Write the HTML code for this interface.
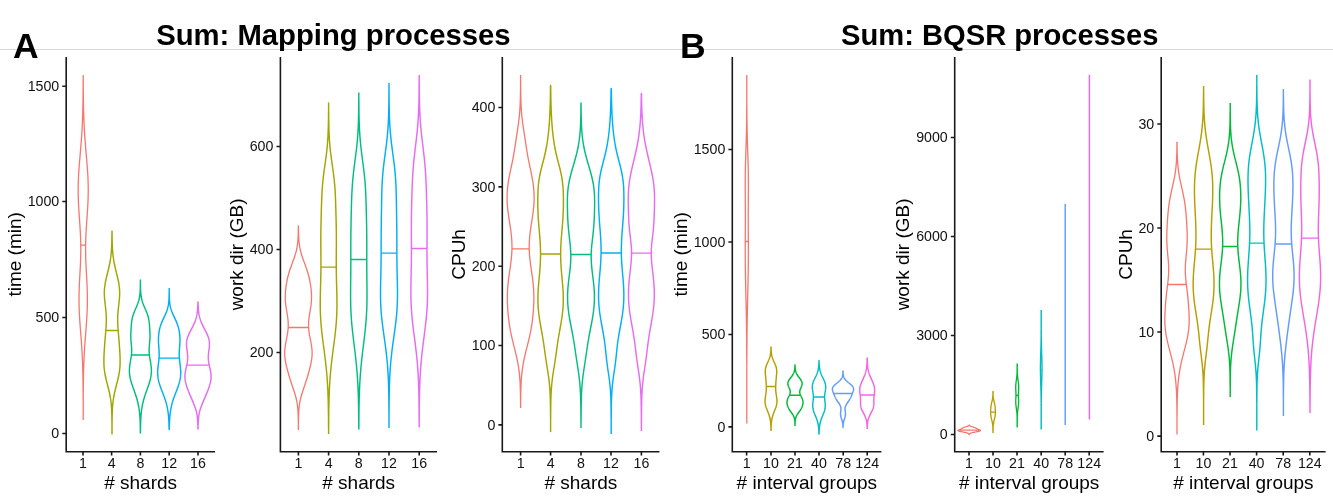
<!DOCTYPE html>
<html><head><meta charset="utf-8"><title>Sum plots</title>
<style>
html,body{margin:0;padding:0;background:#fff;}
body{width:1333px;height:500px;overflow:hidden;font-family:"Liberation Sans",sans-serif;}
svg{display:block}
svg text{font-family:"Liberation Sans",sans-serif;fill:#000}
.tk{font-size:14.2px;fill:#111}
.at{font-size:19px}
.ti{font-size:30.3px;font-weight:bold}
.tag{font-size:35.5px;font-weight:bold}
.v{fill:none;stroke-linejoin:round}
</style></head><body>
<svg width="1333" height="500" viewBox="0 0 1333 500">
<rect width="1333" height="500" fill="#fff"/>
<rect x="0" y="49" width="1333" height="1" fill="#d8d8d8"/>
<text class="tag" x="13" y="58">A</text>
<text class="tag" x="680" y="58">B</text>
<text class="ti" x="156.2" y="45.4" textLength="354.3" lengthAdjust="spacingAndGlyphs">Sum: Mapping processes</text>
<text class="ti" x="841" y="45.4" textLength="317.5" lengthAdjust="spacingAndGlyphs">Sum: BQSR processes</text>

<g stroke="#1a1a1a" stroke-width="1.6" fill="none">
<path stroke-linecap="square" d="M66.2 57.8V451.8H214.2"/>
<path d="M83 451.8v3.7M111.6 451.8v3.7M140.4 451.8v3.7M169.2 451.8v3.7M198 451.8v3.7M66.2 433.5h-3.9M66.2 317.5h-3.9M66.2 201.5h-3.9M66.2 86.25h-3.9"/>
</g>
<text class="tk" x="83" y="468" text-anchor="middle">1</text>
<text class="tk" x="111.6" y="468" text-anchor="middle">4</text>
<text class="tk" x="140.4" y="468" text-anchor="middle">8</text>
<text class="tk" x="169.2" y="468" text-anchor="middle">12</text>
<text class="tk" x="198" y="468" text-anchor="middle">16</text>
<text class="tk" x="59.2" y="438.4" text-anchor="end">0</text>
<text class="tk" x="59.2" y="322.4" text-anchor="end">500</text>
<text class="tk" x="59.2" y="206.4" text-anchor="end">1000</text>
<text class="tk" x="59.2" y="91.15" text-anchor="end">1500</text>
<text class="at" x="140.6" y="488.6" text-anchor="middle"># shards</text>
<text class="at" transform="translate(21 254.4) rotate(-90)" text-anchor="middle">time (min)</text>
<g stroke="#1a1a1a" stroke-width="1.6" fill="none">
<path stroke-linecap="square" d="M280.4 57.8V451.8H436.2"/>
<path d="M298.4 451.8v3.7M328.6 451.8v3.7M358.8 451.8v3.7M389 451.8v3.7M419.2 451.8v3.7M280.4 352.5h-3.9M280.4 249.5h-3.9M280.4 146.5h-3.9"/>
</g>
<text class="tk" x="298.4" y="468" text-anchor="middle">1</text>
<text class="tk" x="328.6" y="468" text-anchor="middle">4</text>
<text class="tk" x="358.8" y="468" text-anchor="middle">8</text>
<text class="tk" x="389" y="468" text-anchor="middle">12</text>
<text class="tk" x="419.2" y="468" text-anchor="middle">16</text>
<text class="tk" x="273.4" y="357.4" text-anchor="end">200</text>
<text class="tk" x="273.4" y="254.4" text-anchor="end">400</text>
<text class="tk" x="273.4" y="151.4" text-anchor="end">600</text>
<text class="at" x="358.7" y="488.6" text-anchor="middle"># shards</text>
<text class="at" transform="translate(243 254.4) rotate(-90)" text-anchor="middle">work dir (GB)</text>
<g stroke="#1a1a1a" stroke-width="1.6" fill="none">
<path stroke-linecap="square" d="M502.3 57.8V451.8H658.6"/>
<path d="M520.6 451.8v3.7M550.6 451.8v3.7M581 451.8v3.7M611 451.8v3.7M641.4 451.8v3.7M502.3 424.9h-3.9M502.3 345.5h-3.9M502.3 266.2h-3.9M502.3 186.9h-3.9M502.3 107.5h-3.9"/>
</g>
<text class="tk" x="520.6" y="468" text-anchor="middle">1</text>
<text class="tk" x="550.6" y="468" text-anchor="middle">4</text>
<text class="tk" x="581" y="468" text-anchor="middle">8</text>
<text class="tk" x="611" y="468" text-anchor="middle">12</text>
<text class="tk" x="641.4" y="468" text-anchor="middle">16</text>
<text class="tk" x="495.3" y="429.79999999999995" text-anchor="end">0</text>
<text class="tk" x="495.3" y="350.4" text-anchor="end">100</text>
<text class="tk" x="495.3" y="271.09999999999997" text-anchor="end">200</text>
<text class="tk" x="495.3" y="191.8" text-anchor="end">300</text>
<text class="tk" x="495.3" y="112.4" text-anchor="end">400</text>
<text class="at" x="580.85" y="488.6" text-anchor="middle"># shards</text>
<text class="at" transform="translate(464.5 254.4) rotate(-90)" text-anchor="middle">CPUh</text>
<g stroke="#1a1a1a" stroke-width="1.6" fill="none">
<path stroke-linecap="square" d="M732.3 57.8V451.8H880.6"/>
<path d="M746.6 451.8v3.7M771 451.8v3.7M795 451.8v3.7M819 451.8v3.7M843.2 451.8v3.7M867.2 451.8v3.7M732.3 426.9h-3.9M732.3 334.5h-3.9M732.3 242.0h-3.9M732.3 149.5h-3.9"/>
</g>
<text class="tk" x="746.6" y="468" text-anchor="middle">1</text>
<text class="tk" x="771" y="468" text-anchor="middle">10</text>
<text class="tk" x="795" y="468" text-anchor="middle">21</text>
<text class="tk" x="819" y="468" text-anchor="middle">40</text>
<text class="tk" x="843.2" y="468" text-anchor="middle">78</text>
<text class="tk" x="867.2" y="468" text-anchor="middle">124</text>
<text class="tk" x="725.3" y="431.79999999999995" text-anchor="end">0</text>
<text class="tk" x="725.3" y="339.4" text-anchor="end">500</text>
<text class="tk" x="725.3" y="246.9" text-anchor="end">1000</text>
<text class="tk" x="725.3" y="154.4" text-anchor="end">1500</text>
<text class="at" x="806.8499999999999" y="488.6" text-anchor="middle"># interval groups</text>
<text class="at" transform="translate(687.3 254.4) rotate(-90)" text-anchor="middle">time (min)</text>
<g stroke="#1a1a1a" stroke-width="1.6" fill="none">
<path stroke-linecap="square" d="M954.7 57.8V451.8H1102.8"/>
<path d="M969 451.8v3.7M993 451.8v3.7M1017 451.8v3.7M1041.2 451.8v3.7M1065.2 451.8v3.7M1089.2 451.8v3.7M954.7 434.5h-3.9M954.7 335.5h-3.9M954.7 236.5h-3.9M954.7 137.5h-3.9"/>
</g>
<text class="tk" x="969" y="468" text-anchor="middle">1</text>
<text class="tk" x="993" y="468" text-anchor="middle">10</text>
<text class="tk" x="1017" y="468" text-anchor="middle">21</text>
<text class="tk" x="1041.2" y="468" text-anchor="middle">40</text>
<text class="tk" x="1065.2" y="468" text-anchor="middle">78</text>
<text class="tk" x="1089.2" y="468" text-anchor="middle">124</text>
<text class="tk" x="947.7" y="439.4" text-anchor="end">0</text>
<text class="tk" x="947.7" y="340.4" text-anchor="end">3000</text>
<text class="tk" x="947.7" y="241.4" text-anchor="end">6000</text>
<text class="tk" x="947.7" y="142.4" text-anchor="end">9000</text>
<text class="at" x="1029.15" y="488.6" text-anchor="middle"># interval groups</text>
<text class="at" transform="translate(909.2 254.4) rotate(-90)" text-anchor="middle">work dir (GB)</text>
<g stroke="#1a1a1a" stroke-width="1.6" fill="none">
<path stroke-linecap="square" d="M1161.2 57.8V451.8H1324.8"/>
<path d="M1177 451.8v3.7M1203.4 451.8v3.7M1230 451.8v3.7M1256.6 451.8v3.7M1283.2 451.8v3.7M1309.8 451.8v3.7M1161.2 436.1h-3.9M1161.2 332.0h-3.9M1161.2 228.0h-3.9M1161.2 124.0h-3.9"/>
</g>
<text class="tk" x="1177" y="468" text-anchor="middle">1</text>
<text class="tk" x="1203.4" y="468" text-anchor="middle">10</text>
<text class="tk" x="1230" y="468" text-anchor="middle">21</text>
<text class="tk" x="1256.6" y="468" text-anchor="middle">40</text>
<text class="tk" x="1283.2" y="468" text-anchor="middle">78</text>
<text class="tk" x="1309.8" y="468" text-anchor="middle">124</text>
<text class="tk" x="1154.2" y="441.0" text-anchor="end">0</text>
<text class="tk" x="1154.2" y="336.9" text-anchor="end">10</text>
<text class="tk" x="1154.2" y="232.9" text-anchor="end">20</text>
<text class="tk" x="1154.2" y="128.9" text-anchor="end">30</text>
<text class="at" x="1243.4" y="488.6" text-anchor="middle"># interval groups</text>
<text class="at" transform="translate(1131.5 254.4) rotate(-90)" text-anchor="middle">CPUh</text>
<g transform="translate(0 0.5)"><path class="v" stroke="#F8766D" stroke-width="1.3" d="M83.2 74.4V82.4M83.2 397.4V419.6"/>
<path class="v" stroke="#F8766D" stroke-width="1.3" d="M83.20,82.4 83.25,83.4 83.26,84.4 83.26,85.4 83.27,86.4 83.27,87.4 83.28,88.4 83.29,89.4 83.30,90.4 83.30,91.4 83.31,92.4 83.32,93.4 83.33,94.4 83.34,95.4 83.35,96.4 83.36,97.4 83.38,98.4 83.39,99.4 83.40,100.4 83.42,101.4 83.44,102.4 83.45,103.4 83.47,104.4 83.49,105.4 83.51,106.4 83.53,107.4 83.55,108.4 83.58,109.4 83.60,110.4 83.63,111.4 83.66,112.4 83.69,113.4 83.72,114.4 83.75,115.4 83.78,116.4 83.82,117.4 83.86,118.4 83.90,119.4 83.94,120.4 83.98,121.4 84.02,122.4 84.07,123.4 84.11,124.4 84.16,125.4 84.21,126.4 84.27,127.4 84.32,128.4 84.38,129.4 84.43,130.4 84.49,131.4 84.56,132.4 84.62,133.4 84.68,134.4 84.75,135.4 84.82,136.4 84.89,137.4 84.96,138.4 85.03,139.4 85.11,140.4 85.19,141.4 85.26,142.4 85.34,143.4 85.42,144.4 85.50,145.4 85.59,146.4 85.67,147.4 85.75,148.4 85.84,149.4 85.93,150.4 86.01,151.4 86.10,152.4 86.18,153.4 86.27,154.4 86.36,155.4 86.44,156.4 86.53,157.4 86.62,158.4 86.70,159.4 86.79,160.4 86.87,161.4 86.95,162.4 87.03,163.4 87.11,164.4 87.19,165.4 87.27,166.4 87.34,167.4 87.41,168.4 87.48,169.4 87.55,170.4 87.62,171.4 87.68,172.4 87.74,173.4 87.80,174.4 87.85,175.4 87.90,176.4 87.95,177.4 87.99,178.4 88.03,179.4 88.07,180.4 88.10,181.4 88.13,182.4 88.16,183.4 88.18,184.4 88.20,185.4 88.21,186.4 88.22,187.4 88.23,188.4 88.23,189.4 88.23,190.4 88.23,191.4 88.22,192.4 88.20,193.4 88.19,194.4 88.17,195.4 88.14,196.4 88.11,197.4 88.08,198.4 88.05,199.4 88.01,200.4 87.97,201.4 87.92,202.4 87.88,203.4 87.83,204.4 87.77,205.4 87.72,206.4 87.66,207.4 87.60,208.4 87.54,209.4 87.48,210.4 87.41,211.4 87.35,212.4 87.28,213.4 87.21,214.4 87.14,215.4 87.07,216.4 87.00,217.4 86.93,218.4 86.86,219.4 86.79,220.4 86.72,221.4 86.65,222.4 86.58,223.4 86.52,224.4 86.45,225.4 86.39,226.4 86.32,227.4 86.26,228.4 86.20,229.4 86.15,230.4 86.09,231.4 86.04,232.4 85.99,233.4 85.94,234.4 85.89,235.4 85.85,236.4 85.81,237.4 85.78,238.4 85.74,239.4 85.71,240.4 85.69,241.4 85.66,242.4 85.64,243.4 85.63,244.4 85.62,245.4 85.61,246.4 85.60,247.4 85.60,248.4 85.60,249.4 85.61,250.4 85.61,251.4 85.63,252.4 85.64,253.4 85.66,254.4 85.68,255.4 85.70,256.4 85.73,257.4 85.76,258.4 85.80,259.4 85.83,260.4 85.87,261.4 85.91,262.4 85.95,263.4 86.00,264.4 86.05,265.4 86.09,266.4 86.14,267.4 86.20,268.4 86.25,269.4 86.30,270.4 86.36,271.4 86.41,272.4 86.47,273.4 86.52,274.4 86.58,275.4 86.63,276.4 86.69,277.4 86.74,278.4 86.79,279.4 86.84,280.4 86.89,281.4 86.94,282.4 86.99,283.4 87.04,284.4 87.08,285.4 87.12,286.4 87.16,287.4 87.19,288.4 87.23,289.4 87.26,290.4 87.29,291.4 87.31,292.4 87.33,293.4 87.35,294.4 87.36,295.4 87.37,296.4 87.38,297.4 87.39,298.4 87.39,299.4 87.38,300.4 87.38,301.4 87.36,302.4 87.35,303.4 87.33,304.4 87.31,305.4 87.28,306.4 87.26,307.4 87.22,308.4 87.19,309.4 87.15,310.4 87.11,311.4 87.06,312.4 87.01,313.4 86.96,314.4 86.91,315.4 86.85,316.4 86.79,317.4 86.73,318.4 86.67,319.4 86.60,320.4 86.53,321.4 86.46,322.4 86.39,323.4 86.32,324.4 86.25,325.4 86.17,326.4 86.10,327.4 86.02,328.4 85.94,329.4 85.87,330.4 85.79,331.4 85.71,332.4 85.63,333.4 85.56,334.4 85.48,335.4 85.40,336.4 85.33,337.4 85.25,338.4 85.18,339.4 85.10,340.4 85.03,341.4 84.96,342.4 84.89,343.4 84.82,344.4 84.75,345.4 84.68,346.4 84.62,347.4 84.56,348.4 84.50,349.4 84.44,350.4 84.38,351.4 84.32,352.4 84.27,353.4 84.21,354.4 84.16,355.4 84.11,356.4 84.06,357.4 84.02,358.4 83.97,359.4 83.93,360.4 83.89,361.4 83.85,362.4 83.81,363.4 83.78,364.4 83.74,365.4 83.71,366.4 83.68,367.4 83.65,368.4 83.62,369.4 83.59,370.4 83.57,371.4 83.54,372.4 83.52,373.4 83.50,374.4 83.48,375.4 83.46,376.4 83.44,377.4 83.42,378.4 83.41,379.4 83.39,380.4 83.38,381.4 83.36,382.4 83.35,383.4 83.34,384.4 83.33,385.4 83.32,386.4 83.31,387.4 83.30,388.4 83.29,389.4 83.29,390.4 83.28,391.4 83.27,392.4 83.27,393.4 83.26,394.4 83.25,395.4 83.25,396.4 83.20,397.4 83.20,397.4 83.15,396.4 83.15,395.4 83.14,394.4 83.13,393.4 83.13,392.4 83.12,391.4 83.11,390.4 83.11,389.4 83.10,388.4 83.09,387.4 83.08,386.4 83.07,385.4 83.06,384.4 83.05,383.4 83.04,382.4 83.02,381.4 83.01,380.4 82.99,379.4 82.98,378.4 82.96,377.4 82.94,376.4 82.92,375.4 82.90,374.4 82.88,373.4 82.86,372.4 82.83,371.4 82.81,370.4 82.78,369.4 82.75,368.4 82.72,367.4 82.69,366.4 82.66,365.4 82.62,364.4 82.59,363.4 82.55,362.4 82.51,361.4 82.47,360.4 82.43,359.4 82.38,358.4 82.34,357.4 82.29,356.4 82.24,355.4 82.19,354.4 82.13,353.4 82.08,352.4 82.02,351.4 81.96,350.4 81.90,349.4 81.84,348.4 81.78,347.4 81.72,346.4 81.65,345.4 81.58,344.4 81.51,343.4 81.44,342.4 81.37,341.4 81.30,340.4 81.22,339.4 81.15,338.4 81.07,337.4 81.00,336.4 80.92,335.4 80.84,334.4 80.77,333.4 80.69,332.4 80.61,331.4 80.53,330.4 80.46,329.4 80.38,328.4 80.30,327.4 80.23,326.4 80.15,325.4 80.08,324.4 80.01,323.4 79.94,322.4 79.87,321.4 79.80,320.4 79.73,319.4 79.67,318.4 79.61,317.4 79.55,316.4 79.49,315.4 79.44,314.4 79.39,313.4 79.34,312.4 79.29,311.4 79.25,310.4 79.21,309.4 79.18,308.4 79.14,307.4 79.12,306.4 79.09,305.4 79.07,304.4 79.05,303.4 79.04,302.4 79.02,301.4 79.02,300.4 79.01,299.4 79.01,298.4 79.02,297.4 79.03,296.4 79.04,295.4 79.05,294.4 79.07,293.4 79.09,292.4 79.11,291.4 79.14,290.4 79.17,289.4 79.21,288.4 79.24,287.4 79.28,286.4 79.32,285.4 79.36,284.4 79.41,283.4 79.46,282.4 79.51,281.4 79.56,280.4 79.61,279.4 79.66,278.4 79.71,277.4 79.77,276.4 79.82,275.4 79.88,274.4 79.93,273.4 79.99,272.4 80.04,271.4 80.10,270.4 80.15,269.4 80.20,268.4 80.26,267.4 80.31,266.4 80.35,265.4 80.40,264.4 80.45,263.4 80.49,262.4 80.53,261.4 80.57,260.4 80.60,259.4 80.64,258.4 80.67,257.4 80.70,256.4 80.72,255.4 80.74,254.4 80.76,253.4 80.77,252.4 80.79,251.4 80.79,250.4 80.80,249.4 80.80,248.4 80.80,247.4 80.79,246.4 80.78,245.4 80.77,244.4 80.76,243.4 80.74,242.4 80.71,241.4 80.69,240.4 80.66,239.4 80.62,238.4 80.59,237.4 80.55,236.4 80.51,235.4 80.46,234.4 80.41,233.4 80.36,232.4 80.31,231.4 80.25,230.4 80.20,229.4 80.14,228.4 80.08,227.4 80.01,226.4 79.95,225.4 79.88,224.4 79.82,223.4 79.75,222.4 79.68,221.4 79.61,220.4 79.54,219.4 79.47,218.4 79.40,217.4 79.33,216.4 79.26,215.4 79.19,214.4 79.12,213.4 79.05,212.4 78.99,211.4 78.92,210.4 78.86,209.4 78.80,208.4 78.74,207.4 78.68,206.4 78.63,205.4 78.57,204.4 78.52,203.4 78.48,202.4 78.43,201.4 78.39,200.4 78.35,199.4 78.32,198.4 78.29,197.4 78.26,196.4 78.23,195.4 78.21,194.4 78.20,193.4 78.18,192.4 78.17,191.4 78.17,190.4 78.17,189.4 78.17,188.4 78.18,187.4 78.19,186.4 78.20,185.4 78.22,184.4 78.24,183.4 78.27,182.4 78.30,181.4 78.33,180.4 78.37,179.4 78.41,178.4 78.45,177.4 78.50,176.4 78.55,175.4 78.60,174.4 78.66,173.4 78.72,172.4 78.78,171.4 78.85,170.4 78.92,169.4 78.99,168.4 79.06,167.4 79.13,166.4 79.21,165.4 79.29,164.4 79.37,163.4 79.45,162.4 79.53,161.4 79.61,160.4 79.70,159.4 79.78,158.4 79.87,157.4 79.96,156.4 80.04,155.4 80.13,154.4 80.22,153.4 80.30,152.4 80.39,151.4 80.47,150.4 80.56,149.4 80.65,148.4 80.73,147.4 80.81,146.4 80.90,145.4 80.98,144.4 81.06,143.4 81.14,142.4 81.21,141.4 81.29,140.4 81.37,139.4 81.44,138.4 81.51,137.4 81.58,136.4 81.65,135.4 81.72,134.4 81.78,133.4 81.84,132.4 81.91,131.4 81.97,130.4 82.02,129.4 82.08,128.4 82.13,127.4 82.19,126.4 82.24,125.4 82.29,124.4 82.33,123.4 82.38,122.4 82.42,121.4 82.46,120.4 82.50,119.4 82.54,118.4 82.58,117.4 82.62,116.4 82.65,115.4 82.68,114.4 82.71,113.4 82.74,112.4 82.77,111.4 82.80,110.4 82.82,109.4 82.85,108.4 82.87,107.4 82.89,106.4 82.91,105.4 82.93,104.4 82.95,103.4 82.96,102.4 82.98,101.4 83.00,100.4 83.01,99.4 83.02,98.4 83.04,97.4 83.05,96.4 83.06,95.4 83.07,94.4 83.08,93.4 83.09,92.4 83.10,91.4 83.10,90.4 83.11,89.4 83.12,88.4 83.13,87.4 83.13,86.4 83.14,85.4 83.14,84.4 83.15,83.4 83.20,82.4ZM80.77 244.6H85.63"/>
<path class="v" stroke="#A3A500" stroke-width="1.45" d="M112 230V233.0M112 422.0V434"/>
<path class="v" stroke="#A3A500" stroke-width="1.45" d="M112.00,233.0 112.05,234.0 112.06,235.0 112.07,236.0 112.09,237.0 112.10,238.0 112.12,239.0 112.14,240.0 112.17,241.0 112.19,242.0 112.23,243.0 112.26,244.0 112.30,245.0 112.35,246.0 112.40,247.0 112.45,248.0 112.51,249.0 112.58,250.0 112.66,251.0 112.75,252.0 112.84,253.0 112.94,254.0 113.05,255.0 113.17,256.0 113.30,257.0 113.44,258.0 113.59,259.0 113.75,260.0 113.92,261.0 114.10,262.0 114.29,263.0 114.49,264.0 114.70,265.0 114.92,266.0 115.14,267.0 115.37,268.0 115.61,269.0 115.85,270.0 116.10,271.0 116.35,272.0 116.60,273.0 116.85,274.0 117.10,275.0 117.34,276.0 117.58,277.0 117.81,278.0 118.04,279.0 118.25,280.0 118.46,281.0 118.65,282.0 118.83,283.0 118.99,284.0 119.13,285.0 119.26,286.0 119.38,287.0 119.47,288.0 119.54,289.0 119.60,290.0 119.64,291.0 119.66,292.0 119.66,293.0 119.64,294.0 119.61,295.0 119.56,296.0 119.50,297.0 119.43,298.0 119.34,299.0 119.25,300.0 119.15,301.0 119.04,302.0 118.93,303.0 118.81,304.0 118.69,305.0 118.58,306.0 118.46,307.0 118.35,308.0 118.25,309.0 118.15,310.0 118.06,311.0 117.98,312.0 117.90,313.0 117.84,314.0 117.79,315.0 117.75,316.0 117.72,317.0 117.70,318.0 117.69,319.0 117.69,320.0 117.71,321.0 117.73,322.0 117.76,323.0 117.80,324.0 117.85,325.0 117.90,326.0 117.97,327.0 118.03,328.0 118.11,329.0 118.18,330.0 118.26,331.0 118.34,332.0 118.43,333.0 118.51,334.0 118.59,335.0 118.68,336.0 118.76,337.0 118.85,338.0 118.93,339.0 119.01,340.0 119.09,341.0 119.17,342.0 119.25,343.0 119.32,344.0 119.39,345.0 119.47,346.0 119.53,347.0 119.60,348.0 119.67,349.0 119.73,350.0 119.79,351.0 119.84,352.0 119.90,353.0 119.95,354.0 119.99,355.0 120.03,356.0 120.06,357.0 120.09,358.0 120.10,359.0 120.11,360.0 120.11,361.0 120.10,362.0 120.08,363.0 120.05,364.0 120.00,365.0 119.94,366.0 119.86,367.0 119.77,368.0 119.67,369.0 119.55,370.0 119.42,371.0 119.27,372.0 119.10,373.0 118.93,374.0 118.73,375.0 118.53,376.0 118.32,377.0 118.09,378.0 117.85,379.0 117.61,380.0 117.36,381.0 117.11,382.0 116.85,383.0 116.59,384.0 116.33,385.0 116.07,386.0 115.82,387.0 115.57,388.0 115.32,389.0 115.08,390.0 114.85,391.0 114.62,392.0 114.41,393.0 114.20,394.0 114.01,395.0 113.83,396.0 113.65,397.0 113.49,398.0 113.34,399.0 113.20,400.0 113.07,401.0 112.95,402.0 112.84,403.0 112.74,404.0 112.66,405.0 112.57,406.0 112.50,407.0 112.44,408.0 112.38,409.0 112.33,410.0 112.28,411.0 112.24,412.0 112.21,413.0 112.18,414.0 112.15,415.0 112.13,416.0 112.11,417.0 112.09,418.0 112.07,419.0 112.06,420.0 112.05,421.0 112.00,422.0 112.00,422.0 111.95,421.0 111.94,420.0 111.93,419.0 111.91,418.0 111.89,417.0 111.87,416.0 111.85,415.0 111.82,414.0 111.79,413.0 111.76,412.0 111.72,411.0 111.67,410.0 111.62,409.0 111.56,408.0 111.50,407.0 111.43,406.0 111.34,405.0 111.26,404.0 111.16,403.0 111.05,402.0 110.93,401.0 110.80,400.0 110.66,399.0 110.51,398.0 110.35,397.0 110.17,396.0 109.99,395.0 109.80,394.0 109.59,393.0 109.38,392.0 109.15,391.0 108.92,390.0 108.68,389.0 108.43,388.0 108.18,387.0 107.93,386.0 107.67,385.0 107.41,384.0 107.15,383.0 106.89,382.0 106.64,381.0 106.39,380.0 106.15,379.0 105.91,378.0 105.68,377.0 105.47,376.0 105.27,375.0 105.07,374.0 104.90,373.0 104.73,372.0 104.58,371.0 104.45,370.0 104.33,369.0 104.23,368.0 104.14,367.0 104.06,366.0 104.00,365.0 103.95,364.0 103.92,363.0 103.90,362.0 103.89,361.0 103.89,360.0 103.90,359.0 103.91,358.0 103.94,357.0 103.97,356.0 104.01,355.0 104.05,354.0 104.10,353.0 104.16,352.0 104.21,351.0 104.27,350.0 104.33,349.0 104.40,348.0 104.47,347.0 104.53,346.0 104.61,345.0 104.68,344.0 104.75,343.0 104.83,342.0 104.91,341.0 104.99,340.0 105.07,339.0 105.15,338.0 105.24,337.0 105.32,336.0 105.41,335.0 105.49,334.0 105.57,333.0 105.66,332.0 105.74,331.0 105.82,330.0 105.89,329.0 105.97,328.0 106.03,327.0 106.10,326.0 106.15,325.0 106.20,324.0 106.24,323.0 106.27,322.0 106.29,321.0 106.31,320.0 106.31,319.0 106.30,318.0 106.28,317.0 106.25,316.0 106.21,315.0 106.16,314.0 106.10,313.0 106.02,312.0 105.94,311.0 105.85,310.0 105.75,309.0 105.65,308.0 105.54,307.0 105.42,306.0 105.31,305.0 105.19,304.0 105.07,303.0 104.96,302.0 104.85,301.0 104.75,300.0 104.66,299.0 104.57,298.0 104.50,297.0 104.44,296.0 104.39,295.0 104.36,294.0 104.34,293.0 104.34,292.0 104.36,291.0 104.40,290.0 104.46,289.0 104.53,288.0 104.62,287.0 104.74,286.0 104.87,285.0 105.01,284.0 105.17,283.0 105.35,282.0 105.54,281.0 105.75,280.0 105.96,279.0 106.19,278.0 106.42,277.0 106.66,276.0 106.90,275.0 107.15,274.0 107.40,273.0 107.65,272.0 107.90,271.0 108.15,270.0 108.39,269.0 108.63,268.0 108.86,267.0 109.08,266.0 109.30,265.0 109.51,264.0 109.71,263.0 109.90,262.0 110.08,261.0 110.25,260.0 110.41,259.0 110.56,258.0 110.70,257.0 110.83,256.0 110.95,255.0 111.06,254.0 111.16,253.0 111.25,252.0 111.34,251.0 111.42,250.0 111.49,249.0 111.55,248.0 111.60,247.0 111.65,246.0 111.70,245.0 111.74,244.0 111.77,243.0 111.81,242.0 111.83,241.0 111.86,240.0 111.88,239.0 111.90,238.0 111.91,237.0 111.93,236.0 111.94,235.0 111.95,234.0 112.00,233.0ZM105.82 330H118.18"/>
<path class="v" stroke="#00BF7D" stroke-width="1.45" d="M140.4 279V284.0M140.4 432.0V433"/>
<path class="v" stroke="#00BF7D" stroke-width="1.45" d="M140.40,284.0 140.45,285.0 140.47,286.0 140.49,287.0 140.52,288.0 140.56,289.0 140.60,290.0 140.66,291.0 140.73,292.0 140.82,293.0 140.93,294.0 141.05,295.0 141.20,296.0 141.38,297.0 141.58,298.0 141.81,299.0 142.06,300.0 142.35,301.0 142.67,302.0 143.01,303.0 143.38,304.0 143.77,305.0 144.18,306.0 144.61,307.0 145.04,308.0 145.48,309.0 145.91,310.0 146.33,311.0 146.73,312.0 147.12,313.0 147.48,314.0 147.80,315.0 148.10,316.0 148.36,317.0 148.59,318.0 148.79,319.0 148.96,320.0 149.11,321.0 149.23,322.0 149.33,323.0 149.42,324.0 149.50,325.0 149.57,326.0 149.64,327.0 149.70,328.0 149.76,329.0 149.82,330.0 149.88,331.0 149.93,332.0 149.96,333.0 149.99,334.0 150.01,335.0 150.00,336.0 149.99,337.0 149.95,338.0 149.90,339.0 149.83,340.0 149.75,341.0 149.66,342.0 149.57,343.0 149.47,344.0 149.38,345.0 149.29,346.0 149.22,347.0 149.17,348.0 149.13,349.0 149.12,350.0 149.14,351.0 149.18,352.0 149.24,353.0 149.33,354.0 149.45,355.0 149.58,356.0 149.73,357.0 149.89,358.0 150.07,359.0 150.24,360.0 150.42,361.0 150.59,362.0 150.76,363.0 150.91,364.0 151.05,365.0 151.17,366.0 151.26,367.0 151.34,368.0 151.38,369.0 151.40,370.0 151.39,371.0 151.35,372.0 151.28,373.0 151.19,374.0 151.06,375.0 150.90,376.0 150.72,377.0 150.51,378.0 150.27,379.0 150.02,380.0 149.74,381.0 149.44,382.0 149.13,383.0 148.81,384.0 148.47,385.0 148.12,386.0 147.77,387.0 147.41,388.0 147.05,389.0 146.69,390.0 146.34,391.0 145.98,392.0 145.64,393.0 145.30,394.0 144.96,395.0 144.64,396.0 144.33,397.0 144.03,398.0 143.75,399.0 143.48,400.0 143.22,401.0 142.97,402.0 142.74,403.0 142.53,404.0 142.33,405.0 142.14,406.0 141.97,407.0 141.81,408.0 141.66,409.0 141.52,410.0 141.40,411.0 141.29,412.0 141.18,413.0 141.09,414.0 141.01,415.0 140.93,416.0 140.87,417.0 140.81,418.0 140.75,419.0 140.71,420.0 140.66,421.0 140.63,422.0 140.60,423.0 140.57,424.0 140.54,425.0 140.52,426.0 140.50,427.0 140.49,428.0 140.47,429.0 140.46,430.0 140.45,431.0 140.40,432.0 140.40,432.0 140.35,431.0 140.34,430.0 140.33,429.0 140.31,428.0 140.30,427.0 140.28,426.0 140.26,425.0 140.23,424.0 140.20,423.0 140.17,422.0 140.14,421.0 140.09,420.0 140.05,419.0 139.99,418.0 139.93,417.0 139.87,416.0 139.79,415.0 139.71,414.0 139.62,413.0 139.51,412.0 139.40,411.0 139.28,410.0 139.14,409.0 138.99,408.0 138.83,407.0 138.66,406.0 138.47,405.0 138.27,404.0 138.06,403.0 137.83,402.0 137.58,401.0 137.32,400.0 137.05,399.0 136.77,398.0 136.47,397.0 136.16,396.0 135.84,395.0 135.50,394.0 135.16,393.0 134.82,392.0 134.46,391.0 134.11,390.0 133.75,389.0 133.39,388.0 133.03,387.0 132.68,386.0 132.33,385.0 131.99,384.0 131.67,383.0 131.36,382.0 131.06,381.0 130.78,380.0 130.53,379.0 130.29,378.0 130.08,377.0 129.90,376.0 129.74,375.0 129.61,374.0 129.52,373.0 129.45,372.0 129.41,371.0 129.40,370.0 129.42,369.0 129.46,368.0 129.54,367.0 129.63,366.0 129.75,365.0 129.89,364.0 130.04,363.0 130.21,362.0 130.38,361.0 130.56,360.0 130.73,359.0 130.91,358.0 131.07,357.0 131.22,356.0 131.35,355.0 131.47,354.0 131.56,353.0 131.62,352.0 131.66,351.0 131.68,350.0 131.67,349.0 131.63,348.0 131.58,347.0 131.51,346.0 131.42,345.0 131.33,344.0 131.23,343.0 131.14,342.0 131.05,341.0 130.97,340.0 130.90,339.0 130.85,338.0 130.81,337.0 130.80,336.0 130.79,335.0 130.81,334.0 130.84,333.0 130.87,332.0 130.92,331.0 130.98,330.0 131.04,329.0 131.10,328.0 131.16,327.0 131.23,326.0 131.30,325.0 131.38,324.0 131.47,323.0 131.57,322.0 131.69,321.0 131.84,320.0 132.01,319.0 132.21,318.0 132.44,317.0 132.70,316.0 133.00,315.0 133.32,314.0 133.68,313.0 134.07,312.0 134.47,311.0 134.89,310.0 135.32,309.0 135.76,308.0 136.19,307.0 136.62,306.0 137.03,305.0 137.42,304.0 137.79,303.0 138.13,302.0 138.45,301.0 138.74,300.0 138.99,299.0 139.22,298.0 139.42,297.0 139.60,296.0 139.75,295.0 139.87,294.0 139.98,293.0 140.07,292.0 140.14,291.0 140.20,290.0 140.24,289.0 140.28,288.0 140.31,287.0 140.33,286.0 140.35,285.0 140.40,284.0ZM131.41 354.5H149.39"/>
<path class="v" stroke="#00B0F6" stroke-width="1.45" d="M169.2 287.4V293.4"/>
<path class="v" stroke="#00B0F6" stroke-width="1.45" d="M169.20,293.4 169.26,294.4 169.28,295.4 169.31,296.4 169.35,297.4 169.39,298.4 169.45,299.4 169.53,300.4 169.62,301.4 169.73,302.4 169.86,303.4 170.01,304.4 170.20,305.4 170.41,306.4 170.66,307.4 170.93,308.4 171.24,309.4 171.58,310.4 171.96,311.4 172.36,312.4 172.78,313.4 173.23,314.4 173.69,315.4 174.15,316.4 174.63,317.4 175.10,318.4 175.56,319.4 176.01,320.4 176.45,321.4 176.86,322.4 177.24,323.4 177.60,324.4 177.93,325.4 178.24,326.4 178.51,327.4 178.76,328.4 178.97,329.4 179.17,330.4 179.34,331.4 179.49,332.4 179.61,333.4 179.72,334.4 179.81,335.4 179.87,336.4 179.92,337.4 179.94,338.4 179.95,339.4 179.94,340.4 179.92,341.4 179.88,342.4 179.82,343.4 179.76,344.4 179.69,345.4 179.61,346.4 179.53,347.4 179.46,348.4 179.39,349.4 179.33,350.4 179.28,351.4 179.25,352.4 179.23,353.4 179.23,354.4 179.26,355.4 179.30,356.4 179.35,357.4 179.43,358.4 179.52,359.4 179.63,360.4 179.75,361.4 179.87,362.4 180.00,363.4 180.13,364.4 180.25,365.4 180.37,366.4 180.48,367.4 180.57,368.4 180.65,369.4 180.70,370.4 180.74,371.4 180.74,372.4 180.72,373.4 180.67,374.4 180.60,375.4 180.49,376.4 180.35,377.4 180.18,378.4 179.98,379.4 179.76,380.4 179.51,381.4 179.23,382.4 178.94,383.4 178.62,384.4 178.28,385.4 177.93,386.4 177.57,387.4 177.20,388.4 176.82,389.4 176.43,390.4 176.05,391.4 175.66,392.4 175.28,393.4 174.90,394.4 174.52,395.4 174.16,396.4 173.81,397.4 173.47,398.4 173.14,399.4 172.82,400.4 172.52,401.4 172.24,402.4 171.97,403.4 171.72,404.4 171.48,405.4 171.26,406.4 171.05,407.4 170.86,408.4 170.68,409.4 170.52,410.4 170.38,411.4 170.24,412.4 170.12,413.4 170.01,414.4 169.91,415.4 169.82,416.4 169.74,417.4 169.67,418.4 169.61,419.4 169.55,420.4 169.50,421.4 169.46,422.4 169.42,423.4 169.39,424.4 169.36,425.4 169.34,426.4 169.32,427.4 169.30,428.4 169.20,429.0 169.20,429.0 169.10,428.4 169.08,427.4 169.06,426.4 169.04,425.4 169.01,424.4 168.98,423.4 168.94,422.4 168.90,421.4 168.85,420.4 168.79,419.4 168.73,418.4 168.66,417.4 168.58,416.4 168.49,415.4 168.39,414.4 168.28,413.4 168.16,412.4 168.02,411.4 167.88,410.4 167.72,409.4 167.54,408.4 167.35,407.4 167.14,406.4 166.92,405.4 166.68,404.4 166.43,403.4 166.16,402.4 165.88,401.4 165.58,400.4 165.26,399.4 164.93,398.4 164.59,397.4 164.24,396.4 163.88,395.4 163.50,394.4 163.12,393.4 162.74,392.4 162.35,391.4 161.97,390.4 161.58,389.4 161.20,388.4 160.83,387.4 160.47,386.4 160.12,385.4 159.78,384.4 159.46,383.4 159.17,382.4 158.89,381.4 158.64,380.4 158.42,379.4 158.22,378.4 158.05,377.4 157.91,376.4 157.80,375.4 157.73,374.4 157.68,373.4 157.66,372.4 157.66,371.4 157.70,370.4 157.75,369.4 157.83,368.4 157.92,367.4 158.03,366.4 158.15,365.4 158.27,364.4 158.40,363.4 158.53,362.4 158.65,361.4 158.77,360.4 158.88,359.4 158.97,358.4 159.05,357.4 159.10,356.4 159.14,355.4 159.17,354.4 159.17,353.4 159.15,352.4 159.12,351.4 159.07,350.4 159.01,349.4 158.94,348.4 158.87,347.4 158.79,346.4 158.71,345.4 158.64,344.4 158.58,343.4 158.52,342.4 158.48,341.4 158.46,340.4 158.45,339.4 158.46,338.4 158.48,337.4 158.53,336.4 158.59,335.4 158.68,334.4 158.79,333.4 158.91,332.4 159.06,331.4 159.23,330.4 159.43,329.4 159.64,328.4 159.89,327.4 160.16,326.4 160.47,325.4 160.80,324.4 161.16,323.4 161.54,322.4 161.95,321.4 162.39,320.4 162.84,319.4 163.30,318.4 163.77,317.4 164.25,316.4 164.71,315.4 165.17,314.4 165.62,313.4 166.04,312.4 166.44,311.4 166.82,310.4 167.16,309.4 167.47,308.4 167.74,307.4 167.99,306.4 168.20,305.4 168.39,304.4 168.54,303.4 168.67,302.4 168.78,301.4 168.87,300.4 168.95,299.4 169.01,298.4 169.05,297.4 169.09,296.4 169.12,295.4 169.14,294.4 169.20,293.4ZM159.03 357.6H179.37"/>
<path class="v" stroke="#E76BF3" stroke-width="1.45" d="M198.00,301.4 198.09,302.4 198.12,303.4 198.15,304.4 198.19,305.4 198.24,306.4 198.29,307.4 198.36,308.4 198.44,309.4 198.54,310.4 198.66,311.4 198.79,312.4 198.94,313.4 199.12,314.4 199.32,315.4 199.55,316.4 199.81,317.4 200.10,318.4 200.41,319.4 200.76,320.4 201.14,321.4 201.54,322.4 201.98,323.4 202.44,324.4 202.92,325.4 203.42,326.4 203.93,327.4 204.45,328.4 204.98,329.4 205.50,330.4 206.02,331.4 206.51,332.4 206.99,333.4 207.44,334.4 207.85,335.4 208.22,336.4 208.55,337.4 208.83,338.4 209.06,339.4 209.24,340.4 209.37,341.4 209.45,342.4 209.49,343.4 209.48,344.4 209.44,345.4 209.36,346.4 209.25,347.4 209.13,348.4 209.00,349.4 208.86,350.4 208.72,351.4 208.60,352.4 208.49,353.4 208.40,354.4 208.34,355.4 208.31,356.4 208.31,357.4 208.34,358.4 208.41,359.4 208.51,360.4 208.64,361.4 208.80,362.4 208.99,363.4 209.19,364.4 209.41,365.4 209.63,366.4 209.85,367.4 210.08,368.4 210.29,369.4 210.48,370.4 210.66,371.4 210.81,372.4 210.92,373.4 211.01,374.4 211.05,375.4 211.06,376.4 211.03,377.4 210.96,378.4 210.84,379.4 210.69,380.4 210.51,381.4 210.28,382.4 210.03,383.4 209.75,384.4 209.45,385.4 209.12,386.4 208.78,387.4 208.42,388.4 208.05,389.4 207.67,390.4 207.28,391.4 206.88,392.4 206.47,393.4 206.05,394.4 205.63,395.4 205.21,396.4 204.78,397.4 204.35,398.4 203.92,399.4 203.48,400.4 203.06,401.4 202.63,402.4 202.22,403.4 201.82,404.4 201.43,405.4 201.06,406.4 200.72,407.4 200.39,408.4 200.09,409.4 199.81,410.4 199.56,411.4 199.34,412.4 199.14,413.4 198.96,414.4 198.81,415.4 198.67,416.4 198.56,417.4 198.46,418.4 198.38,419.4 198.31,420.4 198.25,421.4 198.21,422.4 198.17,423.4 198.13,424.4 198.11,425.4 198.09,426.4 198.07,427.4 198.06,428.4 198.00,428.6 198.00,428.6 197.94,428.4 197.93,427.4 197.91,426.4 197.89,425.4 197.87,424.4 197.83,423.4 197.79,422.4 197.75,421.4 197.69,420.4 197.62,419.4 197.54,418.4 197.44,417.4 197.33,416.4 197.19,415.4 197.04,414.4 196.86,413.4 196.66,412.4 196.44,411.4 196.19,410.4 195.91,409.4 195.61,408.4 195.28,407.4 194.94,406.4 194.57,405.4 194.18,404.4 193.78,403.4 193.37,402.4 192.94,401.4 192.52,400.4 192.08,399.4 191.65,398.4 191.22,397.4 190.79,396.4 190.37,395.4 189.95,394.4 189.53,393.4 189.12,392.4 188.72,391.4 188.33,390.4 187.95,389.4 187.58,388.4 187.22,387.4 186.88,386.4 186.55,385.4 186.25,384.4 185.97,383.4 185.72,382.4 185.49,381.4 185.31,380.4 185.16,379.4 185.04,378.4 184.97,377.4 184.94,376.4 184.95,375.4 184.99,374.4 185.08,373.4 185.19,372.4 185.34,371.4 185.52,370.4 185.71,369.4 185.92,368.4 186.15,367.4 186.37,366.4 186.59,365.4 186.81,364.4 187.01,363.4 187.20,362.4 187.36,361.4 187.49,360.4 187.59,359.4 187.66,358.4 187.69,357.4 187.69,356.4 187.66,355.4 187.60,354.4 187.51,353.4 187.40,352.4 187.28,351.4 187.14,350.4 187.00,349.4 186.87,348.4 186.75,347.4 186.64,346.4 186.56,345.4 186.52,344.4 186.51,343.4 186.55,342.4 186.63,341.4 186.76,340.4 186.94,339.4 187.17,338.4 187.45,337.4 187.78,336.4 188.15,335.4 188.56,334.4 189.01,333.4 189.49,332.4 189.98,331.4 190.50,330.4 191.02,329.4 191.55,328.4 192.07,327.4 192.58,326.4 193.08,325.4 193.56,324.4 194.02,323.4 194.46,322.4 194.86,321.4 195.24,320.4 195.59,319.4 195.90,318.4 196.19,317.4 196.45,316.4 196.68,315.4 196.88,314.4 197.06,313.4 197.21,312.4 197.34,311.4 197.46,310.4 197.56,309.4 197.64,308.4 197.71,307.4 197.76,306.4 197.81,305.4 197.85,304.4 197.88,303.4 197.91,302.4 198.00,301.4ZM186.77 364.6H209.23"/>
<path class="v" stroke="#F8766D" stroke-width="1.3" d="M298.4 225V226.0M298.4 423.0V429.6"/>
<path class="v" stroke="#F8766D" stroke-width="1.3" d="M298.40,226.0 298.45,227.0 298.46,228.0 298.47,229.0 298.49,230.0 298.51,231.0 298.53,232.0 298.56,233.0 298.59,234.0 298.63,235.0 298.67,236.0 298.72,237.0 298.78,238.0 298.85,239.0 298.92,240.0 299.01,241.0 299.11,242.0 299.23,243.0 299.35,244.0 299.49,245.0 299.65,246.0 299.82,247.0 300.01,248.0 300.22,249.0 300.44,250.0 300.69,251.0 300.94,252.0 301.22,253.0 301.51,254.0 301.82,255.0 302.14,256.0 302.48,257.0 302.82,258.0 303.18,259.0 303.54,260.0 303.91,261.0 304.28,262.0 304.66,263.0 305.03,264.0 305.40,265.0 305.76,266.0 306.12,267.0 306.47,268.0 306.81,269.0 307.14,270.0 307.46,271.0 307.77,272.0 308.06,273.0 308.34,274.0 308.60,275.0 308.86,276.0 309.10,277.0 309.32,278.0 309.54,279.0 309.74,280.0 309.94,281.0 310.12,282.0 310.30,283.0 310.46,284.0 310.61,285.0 310.76,286.0 310.89,287.0 311.01,288.0 311.13,289.0 311.23,290.0 311.31,291.0 311.39,292.0 311.45,293.0 311.50,294.0 311.53,295.0 311.55,296.0 311.55,297.0 311.53,298.0 311.50,299.0 311.45,300.0 311.38,301.0 311.30,302.0 311.21,303.0 311.10,304.0 310.97,305.0 310.84,306.0 310.69,307.0 310.53,308.0 310.37,309.0 310.21,310.0 310.04,311.0 309.87,312.0 309.70,313.0 309.54,314.0 309.38,315.0 309.24,316.0 309.10,317.0 308.97,318.0 308.86,319.0 308.76,320.0 308.68,321.0 308.62,322.0 308.58,323.0 308.56,324.0 308.56,325.0 308.58,326.0 308.62,327.0 308.69,328.0 308.77,329.0 308.87,330.0 308.99,331.0 309.12,332.0 309.27,333.0 309.44,334.0 309.61,335.0 309.79,336.0 309.99,337.0 310.18,338.0 310.38,339.0 310.58,340.0 310.77,341.0 310.96,342.0 311.15,343.0 311.32,344.0 311.48,345.0 311.62,346.0 311.75,347.0 311.86,348.0 311.96,349.0 312.03,350.0 312.08,351.0 312.10,352.0 312.11,353.0 312.09,354.0 312.04,355.0 311.98,356.0 311.89,357.0 311.78,358.0 311.64,359.0 311.49,360.0 311.32,361.0 311.14,362.0 310.94,363.0 310.72,364.0 310.50,365.0 310.26,366.0 310.01,367.0 309.76,368.0 309.50,369.0 309.23,370.0 308.96,371.0 308.68,372.0 308.40,373.0 308.11,374.0 307.82,375.0 307.53,376.0 307.23,377.0 306.92,378.0 306.61,379.0 306.29,380.0 305.97,381.0 305.65,382.0 305.32,383.0 304.98,384.0 304.65,385.0 304.31,386.0 303.97,387.0 303.63,388.0 303.29,389.0 302.96,390.0 302.63,391.0 302.31,392.0 302.00,393.0 301.70,394.0 301.41,395.0 301.13,396.0 300.87,397.0 300.62,398.0 300.39,399.0 300.18,400.0 299.98,401.0 299.80,402.0 299.63,403.0 299.48,404.0 299.34,405.0 299.22,406.0 299.11,407.0 299.01,408.0 298.93,409.0 298.85,410.0 298.79,411.0 298.73,412.0 298.68,413.0 298.64,414.0 298.60,415.0 298.57,416.0 298.54,417.0 298.52,418.0 298.50,419.0 298.48,420.0 298.47,421.0 298.46,422.0 298.40,423.0 298.40,423.0 298.34,422.0 298.33,421.0 298.32,420.0 298.30,419.0 298.28,418.0 298.26,417.0 298.23,416.0 298.20,415.0 298.16,414.0 298.12,413.0 298.07,412.0 298.01,411.0 297.95,410.0 297.87,409.0 297.79,408.0 297.69,407.0 297.58,406.0 297.46,405.0 297.32,404.0 297.17,403.0 297.00,402.0 296.82,401.0 296.62,400.0 296.41,399.0 296.18,398.0 295.93,397.0 295.67,396.0 295.39,395.0 295.10,394.0 294.80,393.0 294.49,392.0 294.17,391.0 293.84,390.0 293.51,389.0 293.17,388.0 292.83,387.0 292.49,386.0 292.15,385.0 291.82,384.0 291.48,383.0 291.15,382.0 290.83,381.0 290.51,380.0 290.19,379.0 289.88,378.0 289.57,377.0 289.27,376.0 288.98,375.0 288.69,374.0 288.40,373.0 288.12,372.0 287.84,371.0 287.57,370.0 287.30,369.0 287.04,368.0 286.79,367.0 286.54,366.0 286.30,365.0 286.08,364.0 285.86,363.0 285.66,362.0 285.48,361.0 285.31,360.0 285.16,359.0 285.02,358.0 284.91,357.0 284.82,356.0 284.76,355.0 284.71,354.0 284.69,353.0 284.70,352.0 284.72,351.0 284.77,350.0 284.84,349.0 284.94,348.0 285.05,347.0 285.18,346.0 285.32,345.0 285.48,344.0 285.65,343.0 285.84,342.0 286.03,341.0 286.22,340.0 286.42,339.0 286.62,338.0 286.81,337.0 287.01,336.0 287.19,335.0 287.36,334.0 287.53,333.0 287.68,332.0 287.81,331.0 287.93,330.0 288.03,329.0 288.11,328.0 288.18,327.0 288.22,326.0 288.24,325.0 288.24,324.0 288.22,323.0 288.18,322.0 288.12,321.0 288.04,320.0 287.94,319.0 287.83,318.0 287.70,317.0 287.56,316.0 287.42,315.0 287.26,314.0 287.10,313.0 286.93,312.0 286.76,311.0 286.59,310.0 286.43,309.0 286.27,308.0 286.11,307.0 285.96,306.0 285.83,305.0 285.70,304.0 285.59,303.0 285.50,302.0 285.42,301.0 285.35,300.0 285.30,299.0 285.27,298.0 285.25,297.0 285.25,296.0 285.27,295.0 285.30,294.0 285.35,293.0 285.41,292.0 285.49,291.0 285.57,290.0 285.67,289.0 285.79,288.0 285.91,287.0 286.04,286.0 286.19,285.0 286.34,284.0 286.50,283.0 286.68,282.0 286.86,281.0 287.06,280.0 287.26,279.0 287.48,278.0 287.70,277.0 287.94,276.0 288.20,275.0 288.46,274.0 288.74,273.0 289.03,272.0 289.34,271.0 289.66,270.0 289.99,269.0 290.33,268.0 290.68,267.0 291.04,266.0 291.40,265.0 291.77,264.0 292.14,263.0 292.52,262.0 292.89,261.0 293.26,260.0 293.62,259.0 293.98,258.0 294.32,257.0 294.66,256.0 294.98,255.0 295.29,254.0 295.58,253.0 295.86,252.0 296.11,251.0 296.36,250.0 296.58,249.0 296.79,248.0 296.98,247.0 297.15,246.0 297.31,245.0 297.45,244.0 297.57,243.0 297.69,242.0 297.79,241.0 297.88,240.0 297.95,239.0 298.02,238.0 298.08,237.0 298.13,236.0 298.17,235.0 298.21,234.0 298.24,233.0 298.27,232.0 298.29,231.0 298.31,230.0 298.33,229.0 298.34,228.0 298.35,227.0 298.40,226.0ZM288.18 327H308.62"/>
<path class="v" stroke="#A3A500" stroke-width="1.45" d="M328.6 102V110.0M328.6 427.0V433.6"/>
<path class="v" stroke="#A3A500" stroke-width="1.45" d="M328.60,110.0 328.66,111.0 328.66,112.0 328.67,113.0 328.68,114.0 328.69,115.0 328.70,116.0 328.71,117.0 328.72,118.0 328.73,119.0 328.74,120.0 328.76,121.0 328.78,122.0 328.80,123.0 328.82,124.0 328.84,125.0 328.86,126.0 328.89,127.0 328.92,128.0 328.95,129.0 328.98,130.0 329.02,131.0 329.06,132.0 329.10,133.0 329.15,134.0 329.20,135.0 329.25,136.0 329.30,137.0 329.36,138.0 329.43,139.0 329.49,140.0 329.56,141.0 329.64,142.0 329.72,143.0 329.80,144.0 329.89,145.0 329.98,146.0 330.07,147.0 330.17,148.0 330.28,149.0 330.38,150.0 330.50,151.0 330.61,152.0 330.73,153.0 330.85,154.0 330.98,155.0 331.10,156.0 331.23,157.0 331.37,158.0 331.50,159.0 331.64,160.0 331.78,161.0 331.92,162.0 332.06,163.0 332.20,164.0 332.35,165.0 332.49,166.0 332.63,167.0 332.77,168.0 332.91,169.0 333.04,170.0 333.18,171.0 333.31,172.0 333.44,173.0 333.57,174.0 333.70,175.0 333.82,176.0 333.94,177.0 334.05,178.0 334.16,179.0 334.26,180.0 334.37,181.0 334.46,182.0 334.56,183.0 334.65,184.0 334.73,185.0 334.81,186.0 334.89,187.0 334.96,188.0 335.03,189.0 335.09,190.0 335.15,191.0 335.21,192.0 335.26,193.0 335.31,194.0 335.36,195.0 335.40,196.0 335.44,197.0 335.48,198.0 335.52,199.0 335.56,200.0 335.59,201.0 335.63,202.0 335.66,203.0 335.69,204.0 335.72,205.0 335.75,206.0 335.78,207.0 335.81,208.0 335.83,209.0 335.86,210.0 335.89,211.0 335.91,212.0 335.94,213.0 335.97,214.0 335.99,215.0 336.02,216.0 336.04,217.0 336.07,218.0 336.09,219.0 336.12,220.0 336.14,221.0 336.16,222.0 336.18,223.0 336.21,224.0 336.23,225.0 336.25,226.0 336.26,227.0 336.28,228.0 336.30,229.0 336.31,230.0 336.32,231.0 336.33,232.0 336.35,233.0 336.35,234.0 336.36,235.0 336.37,236.0 336.37,237.0 336.38,238.0 336.38,239.0 336.38,240.0 336.38,241.0 336.38,242.0 336.37,243.0 336.37,244.0 336.36,245.0 336.36,246.0 336.35,247.0 336.34,248.0 336.34,249.0 336.33,250.0 336.32,251.0 336.31,252.0 336.31,253.0 336.30,254.0 336.29,255.0 336.28,256.0 336.28,257.0 336.27,258.0 336.27,259.0 336.26,260.0 336.26,261.0 336.26,262.0 336.26,263.0 336.26,264.0 336.26,265.0 336.27,266.0 336.27,267.0 336.28,268.0 336.29,269.0 336.30,270.0 336.31,271.0 336.33,272.0 336.34,273.0 336.36,274.0 336.38,275.0 336.40,276.0 336.42,277.0 336.44,278.0 336.46,279.0 336.49,280.0 336.51,281.0 336.54,282.0 336.56,283.0 336.59,284.0 336.62,285.0 336.65,286.0 336.68,287.0 336.70,288.0 336.73,289.0 336.76,290.0 336.78,291.0 336.81,292.0 336.83,293.0 336.85,294.0 336.88,295.0 336.89,296.0 336.91,297.0 336.93,298.0 336.94,299.0 336.95,300.0 336.96,301.0 336.96,302.0 336.96,303.0 336.96,304.0 336.96,305.0 336.95,306.0 336.94,307.0 336.92,308.0 336.90,309.0 336.88,310.0 336.85,311.0 336.82,312.0 336.78,313.0 336.74,314.0 336.70,315.0 336.65,316.0 336.60,317.0 336.54,318.0 336.48,319.0 336.41,320.0 336.34,321.0 336.27,322.0 336.19,323.0 336.11,324.0 336.03,325.0 335.94,326.0 335.84,327.0 335.75,328.0 335.65,329.0 335.54,330.0 335.44,331.0 335.33,332.0 335.21,333.0 335.10,334.0 334.98,335.0 334.86,336.0 334.74,337.0 334.62,338.0 334.49,339.0 334.36,340.0 334.24,341.0 334.11,342.0 333.98,343.0 333.84,344.0 333.71,345.0 333.58,346.0 333.45,347.0 333.32,348.0 333.19,349.0 333.05,350.0 332.92,351.0 332.79,352.0 332.66,353.0 332.54,354.0 332.41,355.0 332.28,356.0 332.16,357.0 332.04,358.0 331.92,359.0 331.80,360.0 331.68,361.0 331.56,362.0 331.45,363.0 331.34,364.0 331.23,365.0 331.13,366.0 331.02,367.0 330.92,368.0 330.82,369.0 330.73,370.0 330.63,371.0 330.54,372.0 330.46,373.0 330.37,374.0 330.29,375.0 330.21,376.0 330.13,377.0 330.05,378.0 329.98,379.0 329.91,380.0 329.85,381.0 329.78,382.0 329.72,383.0 329.66,384.0 329.60,385.0 329.55,386.0 329.49,387.0 329.44,388.0 329.40,389.0 329.35,390.0 329.31,391.0 329.27,392.0 329.23,393.0 329.19,394.0 329.15,395.0 329.12,396.0 329.08,397.0 329.05,398.0 329.03,399.0 329.00,400.0 328.97,401.0 328.95,402.0 328.92,403.0 328.90,404.0 328.88,405.0 328.86,406.0 328.84,407.0 328.83,408.0 328.81,409.0 328.79,410.0 328.78,411.0 328.77,412.0 328.76,413.0 328.74,414.0 328.73,415.0 328.72,416.0 328.71,417.0 328.70,418.0 328.70,419.0 328.69,420.0 328.68,421.0 328.67,422.0 328.67,423.0 328.66,424.0 328.66,425.0 328.65,426.0 328.60,427.0 328.60,427.0 328.55,426.0 328.54,425.0 328.54,424.0 328.53,423.0 328.53,422.0 328.52,421.0 328.51,420.0 328.50,419.0 328.50,418.0 328.49,417.0 328.48,416.0 328.47,415.0 328.46,414.0 328.44,413.0 328.43,412.0 328.42,411.0 328.41,410.0 328.39,409.0 328.37,408.0 328.36,407.0 328.34,406.0 328.32,405.0 328.30,404.0 328.28,403.0 328.25,402.0 328.23,401.0 328.20,400.0 328.17,399.0 328.15,398.0 328.12,397.0 328.08,396.0 328.05,395.0 328.01,394.0 327.97,393.0 327.93,392.0 327.89,391.0 327.85,390.0 327.80,389.0 327.76,388.0 327.71,387.0 327.65,386.0 327.60,385.0 327.54,384.0 327.48,383.0 327.42,382.0 327.35,381.0 327.29,380.0 327.22,379.0 327.15,378.0 327.07,377.0 326.99,376.0 326.91,375.0 326.83,374.0 326.74,373.0 326.66,372.0 326.57,371.0 326.47,370.0 326.38,369.0 326.28,368.0 326.18,367.0 326.07,366.0 325.97,365.0 325.86,364.0 325.75,363.0 325.64,362.0 325.52,361.0 325.40,360.0 325.28,359.0 325.16,358.0 325.04,357.0 324.92,356.0 324.79,355.0 324.66,354.0 324.54,353.0 324.41,352.0 324.28,351.0 324.15,350.0 324.01,349.0 323.88,348.0 323.75,347.0 323.62,346.0 323.49,345.0 323.36,344.0 323.22,343.0 323.09,342.0 322.96,341.0 322.84,340.0 322.71,339.0 322.58,338.0 322.46,337.0 322.34,336.0 322.22,335.0 322.10,334.0 321.99,333.0 321.87,332.0 321.76,331.0 321.66,330.0 321.55,329.0 321.45,328.0 321.36,327.0 321.26,326.0 321.17,325.0 321.09,324.0 321.01,323.0 320.93,322.0 320.86,321.0 320.79,320.0 320.72,319.0 320.66,318.0 320.60,317.0 320.55,316.0 320.50,315.0 320.46,314.0 320.42,313.0 320.38,312.0 320.35,311.0 320.32,310.0 320.30,309.0 320.28,308.0 320.26,307.0 320.25,306.0 320.24,305.0 320.24,304.0 320.24,303.0 320.24,302.0 320.24,301.0 320.25,300.0 320.26,299.0 320.27,298.0 320.29,297.0 320.31,296.0 320.32,295.0 320.35,294.0 320.37,293.0 320.39,292.0 320.42,291.0 320.44,290.0 320.47,289.0 320.50,288.0 320.52,287.0 320.55,286.0 320.58,285.0 320.61,284.0 320.64,283.0 320.66,282.0 320.69,281.0 320.71,280.0 320.74,279.0 320.76,278.0 320.78,277.0 320.80,276.0 320.82,275.0 320.84,274.0 320.86,273.0 320.87,272.0 320.89,271.0 320.90,270.0 320.91,269.0 320.92,268.0 320.93,267.0 320.93,266.0 320.94,265.0 320.94,264.0 320.94,263.0 320.94,262.0 320.94,261.0 320.94,260.0 320.93,259.0 320.93,258.0 320.92,257.0 320.92,256.0 320.91,255.0 320.90,254.0 320.89,253.0 320.89,252.0 320.88,251.0 320.87,250.0 320.86,249.0 320.86,248.0 320.85,247.0 320.84,246.0 320.84,245.0 320.83,244.0 320.83,243.0 320.82,242.0 320.82,241.0 320.82,240.0 320.82,239.0 320.82,238.0 320.83,237.0 320.83,236.0 320.84,235.0 320.85,234.0 320.85,233.0 320.87,232.0 320.88,231.0 320.89,230.0 320.90,229.0 320.92,228.0 320.94,227.0 320.95,226.0 320.97,225.0 320.99,224.0 321.02,223.0 321.04,222.0 321.06,221.0 321.08,220.0 321.11,219.0 321.13,218.0 321.16,217.0 321.18,216.0 321.21,215.0 321.23,214.0 321.26,213.0 321.29,212.0 321.31,211.0 321.34,210.0 321.37,209.0 321.39,208.0 321.42,207.0 321.45,206.0 321.48,205.0 321.51,204.0 321.54,203.0 321.57,202.0 321.61,201.0 321.64,200.0 321.68,199.0 321.72,198.0 321.76,197.0 321.80,196.0 321.84,195.0 321.89,194.0 321.94,193.0 321.99,192.0 322.05,191.0 322.11,190.0 322.17,189.0 322.24,188.0 322.31,187.0 322.39,186.0 322.47,185.0 322.55,184.0 322.64,183.0 322.74,182.0 322.83,181.0 322.94,180.0 323.04,179.0 323.15,178.0 323.26,177.0 323.38,176.0 323.50,175.0 323.63,174.0 323.76,173.0 323.89,172.0 324.02,171.0 324.16,170.0 324.29,169.0 324.43,168.0 324.57,167.0 324.71,166.0 324.85,165.0 325.00,164.0 325.14,163.0 325.28,162.0 325.42,161.0 325.56,160.0 325.70,159.0 325.83,158.0 325.97,157.0 326.10,156.0 326.22,155.0 326.35,154.0 326.47,153.0 326.59,152.0 326.70,151.0 326.82,150.0 326.92,149.0 327.03,148.0 327.13,147.0 327.22,146.0 327.31,145.0 327.40,144.0 327.48,143.0 327.56,142.0 327.64,141.0 327.71,140.0 327.77,139.0 327.84,138.0 327.90,137.0 327.95,136.0 328.00,135.0 328.05,134.0 328.10,133.0 328.14,132.0 328.18,131.0 328.22,130.0 328.25,129.0 328.28,128.0 328.31,127.0 328.34,126.0 328.36,125.0 328.38,124.0 328.40,123.0 328.42,122.0 328.44,121.0 328.46,120.0 328.47,119.0 328.48,118.0 328.49,117.0 328.50,116.0 328.51,115.0 328.52,114.0 328.53,113.0 328.54,112.0 328.54,111.0 328.60,110.0ZM320.93 266.6H336.27"/>
<path class="v" stroke="#00BF7D" stroke-width="1.45" d="M358.8 92V100.0M358.8 426.0V429"/>
<path class="v" stroke="#00BF7D" stroke-width="1.45" d="M358.80,100.0 358.85,101.0 358.86,102.0 358.87,103.0 358.87,104.0 358.88,105.0 358.89,106.0 358.90,107.0 358.91,108.0 358.92,109.0 358.93,110.0 358.95,111.0 358.96,112.0 358.98,113.0 359.00,114.0 359.01,115.0 359.04,116.0 359.06,117.0 359.08,118.0 359.11,119.0 359.14,120.0 359.17,121.0 359.20,122.0 359.23,123.0 359.27,124.0 359.31,125.0 359.35,126.0 359.39,127.0 359.44,128.0 359.49,129.0 359.55,130.0 359.60,131.0 359.66,132.0 359.73,133.0 359.79,134.0 359.86,135.0 359.94,136.0 360.01,137.0 360.09,138.0 360.17,139.0 360.26,140.0 360.35,141.0 360.45,142.0 360.54,143.0 360.64,144.0 360.75,145.0 360.85,146.0 360.96,147.0 361.07,148.0 361.19,149.0 361.31,150.0 361.43,151.0 361.55,152.0 361.67,153.0 361.80,154.0 361.93,155.0 362.06,156.0 362.19,157.0 362.32,158.0 362.45,159.0 362.58,160.0 362.71,161.0 362.84,162.0 362.97,163.0 363.10,164.0 363.23,165.0 363.36,166.0 363.48,167.0 363.61,168.0 363.73,169.0 363.85,170.0 363.97,171.0 364.08,172.0 364.19,173.0 364.30,174.0 364.41,175.0 364.51,176.0 364.61,177.0 364.70,178.0 364.80,179.0 364.89,180.0 364.97,181.0 365.05,182.0 365.13,183.0 365.20,184.0 365.28,185.0 365.34,186.0 365.41,187.0 365.47,188.0 365.53,189.0 365.58,190.0 365.63,191.0 365.68,192.0 365.73,193.0 365.78,194.0 365.82,195.0 365.86,196.0 365.90,197.0 365.93,198.0 365.97,199.0 366.00,200.0 366.04,201.0 366.07,202.0 366.10,203.0 366.13,204.0 366.15,205.0 366.18,206.0 366.21,207.0 366.23,208.0 366.26,209.0 366.28,210.0 366.31,211.0 366.33,212.0 366.36,213.0 366.38,214.0 366.40,215.0 366.43,216.0 366.45,217.0 366.47,218.0 366.49,219.0 366.51,220.0 366.53,221.0 366.55,222.0 366.57,223.0 366.59,224.0 366.61,225.0 366.63,226.0 366.64,227.0 366.66,228.0 366.67,229.0 366.69,230.0 366.70,231.0 366.71,232.0 366.72,233.0 366.74,234.0 366.74,235.0 366.75,236.0 366.76,237.0 366.77,238.0 366.77,239.0 366.78,240.0 366.78,241.0 366.79,242.0 366.79,243.0 366.79,244.0 366.79,245.0 366.79,246.0 366.79,247.0 366.79,248.0 366.79,249.0 366.79,250.0 366.79,251.0 366.79,252.0 366.79,253.0 366.78,254.0 366.78,255.0 366.78,256.0 366.78,257.0 366.78,258.0 366.78,259.0 366.78,260.0 366.78,261.0 366.78,262.0 366.78,263.0 366.78,264.0 366.78,265.0 366.79,266.0 366.79,267.0 366.80,268.0 366.80,269.0 366.81,270.0 366.82,271.0 366.82,272.0 366.83,273.0 366.84,274.0 366.85,275.0 366.86,276.0 366.87,277.0 366.88,278.0 366.89,279.0 366.90,280.0 366.91,281.0 366.92,282.0 366.94,283.0 366.95,284.0 366.96,285.0 366.97,286.0 366.98,287.0 366.98,288.0 366.99,289.0 367.00,290.0 367.00,291.0 367.01,292.0 367.01,293.0 367.01,294.0 367.01,295.0 367.01,296.0 367.00,297.0 366.99,298.0 366.98,299.0 366.97,300.0 366.96,301.0 366.94,302.0 366.92,303.0 366.90,304.0 366.87,305.0 366.84,306.0 366.81,307.0 366.78,308.0 366.74,309.0 366.70,310.0 366.65,311.0 366.60,312.0 366.55,313.0 366.49,314.0 366.43,315.0 366.37,316.0 366.30,317.0 366.24,318.0 366.16,319.0 366.09,320.0 366.01,321.0 365.92,322.0 365.84,323.0 365.75,324.0 365.66,325.0 365.56,326.0 365.46,327.0 365.36,328.0 365.26,329.0 365.16,330.0 365.05,331.0 364.94,332.0 364.83,333.0 364.72,334.0 364.60,335.0 364.48,336.0 364.37,337.0 364.25,338.0 364.13,339.0 364.01,340.0 363.88,341.0 363.76,342.0 363.64,343.0 363.52,344.0 363.39,345.0 363.27,346.0 363.15,347.0 363.03,348.0 362.91,349.0 362.79,350.0 362.67,351.0 362.55,352.0 362.43,353.0 362.31,354.0 362.20,355.0 362.08,356.0 361.97,357.0 361.86,358.0 361.75,359.0 361.64,360.0 361.54,361.0 361.44,362.0 361.34,363.0 361.24,364.0 361.14,365.0 361.04,366.0 360.95,367.0 360.86,368.0 360.77,369.0 360.69,370.0 360.61,371.0 360.53,372.0 360.45,373.0 360.37,374.0 360.30,375.0 360.23,376.0 360.16,377.0 360.09,378.0 360.03,379.0 359.97,380.0 359.91,381.0 359.85,382.0 359.80,383.0 359.74,384.0 359.69,385.0 359.64,386.0 359.60,387.0 359.55,388.0 359.51,389.0 359.47,390.0 359.43,391.0 359.39,392.0 359.36,393.0 359.33,394.0 359.29,395.0 359.26,396.0 359.23,397.0 359.21,398.0 359.18,399.0 359.16,400.0 359.13,401.0 359.11,402.0 359.09,403.0 359.07,404.0 359.05,405.0 359.04,406.0 359.02,407.0 359.00,408.0 358.99,409.0 358.98,410.0 358.96,411.0 358.95,412.0 358.94,413.0 358.93,414.0 358.92,415.0 358.91,416.0 358.90,417.0 358.90,418.0 358.89,419.0 358.88,420.0 358.87,421.0 358.87,422.0 358.86,423.0 358.86,424.0 358.85,425.0 358.80,426.0 358.80,426.0 358.75,425.0 358.74,424.0 358.74,423.0 358.73,422.0 358.73,421.0 358.72,420.0 358.71,419.0 358.70,418.0 358.70,417.0 358.69,416.0 358.68,415.0 358.67,414.0 358.66,413.0 358.65,412.0 358.64,411.0 358.62,410.0 358.61,409.0 358.60,408.0 358.58,407.0 358.56,406.0 358.55,405.0 358.53,404.0 358.51,403.0 358.49,402.0 358.47,401.0 358.44,400.0 358.42,399.0 358.39,398.0 358.37,397.0 358.34,396.0 358.31,395.0 358.27,394.0 358.24,393.0 358.21,392.0 358.17,391.0 358.13,390.0 358.09,389.0 358.05,388.0 358.00,387.0 357.96,386.0 357.91,385.0 357.86,384.0 357.80,383.0 357.75,382.0 357.69,381.0 357.63,380.0 357.57,379.0 357.51,378.0 357.44,377.0 357.37,376.0 357.30,375.0 357.23,374.0 357.15,373.0 357.07,372.0 356.99,371.0 356.91,370.0 356.83,369.0 356.74,368.0 356.65,367.0 356.56,366.0 356.46,365.0 356.36,364.0 356.26,363.0 356.16,362.0 356.06,361.0 355.96,360.0 355.85,359.0 355.74,358.0 355.63,357.0 355.52,356.0 355.40,355.0 355.29,354.0 355.17,353.0 355.05,352.0 354.93,351.0 354.81,350.0 354.69,349.0 354.57,348.0 354.45,347.0 354.33,346.0 354.21,345.0 354.08,344.0 353.96,343.0 353.84,342.0 353.72,341.0 353.59,340.0 353.47,339.0 353.35,338.0 353.23,337.0 353.12,336.0 353.00,335.0 352.88,334.0 352.77,333.0 352.66,332.0 352.55,331.0 352.44,330.0 352.34,329.0 352.24,328.0 352.14,327.0 352.04,326.0 351.94,325.0 351.85,324.0 351.76,323.0 351.68,322.0 351.59,321.0 351.51,320.0 351.44,319.0 351.36,318.0 351.30,317.0 351.23,316.0 351.17,315.0 351.11,314.0 351.05,313.0 351.00,312.0 350.95,311.0 350.90,310.0 350.86,309.0 350.82,308.0 350.79,307.0 350.76,306.0 350.73,305.0 350.70,304.0 350.68,303.0 350.66,302.0 350.64,301.0 350.63,300.0 350.62,299.0 350.61,298.0 350.60,297.0 350.59,296.0 350.59,295.0 350.59,294.0 350.59,293.0 350.59,292.0 350.60,291.0 350.60,290.0 350.61,289.0 350.62,288.0 350.62,287.0 350.63,286.0 350.64,285.0 350.65,284.0 350.66,283.0 350.68,282.0 350.69,281.0 350.70,280.0 350.71,279.0 350.72,278.0 350.73,277.0 350.74,276.0 350.75,275.0 350.76,274.0 350.77,273.0 350.78,272.0 350.78,271.0 350.79,270.0 350.80,269.0 350.80,268.0 350.81,267.0 350.81,266.0 350.82,265.0 350.82,264.0 350.82,263.0 350.82,262.0 350.82,261.0 350.82,260.0 350.82,259.0 350.82,258.0 350.82,257.0 350.82,256.0 350.82,255.0 350.82,254.0 350.81,253.0 350.81,252.0 350.81,251.0 350.81,250.0 350.81,249.0 350.81,248.0 350.81,247.0 350.81,246.0 350.81,245.0 350.81,244.0 350.81,243.0 350.81,242.0 350.82,241.0 350.82,240.0 350.83,239.0 350.83,238.0 350.84,237.0 350.85,236.0 350.86,235.0 350.86,234.0 350.88,233.0 350.89,232.0 350.90,231.0 350.91,230.0 350.93,229.0 350.94,228.0 350.96,227.0 350.97,226.0 350.99,225.0 351.01,224.0 351.03,223.0 351.05,222.0 351.07,221.0 351.09,220.0 351.11,219.0 351.13,218.0 351.15,217.0 351.17,216.0 351.20,215.0 351.22,214.0 351.24,213.0 351.27,212.0 351.29,211.0 351.32,210.0 351.34,209.0 351.37,208.0 351.39,207.0 351.42,206.0 351.45,205.0 351.47,204.0 351.50,203.0 351.53,202.0 351.56,201.0 351.60,200.0 351.63,199.0 351.67,198.0 351.70,197.0 351.74,196.0 351.78,195.0 351.82,194.0 351.87,193.0 351.92,192.0 351.97,191.0 352.02,190.0 352.07,189.0 352.13,188.0 352.19,187.0 352.26,186.0 352.32,185.0 352.40,184.0 352.47,183.0 352.55,182.0 352.63,181.0 352.71,180.0 352.80,179.0 352.90,178.0 352.99,177.0 353.09,176.0 353.19,175.0 353.30,174.0 353.41,173.0 353.52,172.0 353.63,171.0 353.75,170.0 353.87,169.0 353.99,168.0 354.12,167.0 354.24,166.0 354.37,165.0 354.50,164.0 354.63,163.0 354.76,162.0 354.89,161.0 355.02,160.0 355.15,159.0 355.28,158.0 355.41,157.0 355.54,156.0 355.67,155.0 355.80,154.0 355.93,153.0 356.05,152.0 356.17,151.0 356.29,150.0 356.41,149.0 356.53,148.0 356.64,147.0 356.75,146.0 356.85,145.0 356.96,144.0 357.06,143.0 357.15,142.0 357.25,141.0 357.34,140.0 357.43,139.0 357.51,138.0 357.59,137.0 357.66,136.0 357.74,135.0 357.81,134.0 357.87,133.0 357.94,132.0 358.00,131.0 358.05,130.0 358.11,129.0 358.16,128.0 358.21,127.0 358.25,126.0 358.29,125.0 358.33,124.0 358.37,123.0 358.40,122.0 358.43,121.0 358.46,120.0 358.49,119.0 358.52,118.0 358.54,117.0 358.56,116.0 358.59,115.0 358.60,114.0 358.62,113.0 358.64,112.0 358.65,111.0 358.67,110.0 358.68,109.0 358.69,108.0 358.70,107.0 358.71,106.0 358.72,105.0 358.73,104.0 358.73,103.0 358.74,102.0 358.75,101.0 358.80,100.0ZM350.82 259H366.78"/>
<path class="v" stroke="#00B0F6" stroke-width="1.45" d="M389 82.6V93.6M389 410.6V427.6"/>
<path class="v" stroke="#00B0F6" stroke-width="1.45" d="M389.00,93.6 389.05,94.6 389.06,95.6 389.07,96.6 389.07,97.6 389.08,98.6 389.09,99.6 389.10,100.6 389.11,101.6 389.12,102.6 389.14,103.6 389.15,104.6 389.17,105.6 389.18,106.6 389.20,107.6 389.22,108.6 389.24,109.6 389.26,110.6 389.29,111.6 389.31,112.6 389.34,113.6 389.37,114.6 389.41,115.6 389.44,116.6 389.48,117.6 389.52,118.6 389.56,119.6 389.61,120.6 389.66,121.6 389.71,122.6 389.77,123.6 389.82,124.6 389.89,125.6 389.95,126.6 390.02,127.6 390.09,128.6 390.17,129.6 390.24,130.6 390.33,131.6 390.41,132.6 390.50,133.6 390.59,134.6 390.69,135.6 390.79,136.6 390.89,137.6 391.00,138.6 391.11,139.6 391.22,140.6 391.33,141.6 391.45,142.6 391.57,143.6 391.69,144.6 391.82,145.6 391.95,146.6 392.07,147.6 392.20,148.6 392.34,149.6 392.47,150.6 392.60,151.6 392.74,152.6 392.87,153.6 393.01,154.6 393.14,155.6 393.27,156.6 393.41,157.6 393.54,158.6 393.67,159.6 393.80,160.6 393.92,161.6 394.05,162.6 394.17,163.6 394.29,164.6 394.40,165.6 394.52,166.6 394.63,167.6 394.73,168.6 394.84,169.6 394.94,170.6 395.03,171.6 395.12,172.6 395.21,173.6 395.30,174.6 395.38,175.6 395.45,176.6 395.52,177.6 395.59,178.6 395.66,179.6 395.72,180.6 395.77,181.6 395.83,182.6 395.88,183.6 395.92,184.6 395.97,185.6 396.01,186.6 396.05,187.6 396.08,188.6 396.12,189.6 396.15,190.6 396.17,191.6 396.20,192.6 396.23,193.6 396.25,194.6 396.27,195.6 396.29,196.6 396.31,197.6 396.33,198.6 396.35,199.6 396.37,200.6 396.38,201.6 396.40,202.6 396.42,203.6 396.43,204.6 396.45,205.6 396.47,206.6 396.48,207.6 396.50,208.6 396.51,209.6 396.53,210.6 396.54,211.6 396.56,212.6 396.58,213.6 396.59,214.6 396.61,215.6 396.62,216.6 396.64,217.6 396.65,218.6 396.67,219.6 396.68,220.6 396.70,221.6 396.71,222.6 396.72,223.6 396.74,224.6 396.75,225.6 396.76,226.6 396.77,227.6 396.78,228.6 396.79,229.6 396.80,230.6 396.81,231.6 396.81,232.6 396.82,233.6 396.83,234.6 396.83,235.6 396.84,236.6 396.84,237.6 396.84,238.6 396.85,239.6 396.85,240.6 396.85,241.6 396.85,242.6 396.86,243.6 396.86,244.6 396.86,245.6 396.86,246.6 396.86,247.6 396.86,248.6 396.87,249.6 396.87,250.6 396.87,251.6 396.87,252.6 396.88,253.6 396.88,254.6 396.89,255.6 396.89,256.6 396.90,257.6 396.91,258.6 396.92,259.6 396.93,260.6 396.94,261.6 396.95,262.6 396.97,263.6 396.98,264.6 397.00,265.6 397.01,266.6 397.03,267.6 397.05,268.6 397.07,269.6 397.09,270.6 397.11,271.6 397.13,272.6 397.16,273.6 397.18,274.6 397.20,275.6 397.23,276.6 397.25,277.6 397.27,278.6 397.30,279.6 397.32,280.6 397.34,281.6 397.36,282.6 397.38,283.6 397.40,284.6 397.42,285.6 397.44,286.6 397.45,287.6 397.46,288.6 397.47,289.6 397.48,290.6 397.49,291.6 397.49,292.6 397.49,293.6 397.48,294.6 397.48,295.6 397.47,296.6 397.45,297.6 397.43,298.6 397.41,299.6 397.39,300.6 397.35,301.6 397.32,302.6 397.28,303.6 397.24,304.6 397.19,305.6 397.14,306.6 397.08,307.6 397.02,308.6 396.95,309.6 396.88,310.6 396.81,311.6 396.73,312.6 396.64,313.6 396.55,314.6 396.46,315.6 396.36,316.6 396.26,317.6 396.16,318.6 396.05,319.6 395.94,320.6 395.82,321.6 395.70,322.6 395.58,323.6 395.46,324.6 395.33,325.6 395.20,326.6 395.07,327.6 394.94,328.6 394.80,329.6 394.66,330.6 394.53,331.6 394.39,332.6 394.25,333.6 394.11,334.6 393.97,335.6 393.82,336.6 393.68,337.6 393.54,338.6 393.40,339.6 393.26,340.6 393.12,341.6 392.99,342.6 392.85,343.6 392.71,344.6 392.58,345.6 392.45,346.6 392.32,347.6 392.19,348.6 392.07,349.6 391.94,350.6 391.82,351.6 391.71,352.6 391.59,353.6 391.48,354.6 391.37,355.6 391.26,356.6 391.16,357.6 391.06,358.6 390.96,359.6 390.86,360.6 390.77,361.6 390.68,362.6 390.60,363.6 390.51,364.6 390.43,365.6 390.36,366.6 390.28,367.6 390.21,368.6 390.14,369.6 390.08,370.6 390.02,371.6 389.96,372.6 389.90,373.6 389.85,374.6 389.79,375.6 389.74,376.6 389.70,377.6 389.65,378.6 389.61,379.6 389.57,380.6 389.53,381.6 389.50,382.6 389.46,383.6 389.43,384.6 389.40,385.6 389.37,386.6 389.35,387.6 389.32,388.6 389.30,389.6 389.28,390.6 389.26,391.6 389.24,392.6 389.22,393.6 389.20,394.6 389.19,395.6 389.17,396.6 389.16,397.6 389.14,398.6 389.13,399.6 389.12,400.6 389.11,401.6 389.10,402.6 389.09,403.6 389.09,404.6 389.08,405.6 389.07,406.6 389.07,407.6 389.06,408.6 389.05,409.6 389.00,410.6 389.00,410.6 388.95,409.6 388.94,408.6 388.93,407.6 388.93,406.6 388.92,405.6 388.91,404.6 388.91,403.6 388.90,402.6 388.89,401.6 388.88,400.6 388.87,399.6 388.86,398.6 388.84,397.6 388.83,396.6 388.81,395.6 388.80,394.6 388.78,393.6 388.76,392.6 388.74,391.6 388.72,390.6 388.70,389.6 388.68,388.6 388.65,387.6 388.63,386.6 388.60,385.6 388.57,384.6 388.54,383.6 388.50,382.6 388.47,381.6 388.43,380.6 388.39,379.6 388.35,378.6 388.30,377.6 388.26,376.6 388.21,375.6 388.15,374.6 388.10,373.6 388.04,372.6 387.98,371.6 387.92,370.6 387.86,369.6 387.79,368.6 387.72,367.6 387.64,366.6 387.57,365.6 387.49,364.6 387.40,363.6 387.32,362.6 387.23,361.6 387.14,360.6 387.04,359.6 386.94,358.6 386.84,357.6 386.74,356.6 386.63,355.6 386.52,354.6 386.41,353.6 386.29,352.6 386.18,351.6 386.06,350.6 385.93,349.6 385.81,348.6 385.68,347.6 385.55,346.6 385.42,345.6 385.29,344.6 385.15,343.6 385.01,342.6 384.88,341.6 384.74,340.6 384.60,339.6 384.46,338.6 384.32,337.6 384.18,336.6 384.03,335.6 383.89,334.6 383.75,333.6 383.61,332.6 383.47,331.6 383.34,330.6 383.20,329.6 383.06,328.6 382.93,327.6 382.80,326.6 382.67,325.6 382.54,324.6 382.42,323.6 382.30,322.6 382.18,321.6 382.06,320.6 381.95,319.6 381.84,318.6 381.74,317.6 381.64,316.6 381.54,315.6 381.45,314.6 381.36,313.6 381.27,312.6 381.19,311.6 381.12,310.6 381.05,309.6 380.98,308.6 380.92,307.6 380.86,306.6 380.81,305.6 380.76,304.6 380.72,303.6 380.68,302.6 380.65,301.6 380.61,300.6 380.59,299.6 380.57,298.6 380.55,297.6 380.53,296.6 380.52,295.6 380.52,294.6 380.51,293.6 380.51,292.6 380.51,291.6 380.52,290.6 380.53,289.6 380.54,288.6 380.55,287.6 380.56,286.6 380.58,285.6 380.60,284.6 380.62,283.6 380.64,282.6 380.66,281.6 380.68,280.6 380.70,279.6 380.73,278.6 380.75,277.6 380.77,276.6 380.80,275.6 380.82,274.6 380.84,273.6 380.87,272.6 380.89,271.6 380.91,270.6 380.93,269.6 380.95,268.6 380.97,267.6 380.99,266.6 381.00,265.6 381.02,264.6 381.03,263.6 381.05,262.6 381.06,261.6 381.07,260.6 381.08,259.6 381.09,258.6 381.10,257.6 381.11,256.6 381.11,255.6 381.12,254.6 381.12,253.6 381.13,252.6 381.13,251.6 381.13,250.6 381.13,249.6 381.14,248.6 381.14,247.6 381.14,246.6 381.14,245.6 381.14,244.6 381.14,243.6 381.15,242.6 381.15,241.6 381.15,240.6 381.15,239.6 381.16,238.6 381.16,237.6 381.16,236.6 381.17,235.6 381.17,234.6 381.18,233.6 381.19,232.6 381.19,231.6 381.20,230.6 381.21,229.6 381.22,228.6 381.23,227.6 381.24,226.6 381.25,225.6 381.26,224.6 381.28,223.6 381.29,222.6 381.30,221.6 381.32,220.6 381.33,219.6 381.35,218.6 381.36,217.6 381.38,216.6 381.39,215.6 381.41,214.6 381.42,213.6 381.44,212.6 381.46,211.6 381.47,210.6 381.49,209.6 381.50,208.6 381.52,207.6 381.53,206.6 381.55,205.6 381.57,204.6 381.58,203.6 381.60,202.6 381.62,201.6 381.63,200.6 381.65,199.6 381.67,198.6 381.69,197.6 381.71,196.6 381.73,195.6 381.75,194.6 381.77,193.6 381.80,192.6 381.83,191.6 381.85,190.6 381.88,189.6 381.92,188.6 381.95,187.6 381.99,186.6 382.03,185.6 382.08,184.6 382.12,183.6 382.17,182.6 382.23,181.6 382.28,180.6 382.34,179.6 382.41,178.6 382.48,177.6 382.55,176.6 382.62,175.6 382.70,174.6 382.79,173.6 382.88,172.6 382.97,171.6 383.06,170.6 383.16,169.6 383.27,168.6 383.37,167.6 383.48,166.6 383.60,165.6 383.71,164.6 383.83,163.6 383.95,162.6 384.08,161.6 384.20,160.6 384.33,159.6 384.46,158.6 384.59,157.6 384.73,156.6 384.86,155.6 384.99,154.6 385.13,153.6 385.26,152.6 385.40,151.6 385.53,150.6 385.66,149.6 385.80,148.6 385.93,147.6 386.05,146.6 386.18,145.6 386.31,144.6 386.43,143.6 386.55,142.6 386.67,141.6 386.78,140.6 386.89,139.6 387.00,138.6 387.11,137.6 387.21,136.6 387.31,135.6 387.41,134.6 387.50,133.6 387.59,132.6 387.67,131.6 387.76,130.6 387.83,129.6 387.91,128.6 387.98,127.6 388.05,126.6 388.11,125.6 388.18,124.6 388.23,123.6 388.29,122.6 388.34,121.6 388.39,120.6 388.44,119.6 388.48,118.6 388.52,117.6 388.56,116.6 388.59,115.6 388.63,114.6 388.66,113.6 388.69,112.6 388.71,111.6 388.74,110.6 388.76,109.6 388.78,108.6 388.80,107.6 388.82,106.6 388.83,105.6 388.85,104.6 388.86,103.6 388.88,102.6 388.89,101.6 388.90,100.6 388.91,99.6 388.92,98.6 388.93,97.6 388.93,96.6 388.94,95.6 388.95,94.6 389.00,93.6ZM381.13 252.6H396.87"/>
<path class="v" stroke="#E76BF3" stroke-width="1.45" d="M419.2 74.4V82.4M419.2 417.4V427"/>
<path class="v" stroke="#E76BF3" stroke-width="1.45" d="M419.20,82.4 419.25,83.4 419.26,84.4 419.26,85.4 419.27,86.4 419.28,87.4 419.29,88.4 419.29,89.4 419.30,90.4 419.31,91.4 419.33,92.4 419.34,93.4 419.35,94.4 419.37,95.4 419.38,96.4 419.40,97.4 419.42,98.4 419.44,99.4 419.46,100.4 419.48,101.4 419.50,102.4 419.53,103.4 419.56,104.4 419.59,105.4 419.62,106.4 419.65,107.4 419.69,108.4 419.73,109.4 419.77,110.4 419.81,111.4 419.86,112.4 419.91,113.4 419.96,114.4 420.01,115.4 420.07,116.4 420.13,117.4 420.19,118.4 420.26,119.4 420.32,120.4 420.40,121.4 420.47,122.4 420.55,123.4 420.63,124.4 420.71,125.4 420.80,126.4 420.89,127.4 420.98,128.4 421.07,129.4 421.17,130.4 421.27,131.4 421.37,132.4 421.48,133.4 421.58,134.4 421.69,135.4 421.80,136.4 421.91,137.4 422.03,138.4 422.14,139.4 422.26,140.4 422.38,141.4 422.50,142.4 422.62,143.4 422.74,144.4 422.86,145.4 422.98,146.4 423.10,147.4 423.22,148.4 423.34,149.4 423.45,150.4 423.57,151.4 423.69,152.4 423.80,153.4 423.91,154.4 424.03,155.4 424.13,156.4 424.24,157.4 424.35,158.4 424.45,159.4 424.55,160.4 424.65,161.4 424.74,162.4 424.83,163.4 424.92,164.4 425.01,165.4 425.09,166.4 425.17,167.4 425.25,168.4 425.32,169.4 425.40,170.4 425.47,171.4 425.53,172.4 425.60,173.4 425.66,174.4 425.72,175.4 425.77,176.4 425.83,177.4 425.88,178.4 425.93,179.4 425.98,180.4 426.02,181.4 426.07,182.4 426.11,183.4 426.15,184.4 426.19,185.4 426.23,186.4 426.26,187.4 426.30,188.4 426.33,189.4 426.36,190.4 426.40,191.4 426.43,192.4 426.46,193.4 426.49,194.4 426.52,195.4 426.55,196.4 426.57,197.4 426.60,198.4 426.63,199.4 426.65,200.4 426.68,201.4 426.70,202.4 426.73,203.4 426.75,204.4 426.78,205.4 426.80,206.4 426.82,207.4 426.84,208.4 426.86,209.4 426.88,210.4 426.90,211.4 426.91,212.4 426.93,213.4 426.95,214.4 426.96,215.4 426.97,216.4 426.99,217.4 427.00,218.4 427.01,219.4 427.02,220.4 427.02,221.4 427.03,222.4 427.04,223.4 427.04,224.4 427.04,225.4 427.05,226.4 427.05,227.4 427.05,228.4 427.05,229.4 427.05,230.4 427.05,231.4 427.04,232.4 427.04,233.4 427.04,234.4 427.03,235.4 427.03,236.4 427.02,237.4 427.02,238.4 427.01,239.4 427.01,240.4 427.00,241.4 427.00,242.4 426.99,243.4 426.99,244.4 426.98,245.4 426.98,246.4 426.98,247.4 426.98,248.4 426.98,249.4 426.98,250.4 426.98,251.4 426.98,252.4 426.98,253.4 426.99,254.4 426.99,255.4 427.00,256.4 427.00,257.4 427.01,258.4 427.02,259.4 427.03,260.4 427.05,261.4 427.06,262.4 427.08,263.4 427.09,264.4 427.11,265.4 427.13,266.4 427.14,267.4 427.16,268.4 427.18,269.4 427.21,270.4 427.23,271.4 427.25,272.4 427.27,273.4 427.29,274.4 427.32,275.4 427.34,276.4 427.36,277.4 427.38,278.4 427.40,279.4 427.42,280.4 427.44,281.4 427.46,282.4 427.47,283.4 427.49,284.4 427.50,285.4 427.51,286.4 427.52,287.4 427.53,288.4 427.53,289.4 427.54,290.4 427.54,291.4 427.53,292.4 427.53,293.4 427.52,294.4 427.51,295.4 427.49,296.4 427.47,297.4 427.45,298.4 427.42,299.4 427.39,300.4 427.36,301.4 427.32,302.4 427.28,303.4 427.23,304.4 427.18,305.4 427.13,306.4 427.07,307.4 427.01,308.4 426.95,309.4 426.88,310.4 426.81,311.4 426.73,312.4 426.65,313.4 426.56,314.4 426.48,315.4 426.38,316.4 426.29,317.4 426.19,318.4 426.09,319.4 425.99,320.4 425.88,321.4 425.77,322.4 425.66,323.4 425.54,324.4 425.43,325.4 425.31,326.4 425.19,327.4 425.07,328.4 424.94,329.4 424.82,330.4 424.69,331.4 424.56,332.4 424.44,333.4 424.31,334.4 424.18,335.4 424.05,336.4 423.92,337.4 423.79,338.4 423.66,339.4 423.53,340.4 423.40,341.4 423.28,342.4 423.15,343.4 423.03,344.4 422.90,345.4 422.78,346.4 422.66,347.4 422.54,348.4 422.42,349.4 422.31,350.4 422.19,351.4 422.08,352.4 421.97,353.4 421.86,354.4 421.76,355.4 421.65,356.4 421.55,357.4 421.45,358.4 421.36,359.4 421.27,360.4 421.17,361.4 421.09,362.4 421.00,363.4 420.92,364.4 420.84,365.4 420.76,366.4 420.68,367.4 420.61,368.4 420.54,369.4 420.47,370.4 420.41,371.4 420.34,372.4 420.28,373.4 420.23,374.4 420.17,375.4 420.12,376.4 420.07,377.4 420.02,378.4 419.97,379.4 419.93,380.4 419.88,381.4 419.84,382.4 419.81,383.4 419.77,384.4 419.73,385.4 419.70,386.4 419.67,387.4 419.64,388.4 419.61,389.4 419.58,390.4 419.56,391.4 419.54,392.4 419.51,393.4 419.49,394.4 419.47,395.4 419.45,396.4 419.43,397.4 419.42,398.4 419.40,399.4 419.39,400.4 419.37,401.4 419.36,402.4 419.35,403.4 419.34,404.4 419.33,405.4 419.32,406.4 419.31,407.4 419.30,408.4 419.29,409.4 419.29,410.4 419.28,411.4 419.27,412.4 419.27,413.4 419.26,414.4 419.26,415.4 419.25,416.4 419.20,417.4 419.20,417.4 419.15,416.4 419.14,415.4 419.14,414.4 419.13,413.4 419.13,412.4 419.12,411.4 419.11,410.4 419.11,409.4 419.10,408.4 419.09,407.4 419.08,406.4 419.07,405.4 419.06,404.4 419.05,403.4 419.04,402.4 419.03,401.4 419.01,400.4 419.00,399.4 418.98,398.4 418.97,397.4 418.95,396.4 418.93,395.4 418.91,394.4 418.89,393.4 418.86,392.4 418.84,391.4 418.82,390.4 418.79,389.4 418.76,388.4 418.73,387.4 418.70,386.4 418.67,385.4 418.63,384.4 418.59,383.4 418.56,382.4 418.52,381.4 418.47,380.4 418.43,379.4 418.38,378.4 418.33,377.4 418.28,376.4 418.23,375.4 418.17,374.4 418.12,373.4 418.06,372.4 417.99,371.4 417.93,370.4 417.86,369.4 417.79,368.4 417.72,367.4 417.64,366.4 417.56,365.4 417.48,364.4 417.40,363.4 417.31,362.4 417.23,361.4 417.13,360.4 417.04,359.4 416.95,358.4 416.85,357.4 416.75,356.4 416.64,355.4 416.54,354.4 416.43,353.4 416.32,352.4 416.21,351.4 416.09,350.4 415.98,349.4 415.86,348.4 415.74,347.4 415.62,346.4 415.50,345.4 415.37,344.4 415.25,343.4 415.12,342.4 415.00,341.4 414.87,340.4 414.74,339.4 414.61,338.4 414.48,337.4 414.35,336.4 414.22,335.4 414.09,334.4 413.96,333.4 413.84,332.4 413.71,331.4 413.58,330.4 413.46,329.4 413.33,328.4 413.21,327.4 413.09,326.4 412.97,325.4 412.86,324.4 412.74,323.4 412.63,322.4 412.52,321.4 412.41,320.4 412.31,319.4 412.21,318.4 412.11,317.4 412.02,316.4 411.92,315.4 411.84,314.4 411.75,313.4 411.67,312.4 411.59,311.4 411.52,310.4 411.45,309.4 411.39,308.4 411.33,307.4 411.27,306.4 411.22,305.4 411.17,304.4 411.12,303.4 411.08,302.4 411.04,301.4 411.01,300.4 410.98,299.4 410.95,298.4 410.93,297.4 410.91,296.4 410.89,295.4 410.88,294.4 410.87,293.4 410.87,292.4 410.86,291.4 410.86,290.4 410.87,289.4 410.87,288.4 410.88,287.4 410.89,286.4 410.90,285.4 410.91,284.4 410.93,283.4 410.94,282.4 410.96,281.4 410.98,280.4 411.00,279.4 411.02,278.4 411.04,277.4 411.06,276.4 411.08,275.4 411.11,274.4 411.13,273.4 411.15,272.4 411.17,271.4 411.19,270.4 411.22,269.4 411.24,268.4 411.26,267.4 411.27,266.4 411.29,265.4 411.31,264.4 411.32,263.4 411.34,262.4 411.35,261.4 411.37,260.4 411.38,259.4 411.39,258.4 411.40,257.4 411.40,256.4 411.41,255.4 411.41,254.4 411.42,253.4 411.42,252.4 411.42,251.4 411.42,250.4 411.42,249.4 411.42,248.4 411.42,247.4 411.42,246.4 411.42,245.4 411.41,244.4 411.41,243.4 411.40,242.4 411.40,241.4 411.39,240.4 411.39,239.4 411.38,238.4 411.38,237.4 411.37,236.4 411.37,235.4 411.36,234.4 411.36,233.4 411.36,232.4 411.35,231.4 411.35,230.4 411.35,229.4 411.35,228.4 411.35,227.4 411.35,226.4 411.36,225.4 411.36,224.4 411.36,223.4 411.37,222.4 411.38,221.4 411.38,220.4 411.39,219.4 411.40,218.4 411.41,217.4 411.43,216.4 411.44,215.4 411.45,214.4 411.47,213.4 411.49,212.4 411.50,211.4 411.52,210.4 411.54,209.4 411.56,208.4 411.58,207.4 411.60,206.4 411.62,205.4 411.65,204.4 411.67,203.4 411.70,202.4 411.72,201.4 411.75,200.4 411.77,199.4 411.80,198.4 411.83,197.4 411.85,196.4 411.88,195.4 411.91,194.4 411.94,193.4 411.97,192.4 412.00,191.4 412.04,190.4 412.07,189.4 412.10,188.4 412.14,187.4 412.17,186.4 412.21,185.4 412.25,184.4 412.29,183.4 412.33,182.4 412.38,181.4 412.42,180.4 412.47,179.4 412.52,178.4 412.57,177.4 412.63,176.4 412.68,175.4 412.74,174.4 412.80,173.4 412.87,172.4 412.93,171.4 413.00,170.4 413.08,169.4 413.15,168.4 413.23,167.4 413.31,166.4 413.39,165.4 413.48,164.4 413.57,163.4 413.66,162.4 413.75,161.4 413.85,160.4 413.95,159.4 414.05,158.4 414.16,157.4 414.27,156.4 414.37,155.4 414.49,154.4 414.60,153.4 414.71,152.4 414.83,151.4 414.95,150.4 415.06,149.4 415.18,148.4 415.30,147.4 415.42,146.4 415.54,145.4 415.66,144.4 415.78,143.4 415.90,142.4 416.02,141.4 416.14,140.4 416.26,139.4 416.37,138.4 416.49,137.4 416.60,136.4 416.71,135.4 416.82,134.4 416.92,133.4 417.03,132.4 417.13,131.4 417.23,130.4 417.33,129.4 417.42,128.4 417.51,127.4 417.60,126.4 417.69,125.4 417.77,124.4 417.85,123.4 417.93,122.4 418.00,121.4 418.08,120.4 418.14,119.4 418.21,118.4 418.27,117.4 418.33,116.4 418.39,115.4 418.44,114.4 418.49,113.4 418.54,112.4 418.59,111.4 418.63,110.4 418.67,109.4 418.71,108.4 418.75,107.4 418.78,106.4 418.81,105.4 418.84,104.4 418.87,103.4 418.90,102.4 418.92,101.4 418.94,100.4 418.96,99.4 418.98,98.4 419.00,97.4 419.02,96.4 419.03,95.4 419.05,94.4 419.06,93.4 419.07,92.4 419.09,91.4 419.10,90.4 419.11,89.4 419.11,88.4 419.12,87.4 419.13,86.4 419.14,85.4 419.14,84.4 419.15,83.4 419.20,82.4ZM411.42 248H426.98"/>
<path class="v" stroke="#F8766D" stroke-width="1.3" d="M520.6 74.4V81.4M520.6 402.4V407.6"/>
<path class="v" stroke="#F8766D" stroke-width="1.3" d="M520.60,81.4 520.65,82.4 520.66,83.4 520.66,84.4 520.67,85.4 520.68,86.4 520.68,87.4 520.69,88.4 520.70,89.4 520.71,90.4 520.73,91.4 520.74,92.4 520.76,93.4 520.77,94.4 520.79,95.4 520.81,96.4 520.83,97.4 520.86,98.4 520.89,99.4 520.92,100.4 520.95,101.4 520.99,102.4 521.03,103.4 521.07,104.4 521.12,105.4 521.17,106.4 521.23,107.4 521.29,108.4 521.35,109.4 521.43,110.4 521.50,111.4 521.58,112.4 521.67,113.4 521.76,114.4 521.86,115.4 521.96,116.4 522.07,117.4 522.18,118.4 522.30,119.4 522.42,120.4 522.55,121.4 522.68,122.4 522.82,123.4 522.96,124.4 523.10,125.4 523.24,126.4 523.39,127.4 523.54,128.4 523.69,129.4 523.84,130.4 523.99,131.4 524.14,132.4 524.29,133.4 524.44,134.4 524.60,135.4 524.75,136.4 524.90,137.4 525.05,138.4 525.19,139.4 525.34,140.4 525.49,141.4 525.64,142.4 525.79,143.4 525.94,144.4 526.09,145.4 526.24,146.4 526.40,147.4 526.55,148.4 526.71,149.4 526.87,150.4 527.04,151.4 527.20,152.4 527.38,153.4 527.55,154.4 527.73,155.4 527.91,156.4 528.10,157.4 528.29,158.4 528.49,159.4 528.69,160.4 528.89,161.4 529.09,162.4 529.30,163.4 529.51,164.4 529.72,165.4 529.93,166.4 530.14,167.4 530.36,168.4 530.57,169.4 530.78,170.4 530.99,171.4 531.20,172.4 531.40,173.4 531.60,174.4 531.80,175.4 531.99,176.4 532.17,177.4 532.35,178.4 532.53,179.4 532.69,180.4 532.85,181.4 533.01,182.4 533.15,183.4 533.28,184.4 533.41,185.4 533.53,186.4 533.63,187.4 533.73,188.4 533.82,189.4 533.89,190.4 533.96,191.4 534.02,192.4 534.06,193.4 534.09,194.4 534.12,195.4 534.13,196.4 534.13,197.4 534.12,198.4 534.10,199.4 534.07,200.4 534.03,201.4 533.99,202.4 533.93,203.4 533.86,204.4 533.78,205.4 533.69,206.4 533.60,207.4 533.50,208.4 533.39,209.4 533.27,210.4 533.15,211.4 533.02,212.4 532.89,213.4 532.75,214.4 532.60,215.4 532.46,216.4 532.31,217.4 532.15,218.4 532.00,219.4 531.85,220.4 531.69,221.4 531.53,222.4 531.38,223.4 531.22,224.4 531.07,225.4 530.92,226.4 530.78,227.4 530.63,228.4 530.50,229.4 530.36,230.4 530.23,231.4 530.11,232.4 530.00,233.4 529.89,234.4 529.78,235.4 529.69,236.4 529.60,237.4 529.53,238.4 529.46,239.4 529.40,240.4 529.34,241.4 529.30,242.4 529.27,243.4 529.25,244.4 529.23,245.4 529.23,246.4 529.24,247.4 529.25,248.4 529.28,249.4 529.31,250.4 529.35,251.4 529.41,252.4 529.47,253.4 529.54,254.4 529.62,255.4 529.71,256.4 529.80,257.4 529.90,258.4 530.01,259.4 530.12,260.4 530.24,261.4 530.37,262.4 530.50,263.4 530.63,264.4 530.77,265.4 530.90,266.4 531.05,267.4 531.19,268.4 531.33,269.4 531.48,270.4 531.62,271.4 531.77,272.4 531.91,273.4 532.05,274.4 532.19,275.4 532.33,276.4 532.46,277.4 532.59,278.4 532.71,279.4 532.83,280.4 532.94,281.4 533.05,282.4 533.15,283.4 533.25,284.4 533.34,285.4 533.42,286.4 533.50,287.4 533.57,288.4 533.63,289.4 533.68,290.4 533.73,291.4 533.77,292.4 533.80,293.4 533.83,294.4 533.84,295.4 533.86,296.4 533.86,297.4 533.86,298.4 533.85,299.4 533.83,300.4 533.81,301.4 533.78,302.4 533.75,303.4 533.71,304.4 533.66,305.4 533.61,306.4 533.55,307.4 533.49,308.4 533.42,309.4 533.35,310.4 533.27,311.4 533.18,312.4 533.10,313.4 533.00,314.4 532.90,315.4 532.80,316.4 532.69,317.4 532.57,318.4 532.45,319.4 532.33,320.4 532.20,321.4 532.06,322.4 531.91,323.4 531.76,324.4 531.61,325.4 531.44,326.4 531.28,327.4 531.10,328.4 530.92,329.4 530.73,330.4 530.54,331.4 530.34,332.4 530.13,333.4 529.92,334.4 529.70,335.4 529.48,336.4 529.25,337.4 529.02,338.4 528.78,339.4 528.54,340.4 528.29,341.4 528.05,342.4 527.80,343.4 527.55,344.4 527.29,345.4 527.04,346.4 526.79,347.4 526.54,348.4 526.29,349.4 526.04,350.4 525.79,351.4 525.55,352.4 525.31,353.4 525.07,354.4 524.84,355.4 524.61,356.4 524.39,357.4 524.18,358.4 523.97,359.4 523.76,360.4 523.57,361.4 523.38,362.4 523.20,363.4 523.03,364.4 522.86,365.4 522.70,366.4 522.55,367.4 522.41,368.4 522.27,369.4 522.14,370.4 522.02,371.4 521.91,372.4 521.80,373.4 521.70,374.4 521.60,375.4 521.52,376.4 521.44,377.4 521.36,378.4 521.29,379.4 521.23,380.4 521.17,381.4 521.11,382.4 521.06,383.4 521.02,384.4 520.97,385.4 520.94,386.4 520.90,387.4 520.87,388.4 520.84,389.4 520.81,390.4 520.79,391.4 520.77,392.4 520.75,393.4 520.73,394.4 520.72,395.4 520.70,396.4 520.69,397.4 520.68,398.4 520.67,399.4 520.66,400.4 520.66,401.4 520.60,402.4 520.60,402.4 520.54,401.4 520.54,400.4 520.53,399.4 520.52,398.4 520.51,397.4 520.50,396.4 520.48,395.4 520.47,394.4 520.45,393.4 520.43,392.4 520.41,391.4 520.39,390.4 520.36,389.4 520.33,388.4 520.30,387.4 520.26,386.4 520.23,385.4 520.18,384.4 520.14,383.4 520.09,382.4 520.03,381.4 519.97,380.4 519.91,379.4 519.84,378.4 519.76,377.4 519.68,376.4 519.60,375.4 519.50,374.4 519.40,373.4 519.29,372.4 519.18,371.4 519.06,370.4 518.93,369.4 518.79,368.4 518.65,367.4 518.50,366.4 518.34,365.4 518.17,364.4 518.00,363.4 517.82,362.4 517.63,361.4 517.44,360.4 517.23,359.4 517.02,358.4 516.81,357.4 516.59,356.4 516.36,355.4 516.13,354.4 515.89,353.4 515.65,352.4 515.41,351.4 515.16,350.4 514.91,349.4 514.66,348.4 514.41,347.4 514.16,346.4 513.91,345.4 513.65,344.4 513.40,343.4 513.15,342.4 512.91,341.4 512.66,340.4 512.42,339.4 512.18,338.4 511.95,337.4 511.72,336.4 511.50,335.4 511.28,334.4 511.07,333.4 510.86,332.4 510.66,331.4 510.47,330.4 510.28,329.4 510.10,328.4 509.92,327.4 509.76,326.4 509.59,325.4 509.44,324.4 509.29,323.4 509.14,322.4 509.00,321.4 508.87,320.4 508.75,319.4 508.63,318.4 508.51,317.4 508.40,316.4 508.30,315.4 508.20,314.4 508.10,313.4 508.02,312.4 507.93,311.4 507.85,310.4 507.78,309.4 507.71,308.4 507.65,307.4 507.59,306.4 507.54,305.4 507.49,304.4 507.45,303.4 507.42,302.4 507.39,301.4 507.37,300.4 507.35,299.4 507.34,298.4 507.34,297.4 507.34,296.4 507.36,295.4 507.37,294.4 507.40,293.4 507.43,292.4 507.47,291.4 507.52,290.4 507.57,289.4 507.63,288.4 507.70,287.4 507.78,286.4 507.86,285.4 507.95,284.4 508.05,283.4 508.15,282.4 508.26,281.4 508.37,280.4 508.49,279.4 508.61,278.4 508.74,277.4 508.87,276.4 509.01,275.4 509.15,274.4 509.29,273.4 509.43,272.4 509.58,271.4 509.72,270.4 509.87,269.4 510.01,268.4 510.15,267.4 510.30,266.4 510.43,265.4 510.57,264.4 510.70,263.4 510.83,262.4 510.96,261.4 511.08,260.4 511.19,259.4 511.30,258.4 511.40,257.4 511.49,256.4 511.58,255.4 511.66,254.4 511.73,253.4 511.79,252.4 511.85,251.4 511.89,250.4 511.92,249.4 511.95,248.4 511.96,247.4 511.97,246.4 511.97,245.4 511.95,244.4 511.93,243.4 511.90,242.4 511.86,241.4 511.80,240.4 511.74,239.4 511.67,238.4 511.60,237.4 511.51,236.4 511.42,235.4 511.31,234.4 511.20,233.4 511.09,232.4 510.97,231.4 510.84,230.4 510.70,229.4 510.57,228.4 510.42,227.4 510.28,226.4 510.13,225.4 509.98,224.4 509.82,223.4 509.67,222.4 509.51,221.4 509.35,220.4 509.20,219.4 509.05,218.4 508.89,217.4 508.74,216.4 508.60,215.4 508.45,214.4 508.31,213.4 508.18,212.4 508.05,211.4 507.93,210.4 507.81,209.4 507.70,208.4 507.60,207.4 507.51,206.4 507.42,205.4 507.34,204.4 507.27,203.4 507.21,202.4 507.17,201.4 507.13,200.4 507.10,199.4 507.08,198.4 507.07,197.4 507.07,196.4 507.08,195.4 507.11,194.4 507.14,193.4 507.18,192.4 507.24,191.4 507.31,190.4 507.38,189.4 507.47,188.4 507.57,187.4 507.67,186.4 507.79,185.4 507.92,184.4 508.05,183.4 508.19,182.4 508.35,181.4 508.51,180.4 508.67,179.4 508.85,178.4 509.03,177.4 509.21,176.4 509.40,175.4 509.60,174.4 509.80,173.4 510.00,172.4 510.21,171.4 510.42,170.4 510.63,169.4 510.84,168.4 511.06,167.4 511.27,166.4 511.48,165.4 511.69,164.4 511.90,163.4 512.11,162.4 512.31,161.4 512.51,160.4 512.71,159.4 512.91,158.4 513.10,157.4 513.29,156.4 513.47,155.4 513.65,154.4 513.82,153.4 514.00,152.4 514.16,151.4 514.33,150.4 514.49,149.4 514.65,148.4 514.80,147.4 514.96,146.4 515.11,145.4 515.26,144.4 515.41,143.4 515.56,142.4 515.71,141.4 515.86,140.4 516.01,139.4 516.15,138.4 516.30,137.4 516.45,136.4 516.60,135.4 516.76,134.4 516.91,133.4 517.06,132.4 517.21,131.4 517.36,130.4 517.51,129.4 517.66,128.4 517.81,127.4 517.96,126.4 518.10,125.4 518.24,124.4 518.38,123.4 518.52,122.4 518.65,121.4 518.78,120.4 518.90,119.4 519.02,118.4 519.13,117.4 519.24,116.4 519.34,115.4 519.44,114.4 519.53,113.4 519.62,112.4 519.70,111.4 519.77,110.4 519.85,109.4 519.91,108.4 519.97,107.4 520.03,106.4 520.08,105.4 520.13,104.4 520.17,103.4 520.21,102.4 520.25,101.4 520.28,100.4 520.31,99.4 520.34,98.4 520.37,97.4 520.39,96.4 520.41,95.4 520.43,94.4 520.44,93.4 520.46,92.4 520.47,91.4 520.49,90.4 520.50,89.4 520.51,88.4 520.52,87.4 520.52,86.4 520.53,85.4 520.54,84.4 520.54,83.4 520.55,82.4 520.60,81.4ZM511.95 248.4H529.25"/>
<path class="v" stroke="#A3A500" stroke-width="1.45" d="M550.6 417.0V431.6"/>
<path class="v" stroke="#A3A500" stroke-width="1.45" d="M550.60,85.0 550.71,86.0 550.72,87.0 550.73,88.0 550.74,89.0 550.75,90.0 550.76,91.0 550.78,92.0 550.79,93.0 550.81,94.0 550.82,95.0 550.84,96.0 550.86,97.0 550.87,98.0 550.89,99.0 550.92,100.0 550.94,101.0 550.96,102.0 550.99,103.0 551.01,104.0 551.04,105.0 551.07,106.0 551.11,107.0 551.14,108.0 551.17,109.0 551.21,110.0 551.25,111.0 551.29,112.0 551.34,113.0 551.38,114.0 551.43,115.0 551.48,116.0 551.54,117.0 551.59,118.0 551.65,119.0 551.71,120.0 551.78,121.0 551.84,122.0 551.92,123.0 551.99,124.0 552.07,125.0 552.15,126.0 552.23,127.0 552.32,128.0 552.41,129.0 552.50,130.0 552.60,131.0 552.71,132.0 552.81,133.0 552.93,134.0 553.04,135.0 553.16,136.0 553.29,137.0 553.42,138.0 553.56,139.0 553.70,140.0 553.85,141.0 554.00,142.0 554.16,143.0 554.32,144.0 554.49,145.0 554.67,146.0 554.86,147.0 555.05,148.0 555.24,149.0 555.45,150.0 555.66,151.0 555.88,152.0 556.10,153.0 556.33,154.0 556.56,155.0 556.80,156.0 557.05,157.0 557.29,158.0 557.55,159.0 557.80,160.0 558.06,161.0 558.32,162.0 558.58,163.0 558.84,164.0 559.10,165.0 559.36,166.0 559.61,167.0 559.86,168.0 560.11,169.0 560.34,170.0 560.58,171.0 560.80,172.0 561.02,173.0 561.23,174.0 561.43,175.0 561.62,176.0 561.79,177.0 561.96,178.0 562.12,179.0 562.27,180.0 562.40,181.0 562.53,182.0 562.64,183.0 562.75,184.0 562.85,185.0 562.93,186.0 563.01,187.0 563.08,188.0 563.14,189.0 563.19,190.0 563.24,191.0 563.28,192.0 563.32,193.0 563.35,194.0 563.37,195.0 563.39,196.0 563.41,197.0 563.42,198.0 563.43,199.0 563.43,200.0 563.43,201.0 563.43,202.0 563.42,203.0 563.41,204.0 563.40,205.0 563.38,206.0 563.36,207.0 563.33,208.0 563.30,209.0 563.27,210.0 563.24,211.0 563.20,212.0 563.15,213.0 563.11,214.0 563.06,215.0 563.00,216.0 562.94,217.0 562.88,218.0 562.82,219.0 562.75,220.0 562.68,221.0 562.61,222.0 562.53,223.0 562.45,224.0 562.37,225.0 562.29,226.0 562.21,227.0 562.12,228.0 562.04,229.0 561.95,230.0 561.87,231.0 561.78,232.0 561.70,233.0 561.61,234.0 561.53,235.0 561.45,236.0 561.38,237.0 561.30,238.0 561.23,239.0 561.16,240.0 561.09,241.0 561.03,242.0 560.97,243.0 560.92,244.0 560.87,245.0 560.82,246.0 560.78,247.0 560.75,248.0 560.72,249.0 560.69,250.0 560.67,251.0 560.66,252.0 560.65,253.0 560.65,254.0 560.66,255.0 560.67,256.0 560.68,257.0 560.71,258.0 560.73,259.0 560.77,260.0 560.81,261.0 560.85,262.0 560.90,263.0 560.96,264.0 561.01,265.0 561.08,266.0 561.15,267.0 561.22,268.0 561.29,269.0 561.37,270.0 561.46,271.0 561.54,272.0 561.63,273.0 561.72,274.0 561.81,275.0 561.90,276.0 561.99,277.0 562.08,278.0 562.17,279.0 562.26,280.0 562.35,281.0 562.44,282.0 562.53,283.0 562.61,284.0 562.69,285.0 562.77,286.0 562.84,287.0 562.91,288.0 562.97,289.0 563.03,290.0 563.09,291.0 563.14,292.0 563.18,293.0 563.21,294.0 563.24,295.0 563.26,296.0 563.28,297.0 563.29,298.0 563.29,299.0 563.28,300.0 563.26,301.0 563.24,302.0 563.21,303.0 563.17,304.0 563.12,305.0 563.06,306.0 562.99,307.0 562.92,308.0 562.84,309.0 562.75,310.0 562.65,311.0 562.54,312.0 562.43,313.0 562.31,314.0 562.18,315.0 562.05,316.0 561.91,317.0 561.76,318.0 561.61,319.0 561.45,320.0 561.29,321.0 561.13,322.0 560.96,323.0 560.79,324.0 560.61,325.0 560.43,326.0 560.25,327.0 560.07,328.0 559.89,329.0 559.71,330.0 559.53,331.0 559.36,332.0 559.18,333.0 559.00,334.0 558.83,335.0 558.66,336.0 558.49,337.0 558.33,338.0 558.16,339.0 558.01,340.0 557.85,341.0 557.70,342.0 557.55,343.0 557.40,344.0 557.26,345.0 557.11,346.0 556.97,347.0 556.84,348.0 556.70,349.0 556.56,350.0 556.42,351.0 556.29,352.0 556.15,353.0 556.01,354.0 555.87,355.0 555.73,356.0 555.58,357.0 555.44,358.0 555.29,359.0 555.14,360.0 554.99,361.0 554.83,362.0 554.68,363.0 554.52,364.0 554.36,365.0 554.20,366.0 554.04,367.0 553.88,368.0 553.72,369.0 553.56,370.0 553.41,371.0 553.25,372.0 553.10,373.0 552.95,374.0 552.81,375.0 552.67,376.0 552.53,377.0 552.40,378.0 552.27,379.0 552.15,380.0 552.04,381.0 551.93,382.0 551.83,383.0 551.73,384.0 551.64,385.0 551.56,386.0 551.48,387.0 551.40,388.0 551.33,389.0 551.27,390.0 551.21,391.0 551.16,392.0 551.11,393.0 551.06,394.0 551.02,395.0 550.98,396.0 550.95,397.0 550.91,398.0 550.89,399.0 550.86,400.0 550.84,401.0 550.81,402.0 550.79,403.0 550.78,404.0 550.76,405.0 550.74,406.0 550.73,407.0 550.72,408.0 550.71,409.0 550.70,410.0 550.69,411.0 550.68,412.0 550.67,413.0 550.67,414.0 550.66,415.0 550.65,416.0 550.60,417.0 550.60,417.0 550.55,416.0 550.54,415.0 550.53,414.0 550.53,413.0 550.52,412.0 550.51,411.0 550.50,410.0 550.49,409.0 550.48,408.0 550.47,407.0 550.46,406.0 550.44,405.0 550.42,404.0 550.41,403.0 550.39,402.0 550.36,401.0 550.34,400.0 550.31,399.0 550.29,398.0 550.25,397.0 550.22,396.0 550.18,395.0 550.14,394.0 550.09,393.0 550.04,392.0 549.99,391.0 549.93,390.0 549.87,389.0 549.80,388.0 549.72,387.0 549.64,386.0 549.56,385.0 549.47,384.0 549.37,383.0 549.27,382.0 549.16,381.0 549.05,380.0 548.93,379.0 548.80,378.0 548.67,377.0 548.53,376.0 548.39,375.0 548.25,374.0 548.10,373.0 547.95,372.0 547.79,371.0 547.64,370.0 547.48,369.0 547.32,368.0 547.16,367.0 547.00,366.0 546.84,365.0 546.68,364.0 546.52,363.0 546.37,362.0 546.21,361.0 546.06,360.0 545.91,359.0 545.76,358.0 545.62,357.0 545.47,356.0 545.33,355.0 545.19,354.0 545.05,353.0 544.91,352.0 544.78,351.0 544.64,350.0 544.50,349.0 544.36,348.0 544.23,347.0 544.09,346.0 543.94,345.0 543.80,344.0 543.65,343.0 543.50,342.0 543.35,341.0 543.19,340.0 543.04,339.0 542.87,338.0 542.71,337.0 542.54,336.0 542.37,335.0 542.20,334.0 542.02,333.0 541.84,332.0 541.67,331.0 541.49,330.0 541.31,329.0 541.13,328.0 540.95,327.0 540.77,326.0 540.59,325.0 540.41,324.0 540.24,323.0 540.07,322.0 539.91,321.0 539.75,320.0 539.59,319.0 539.44,318.0 539.29,317.0 539.15,316.0 539.02,315.0 538.89,314.0 538.77,313.0 538.66,312.0 538.55,311.0 538.45,310.0 538.36,309.0 538.28,308.0 538.21,307.0 538.14,306.0 538.08,305.0 538.03,304.0 537.99,303.0 537.96,302.0 537.94,301.0 537.92,300.0 537.91,299.0 537.91,298.0 537.92,297.0 537.94,296.0 537.96,295.0 537.99,294.0 538.02,293.0 538.06,292.0 538.11,291.0 538.17,290.0 538.23,289.0 538.29,288.0 538.36,287.0 538.43,286.0 538.51,285.0 538.59,284.0 538.67,283.0 538.76,282.0 538.85,281.0 538.94,280.0 539.03,279.0 539.12,278.0 539.21,277.0 539.30,276.0 539.39,275.0 539.48,274.0 539.57,273.0 539.66,272.0 539.74,271.0 539.83,270.0 539.91,269.0 539.98,268.0 540.05,267.0 540.12,266.0 540.19,265.0 540.24,264.0 540.30,263.0 540.35,262.0 540.39,261.0 540.43,260.0 540.47,259.0 540.49,258.0 540.52,257.0 540.53,256.0 540.54,255.0 540.55,254.0 540.55,253.0 540.54,252.0 540.53,251.0 540.51,250.0 540.48,249.0 540.45,248.0 540.42,247.0 540.38,246.0 540.33,245.0 540.28,244.0 540.23,243.0 540.17,242.0 540.11,241.0 540.04,240.0 539.97,239.0 539.90,238.0 539.82,237.0 539.75,236.0 539.67,235.0 539.59,234.0 539.50,233.0 539.42,232.0 539.33,231.0 539.25,230.0 539.16,229.0 539.08,228.0 538.99,227.0 538.91,226.0 538.83,225.0 538.75,224.0 538.67,223.0 538.59,222.0 538.52,221.0 538.45,220.0 538.38,219.0 538.32,218.0 538.26,217.0 538.20,216.0 538.14,215.0 538.09,214.0 538.05,213.0 538.00,212.0 537.96,211.0 537.93,210.0 537.90,209.0 537.87,208.0 537.84,207.0 537.82,206.0 537.80,205.0 537.79,204.0 537.78,203.0 537.77,202.0 537.77,201.0 537.77,200.0 537.77,199.0 537.78,198.0 537.79,197.0 537.81,196.0 537.83,195.0 537.85,194.0 537.88,193.0 537.92,192.0 537.96,191.0 538.01,190.0 538.06,189.0 538.12,188.0 538.19,187.0 538.27,186.0 538.35,185.0 538.45,184.0 538.56,183.0 538.67,182.0 538.80,181.0 538.93,180.0 539.08,179.0 539.24,178.0 539.41,177.0 539.58,176.0 539.77,175.0 539.97,174.0 540.18,173.0 540.40,172.0 540.62,171.0 540.86,170.0 541.09,169.0 541.34,168.0 541.59,167.0 541.84,166.0 542.10,165.0 542.36,164.0 542.62,163.0 542.88,162.0 543.14,161.0 543.40,160.0 543.65,159.0 543.91,158.0 544.15,157.0 544.40,156.0 544.64,155.0 544.87,154.0 545.10,153.0 545.32,152.0 545.54,151.0 545.75,150.0 545.96,149.0 546.15,148.0 546.34,147.0 546.53,146.0 546.71,145.0 546.88,144.0 547.04,143.0 547.20,142.0 547.35,141.0 547.50,140.0 547.64,139.0 547.78,138.0 547.91,137.0 548.04,136.0 548.16,135.0 548.27,134.0 548.39,133.0 548.49,132.0 548.60,131.0 548.70,130.0 548.79,129.0 548.88,128.0 548.97,127.0 549.05,126.0 549.13,125.0 549.21,124.0 549.28,123.0 549.36,122.0 549.42,121.0 549.49,120.0 549.55,119.0 549.61,118.0 549.66,117.0 549.72,116.0 549.77,115.0 549.82,114.0 549.86,113.0 549.91,112.0 549.95,111.0 549.99,110.0 550.03,109.0 550.06,108.0 550.09,107.0 550.13,106.0 550.16,105.0 550.19,104.0 550.21,103.0 550.24,102.0 550.26,101.0 550.28,100.0 550.31,99.0 550.33,98.0 550.34,97.0 550.36,96.0 550.38,95.0 550.39,94.0 550.41,93.0 550.42,92.0 550.44,91.0 550.45,90.0 550.46,89.0 550.47,88.0 550.48,87.0 550.49,86.0 550.60,85.0ZM540.55 253.4H560.65"/>
<path class="v" stroke="#00BF7D" stroke-width="1.45" d="M581 102V105.0M581 420.0V427.6"/>
<path class="v" stroke="#00BF7D" stroke-width="1.45" d="M581.00,105.0 581.05,106.0 581.06,107.0 581.07,108.0 581.08,109.0 581.09,110.0 581.10,111.0 581.12,112.0 581.13,113.0 581.15,114.0 581.17,115.0 581.19,116.0 581.21,117.0 581.23,118.0 581.26,119.0 581.29,120.0 581.32,121.0 581.36,122.0 581.40,123.0 581.44,124.0 581.48,125.0 581.53,126.0 581.59,127.0 581.65,128.0 581.71,129.0 581.78,130.0 581.86,131.0 581.94,132.0 582.02,133.0 582.12,134.0 582.22,135.0 582.32,136.0 582.43,137.0 582.56,138.0 582.68,139.0 582.82,140.0 582.96,141.0 583.11,142.0 583.27,143.0 583.44,144.0 583.62,145.0 583.80,146.0 583.99,147.0 584.19,148.0 584.40,149.0 584.62,150.0 584.85,151.0 585.08,152.0 585.32,153.0 585.57,154.0 585.83,155.0 586.09,156.0 586.35,157.0 586.63,158.0 586.91,159.0 587.19,160.0 587.47,161.0 587.76,162.0 588.06,163.0 588.35,164.0 588.64,165.0 588.94,166.0 589.23,167.0 589.52,168.0 589.81,169.0 590.10,170.0 590.38,171.0 590.66,172.0 590.93,173.0 591.20,174.0 591.46,175.0 591.71,176.0 591.95,177.0 592.18,178.0 592.41,179.0 592.62,180.0 592.82,181.0 593.01,182.0 593.19,183.0 593.36,184.0 593.52,185.0 593.67,186.0 593.80,187.0 593.92,188.0 594.04,189.0 594.14,190.0 594.23,191.0 594.30,192.0 594.37,193.0 594.43,194.0 594.48,195.0 594.53,196.0 594.56,197.0 594.59,198.0 594.61,199.0 594.62,200.0 594.63,201.0 594.63,202.0 594.63,203.0 594.62,204.0 594.61,205.0 594.60,206.0 594.59,207.0 594.57,208.0 594.54,209.0 594.52,210.0 594.49,211.0 594.47,212.0 594.43,213.0 594.40,214.0 594.36,215.0 594.33,216.0 594.28,217.0 594.24,218.0 594.19,219.0 594.14,220.0 594.09,221.0 594.03,222.0 593.96,223.0 593.90,224.0 593.82,225.0 593.75,226.0 593.66,227.0 593.58,228.0 593.49,229.0 593.39,230.0 593.29,231.0 593.19,232.0 593.09,233.0 592.98,234.0 592.87,235.0 592.75,236.0 592.64,237.0 592.52,238.0 592.41,239.0 592.29,240.0 592.18,241.0 592.07,242.0 591.96,243.0 591.86,244.0 591.76,245.0 591.67,246.0 591.58,247.0 591.50,248.0 591.43,249.0 591.37,250.0 591.32,251.0 591.27,252.0 591.24,253.0 591.21,254.0 591.19,255.0 591.19,256.0 591.19,257.0 591.21,258.0 591.24,259.0 591.27,260.0 591.32,261.0 591.37,262.0 591.43,263.0 591.51,264.0 591.59,265.0 591.68,266.0 591.77,267.0 591.87,268.0 591.98,269.0 592.09,270.0 592.20,271.0 592.32,272.0 592.44,273.0 592.57,274.0 592.69,275.0 592.82,276.0 592.94,277.0 593.06,278.0 593.18,279.0 593.30,280.0 593.42,281.0 593.53,282.0 593.64,283.0 593.74,284.0 593.84,285.0 593.93,286.0 594.01,287.0 594.09,288.0 594.16,289.0 594.22,290.0 594.28,291.0 594.32,292.0 594.36,293.0 594.39,294.0 594.41,295.0 594.42,296.0 594.42,297.0 594.41,298.0 594.39,299.0 594.37,300.0 594.33,301.0 594.29,302.0 594.23,303.0 594.17,304.0 594.09,305.0 594.01,306.0 593.92,307.0 593.82,308.0 593.71,309.0 593.59,310.0 593.47,311.0 593.34,312.0 593.20,313.0 593.05,314.0 592.90,315.0 592.74,316.0 592.58,317.0 592.41,318.0 592.23,319.0 592.06,320.0 591.87,321.0 591.69,322.0 591.50,323.0 591.31,324.0 591.12,325.0 590.92,326.0 590.73,327.0 590.53,328.0 590.34,329.0 590.14,330.0 589.95,331.0 589.76,332.0 589.57,333.0 589.38,334.0 589.20,335.0 589.01,336.0 588.83,337.0 588.66,338.0 588.49,339.0 588.32,340.0 588.15,341.0 587.99,342.0 587.83,343.0 587.67,344.0 587.51,345.0 587.36,346.0 587.21,347.0 587.06,348.0 586.91,349.0 586.77,350.0 586.62,351.0 586.48,352.0 586.33,353.0 586.18,354.0 586.04,355.0 585.89,356.0 585.74,357.0 585.60,358.0 585.45,359.0 585.30,360.0 585.14,361.0 584.99,362.0 584.84,363.0 584.68,364.0 584.53,365.0 584.38,366.0 584.22,367.0 584.07,368.0 583.92,369.0 583.77,370.0 583.63,371.0 583.49,372.0 583.35,373.0 583.21,374.0 583.08,375.0 582.95,376.0 582.82,377.0 582.71,378.0 582.59,379.0 582.48,380.0 582.38,381.0 582.28,382.0 582.19,383.0 582.10,384.0 582.02,385.0 581.94,386.0 581.87,387.0 581.80,388.0 581.74,389.0 581.68,390.0 581.62,391.0 581.57,392.0 581.53,393.0 581.48,394.0 581.44,395.0 581.41,396.0 581.37,397.0 581.34,398.0 581.31,399.0 581.29,400.0 581.26,401.0 581.24,402.0 581.22,403.0 581.20,404.0 581.19,405.0 581.17,406.0 581.16,407.0 581.14,408.0 581.13,409.0 581.12,410.0 581.11,411.0 581.10,412.0 581.09,413.0 581.08,414.0 581.08,415.0 581.07,416.0 581.06,417.0 581.06,418.0 581.05,419.0 581.00,420.0 581.00,420.0 580.95,419.0 580.94,418.0 580.94,417.0 580.93,416.0 580.92,415.0 580.92,414.0 580.91,413.0 580.90,412.0 580.89,411.0 580.88,410.0 580.87,409.0 580.86,408.0 580.84,407.0 580.83,406.0 580.81,405.0 580.80,404.0 580.78,403.0 580.76,402.0 580.74,401.0 580.71,400.0 580.69,399.0 580.66,398.0 580.63,397.0 580.59,396.0 580.56,395.0 580.52,394.0 580.47,393.0 580.43,392.0 580.38,391.0 580.32,390.0 580.26,389.0 580.20,388.0 580.13,387.0 580.06,386.0 579.98,385.0 579.90,384.0 579.81,383.0 579.72,382.0 579.62,381.0 579.52,380.0 579.41,379.0 579.29,378.0 579.18,377.0 579.05,376.0 578.92,375.0 578.79,374.0 578.65,373.0 578.51,372.0 578.37,371.0 578.23,370.0 578.08,369.0 577.93,368.0 577.78,367.0 577.62,366.0 577.47,365.0 577.32,364.0 577.16,363.0 577.01,362.0 576.86,361.0 576.70,360.0 576.55,359.0 576.40,358.0 576.26,357.0 576.11,356.0 575.96,355.0 575.82,354.0 575.67,353.0 575.52,352.0 575.38,351.0 575.23,350.0 575.09,349.0 574.94,348.0 574.79,347.0 574.64,346.0 574.49,345.0 574.33,344.0 574.17,343.0 574.01,342.0 573.85,341.0 573.68,340.0 573.51,339.0 573.34,338.0 573.17,337.0 572.99,336.0 572.80,335.0 572.62,334.0 572.43,333.0 572.24,332.0 572.05,331.0 571.86,330.0 571.66,329.0 571.47,328.0 571.27,327.0 571.08,326.0 570.88,325.0 570.69,324.0 570.50,323.0 570.31,322.0 570.13,321.0 569.94,320.0 569.77,319.0 569.59,318.0 569.42,317.0 569.26,316.0 569.10,315.0 568.95,314.0 568.80,313.0 568.66,312.0 568.53,311.0 568.41,310.0 568.29,309.0 568.18,308.0 568.08,307.0 567.99,306.0 567.91,305.0 567.83,304.0 567.77,303.0 567.71,302.0 567.67,301.0 567.63,300.0 567.61,299.0 567.59,298.0 567.58,297.0 567.58,296.0 567.59,295.0 567.61,294.0 567.64,293.0 567.68,292.0 567.72,291.0 567.78,290.0 567.84,289.0 567.91,288.0 567.99,287.0 568.07,286.0 568.16,285.0 568.26,284.0 568.36,283.0 568.47,282.0 568.58,281.0 568.70,280.0 568.82,279.0 568.94,278.0 569.06,277.0 569.18,276.0 569.31,275.0 569.43,274.0 569.56,273.0 569.68,272.0 569.80,271.0 569.91,270.0 570.02,269.0 570.13,268.0 570.23,267.0 570.32,266.0 570.41,265.0 570.49,264.0 570.57,263.0 570.63,262.0 570.68,261.0 570.73,260.0 570.76,259.0 570.79,258.0 570.81,257.0 570.81,256.0 570.81,255.0 570.79,254.0 570.76,253.0 570.73,252.0 570.68,251.0 570.63,250.0 570.57,249.0 570.50,248.0 570.42,247.0 570.33,246.0 570.24,245.0 570.14,244.0 570.04,243.0 569.93,242.0 569.82,241.0 569.71,240.0 569.59,239.0 569.48,238.0 569.36,237.0 569.25,236.0 569.13,235.0 569.02,234.0 568.91,233.0 568.81,232.0 568.71,231.0 568.61,230.0 568.51,229.0 568.42,228.0 568.34,227.0 568.25,226.0 568.18,225.0 568.10,224.0 568.04,223.0 567.97,222.0 567.91,221.0 567.86,220.0 567.81,219.0 567.76,218.0 567.72,217.0 567.67,216.0 567.64,215.0 567.60,214.0 567.57,213.0 567.53,212.0 567.51,211.0 567.48,210.0 567.46,209.0 567.43,208.0 567.41,207.0 567.40,206.0 567.39,205.0 567.38,204.0 567.37,203.0 567.37,202.0 567.37,201.0 567.38,200.0 567.39,199.0 567.41,198.0 567.44,197.0 567.47,196.0 567.52,195.0 567.57,194.0 567.63,193.0 567.70,192.0 567.77,191.0 567.86,190.0 567.96,189.0 568.08,188.0 568.20,187.0 568.33,186.0 568.48,185.0 568.64,184.0 568.81,183.0 568.99,182.0 569.18,181.0 569.38,180.0 569.59,179.0 569.82,178.0 570.05,177.0 570.29,176.0 570.54,175.0 570.80,174.0 571.07,173.0 571.34,172.0 571.62,171.0 571.90,170.0 572.19,169.0 572.48,168.0 572.77,167.0 573.06,166.0 573.36,165.0 573.65,164.0 573.94,163.0 574.24,162.0 574.53,161.0 574.81,160.0 575.09,159.0 575.37,158.0 575.65,157.0 575.91,156.0 576.17,155.0 576.43,154.0 576.68,153.0 576.92,152.0 577.15,151.0 577.38,150.0 577.60,149.0 577.81,148.0 578.01,147.0 578.20,146.0 578.38,145.0 578.56,144.0 578.73,143.0 578.89,142.0 579.04,141.0 579.18,140.0 579.32,139.0 579.44,138.0 579.57,137.0 579.68,136.0 579.78,135.0 579.88,134.0 579.98,133.0 580.06,132.0 580.14,131.0 580.22,130.0 580.29,129.0 580.35,128.0 580.41,127.0 580.47,126.0 580.52,125.0 580.56,124.0 580.60,123.0 580.64,122.0 580.68,121.0 580.71,120.0 580.74,119.0 580.77,118.0 580.79,117.0 580.81,116.0 580.83,115.0 580.85,114.0 580.87,113.0 580.88,112.0 580.90,111.0 580.91,110.0 580.92,109.0 580.93,108.0 580.94,107.0 580.95,106.0 581.00,105.0ZM570.79 254H591.21"/>
<path class="v" stroke="#00B0F6" stroke-width="1.45" d="M611.2 417.0V433.6"/>
<path class="v" stroke="#00B0F6" stroke-width="1.45" d="M611.20,88.0 611.35,89.0 611.36,90.0 611.37,91.0 611.38,92.0 611.40,93.0 611.41,94.0 611.43,95.0 611.45,96.0 611.47,97.0 611.49,98.0 611.51,99.0 611.53,100.0 611.55,101.0 611.58,102.0 611.61,103.0 611.63,104.0 611.66,105.0 611.70,106.0 611.73,107.0 611.77,108.0 611.80,109.0 611.84,110.0 611.88,111.0 611.93,112.0 611.97,113.0 612.02,114.0 612.07,115.0 612.13,116.0 612.19,117.0 612.24,118.0 612.31,119.0 612.37,120.0 612.44,121.0 612.51,122.0 612.59,123.0 612.66,124.0 612.75,125.0 612.83,126.0 612.92,127.0 613.01,128.0 613.11,129.0 613.21,130.0 613.32,131.0 613.42,132.0 613.54,133.0 613.66,134.0 613.78,135.0 613.91,136.0 614.04,137.0 614.18,138.0 614.33,139.0 614.48,140.0 614.64,141.0 614.80,142.0 614.97,143.0 615.14,144.0 615.33,145.0 615.52,146.0 615.71,147.0 615.91,148.0 616.12,149.0 616.34,150.0 616.56,151.0 616.79,152.0 617.02,153.0 617.26,154.0 617.50,155.0 617.75,156.0 618.00,157.0 618.26,158.0 618.52,159.0 618.78,160.0 619.04,161.0 619.30,162.0 619.56,163.0 619.82,164.0 620.07,165.0 620.32,166.0 620.57,167.0 620.81,168.0 621.05,169.0 621.28,170.0 621.50,171.0 621.71,172.0 621.91,173.0 622.10,174.0 622.28,175.0 622.45,176.0 622.61,177.0 622.76,178.0 622.90,179.0 623.03,180.0 623.14,181.0 623.25,182.0 623.35,183.0 623.43,184.0 623.51,185.0 623.58,186.0 623.64,187.0 623.69,188.0 623.74,189.0 623.77,190.0 623.81,191.0 623.83,192.0 623.85,193.0 623.87,194.0 623.88,195.0 623.89,196.0 623.89,197.0 623.89,198.0 623.89,199.0 623.88,200.0 623.87,201.0 623.86,202.0 623.84,203.0 623.82,204.0 623.80,205.0 623.77,206.0 623.74,207.0 623.70,208.0 623.66,209.0 623.62,210.0 623.58,211.0 623.53,212.0 623.48,213.0 623.42,214.0 623.37,215.0 623.31,216.0 623.24,217.0 623.18,218.0 623.11,219.0 623.04,220.0 622.96,221.0 622.89,222.0 622.81,223.0 622.73,224.0 622.66,225.0 622.58,226.0 622.50,227.0 622.42,228.0 622.34,229.0 622.26,230.0 622.18,231.0 622.11,232.0 622.03,233.0 621.96,234.0 621.89,235.0 621.83,236.0 621.76,237.0 621.70,238.0 621.65,239.0 621.59,240.0 621.55,241.0 621.50,242.0 621.46,243.0 621.43,244.0 621.40,245.0 621.37,246.0 621.35,247.0 621.34,248.0 621.33,249.0 621.33,250.0 621.33,251.0 621.34,252.0 621.35,253.0 621.37,254.0 621.40,255.0 621.43,256.0 621.46,257.0 621.50,258.0 621.55,259.0 621.60,260.0 621.65,261.0 621.71,262.0 621.78,263.0 621.84,264.0 621.92,265.0 621.99,266.0 622.07,267.0 622.15,268.0 622.23,269.0 622.31,270.0 622.40,271.0 622.48,272.0 622.57,273.0 622.66,274.0 622.75,275.0 622.83,276.0 622.92,277.0 623.00,278.0 623.08,279.0 623.17,280.0 623.24,281.0 623.32,282.0 623.39,283.0 623.46,284.0 623.52,285.0 623.58,286.0 623.63,287.0 623.68,288.0 623.72,289.0 623.76,290.0 623.79,291.0 623.81,292.0 623.83,293.0 623.84,294.0 623.84,295.0 623.84,296.0 623.82,297.0 623.80,298.0 623.78,299.0 623.74,300.0 623.70,301.0 623.64,302.0 623.59,303.0 623.52,304.0 623.44,305.0 623.36,306.0 623.27,307.0 623.17,308.0 623.06,309.0 622.95,310.0 622.83,311.0 622.70,312.0 622.57,313.0 622.43,314.0 622.28,315.0 622.13,316.0 621.97,317.0 621.81,318.0 621.64,319.0 621.47,320.0 621.30,321.0 621.12,322.0 620.94,323.0 620.76,324.0 620.57,325.0 620.39,326.0 620.20,327.0 620.02,328.0 619.83,329.0 619.65,330.0 619.47,331.0 619.29,332.0 619.11,333.0 618.94,334.0 618.77,335.0 618.61,336.0 618.44,337.0 618.29,338.0 618.14,339.0 617.99,340.0 617.85,341.0 617.71,342.0 617.58,343.0 617.45,344.0 617.33,345.0 617.21,346.0 617.10,347.0 616.99,348.0 616.88,349.0 616.77,350.0 616.67,351.0 616.57,352.0 616.47,353.0 616.36,354.0 616.26,355.0 616.15,356.0 616.05,357.0 615.94,358.0 615.83,359.0 615.71,360.0 615.59,361.0 615.47,362.0 615.34,363.0 615.21,364.0 615.08,365.0 614.94,366.0 614.80,367.0 614.66,368.0 614.51,369.0 614.37,370.0 614.22,371.0 614.07,372.0 613.92,373.0 613.78,374.0 613.63,375.0 613.49,376.0 613.35,377.0 613.21,378.0 613.08,379.0 612.95,380.0 612.82,381.0 612.70,382.0 612.59,383.0 612.48,384.0 612.38,385.0 612.28,386.0 612.19,387.0 612.10,388.0 612.02,389.0 611.95,390.0 611.88,391.0 611.82,392.0 611.76,393.0 611.71,394.0 611.66,395.0 611.61,396.0 611.57,397.0 611.54,398.0 611.50,399.0 611.47,400.0 611.44,401.0 611.42,402.0 611.40,403.0 611.38,404.0 611.36,405.0 611.34,406.0 611.33,407.0 611.32,408.0 611.31,409.0 611.30,410.0 611.29,411.0 611.28,412.0 611.27,413.0 611.26,414.0 611.26,415.0 611.25,416.0 611.20,417.0 611.20,417.0 611.15,416.0 611.14,415.0 611.14,414.0 611.13,413.0 611.12,412.0 611.11,411.0 611.10,410.0 611.09,409.0 611.08,408.0 611.07,407.0 611.06,406.0 611.04,405.0 611.02,404.0 611.00,403.0 610.98,402.0 610.96,401.0 610.93,400.0 610.90,399.0 610.86,398.0 610.83,397.0 610.79,396.0 610.74,395.0 610.69,394.0 610.64,393.0 610.58,392.0 610.52,391.0 610.45,390.0 610.38,389.0 610.30,388.0 610.21,387.0 610.12,386.0 610.02,385.0 609.92,384.0 609.81,383.0 609.70,382.0 609.58,381.0 609.45,380.0 609.32,379.0 609.19,378.0 609.05,377.0 608.91,376.0 608.77,375.0 608.62,374.0 608.48,373.0 608.33,372.0 608.18,371.0 608.03,370.0 607.89,369.0 607.74,368.0 607.60,367.0 607.46,366.0 607.32,365.0 607.19,364.0 607.06,363.0 606.93,362.0 606.81,361.0 606.69,360.0 606.57,359.0 606.46,358.0 606.35,357.0 606.25,356.0 606.14,355.0 606.04,354.0 605.93,353.0 605.83,352.0 605.73,351.0 605.63,350.0 605.52,349.0 605.41,348.0 605.30,347.0 605.19,346.0 605.07,345.0 604.95,344.0 604.82,343.0 604.69,342.0 604.55,341.0 604.41,340.0 604.26,339.0 604.11,338.0 603.96,337.0 603.79,336.0 603.63,335.0 603.46,334.0 603.29,333.0 603.11,332.0 602.93,331.0 602.75,330.0 602.57,329.0 602.38,328.0 602.20,327.0 602.01,326.0 601.83,325.0 601.64,324.0 601.46,323.0 601.28,322.0 601.10,321.0 600.93,320.0 600.76,319.0 600.59,318.0 600.43,317.0 600.27,316.0 600.12,315.0 599.97,314.0 599.83,313.0 599.70,312.0 599.57,311.0 599.45,310.0 599.34,309.0 599.23,308.0 599.13,307.0 599.04,306.0 598.96,305.0 598.88,304.0 598.81,303.0 598.76,302.0 598.70,301.0 598.66,300.0 598.62,299.0 598.60,298.0 598.58,297.0 598.56,296.0 598.56,295.0 598.56,294.0 598.57,293.0 598.59,292.0 598.61,291.0 598.64,290.0 598.68,289.0 598.72,288.0 598.77,287.0 598.82,286.0 598.88,285.0 598.94,284.0 599.01,283.0 599.08,282.0 599.16,281.0 599.23,280.0 599.32,279.0 599.40,278.0 599.48,277.0 599.57,276.0 599.65,275.0 599.74,274.0 599.83,273.0 599.92,272.0 600.00,271.0 600.09,270.0 600.17,269.0 600.25,268.0 600.33,267.0 600.41,266.0 600.48,265.0 600.56,264.0 600.62,263.0 600.69,262.0 600.75,261.0 600.80,260.0 600.85,259.0 600.90,258.0 600.94,257.0 600.97,256.0 601.00,255.0 601.03,254.0 601.05,253.0 601.06,252.0 601.07,251.0 601.07,250.0 601.07,249.0 601.06,248.0 601.05,247.0 601.03,246.0 601.00,245.0 600.97,244.0 600.94,243.0 600.90,242.0 600.85,241.0 600.81,240.0 600.75,239.0 600.70,238.0 600.64,237.0 600.57,236.0 600.51,235.0 600.44,234.0 600.37,233.0 600.29,232.0 600.22,231.0 600.14,230.0 600.06,229.0 599.98,228.0 599.90,227.0 599.82,226.0 599.74,225.0 599.67,224.0 599.59,223.0 599.51,222.0 599.44,221.0 599.36,220.0 599.29,219.0 599.22,218.0 599.16,217.0 599.09,216.0 599.03,215.0 598.98,214.0 598.92,213.0 598.87,212.0 598.82,211.0 598.78,210.0 598.74,209.0 598.70,208.0 598.66,207.0 598.63,206.0 598.60,205.0 598.58,204.0 598.56,203.0 598.54,202.0 598.53,201.0 598.52,200.0 598.51,199.0 598.51,198.0 598.51,197.0 598.51,196.0 598.52,195.0 598.53,194.0 598.55,193.0 598.57,192.0 598.59,191.0 598.63,190.0 598.66,189.0 598.71,188.0 598.76,187.0 598.82,186.0 598.89,185.0 598.97,184.0 599.05,183.0 599.15,182.0 599.26,181.0 599.37,180.0 599.50,179.0 599.64,178.0 599.79,177.0 599.95,176.0 600.12,175.0 600.30,174.0 600.49,173.0 600.69,172.0 600.90,171.0 601.12,170.0 601.35,169.0 601.59,168.0 601.83,167.0 602.08,166.0 602.33,165.0 602.58,164.0 602.84,163.0 603.10,162.0 603.36,161.0 603.62,160.0 603.88,159.0 604.14,158.0 604.40,157.0 604.65,156.0 604.90,155.0 605.14,154.0 605.38,153.0 605.61,152.0 605.84,151.0 606.06,150.0 606.28,149.0 606.49,148.0 606.69,147.0 606.88,146.0 607.07,145.0 607.26,144.0 607.43,143.0 607.60,142.0 607.76,141.0 607.92,140.0 608.07,139.0 608.22,138.0 608.36,137.0 608.49,136.0 608.62,135.0 608.74,134.0 608.86,133.0 608.98,132.0 609.08,131.0 609.19,130.0 609.29,129.0 609.39,128.0 609.48,127.0 609.57,126.0 609.65,125.0 609.74,124.0 609.81,123.0 609.89,122.0 609.96,121.0 610.03,120.0 610.09,119.0 610.16,118.0 610.21,117.0 610.27,116.0 610.33,115.0 610.38,114.0 610.43,113.0 610.47,112.0 610.52,111.0 610.56,110.0 610.60,109.0 610.63,108.0 610.67,107.0 610.70,106.0 610.74,105.0 610.77,104.0 610.79,103.0 610.82,102.0 610.85,101.0 610.87,100.0 610.89,99.0 610.91,98.0 610.93,97.0 610.95,96.0 610.97,95.0 610.99,94.0 611.00,93.0 611.02,92.0 611.03,91.0 611.04,90.0 611.05,89.0 611.20,88.0ZM601.06 252.4H621.34"/>
<path class="v" stroke="#E76BF3" stroke-width="1.45" d="M641.4 422.0V430.6"/>
<path class="v" stroke="#E76BF3" stroke-width="1.45" d="M641.40,93.0 641.52,94.0 641.53,95.0 641.54,96.0 641.55,97.0 641.57,98.0 641.58,99.0 641.60,100.0 641.62,101.0 641.64,102.0 641.66,103.0 641.69,104.0 641.71,105.0 641.74,106.0 641.77,107.0 641.80,108.0 641.83,109.0 641.87,110.0 641.91,111.0 641.95,112.0 641.99,113.0 642.04,114.0 642.09,115.0 642.14,116.0 642.20,117.0 642.26,118.0 642.33,119.0 642.39,120.0 642.46,121.0 642.54,122.0 642.62,123.0 642.70,124.0 642.79,125.0 642.89,126.0 642.98,127.0 643.09,128.0 643.20,129.0 643.31,130.0 643.43,131.0 643.55,132.0 643.68,133.0 643.81,134.0 643.95,135.0 644.10,136.0 644.25,137.0 644.40,138.0 644.56,139.0 644.73,140.0 644.90,141.0 645.08,142.0 645.26,143.0 645.45,144.0 645.64,145.0 645.84,146.0 646.04,147.0 646.25,148.0 646.46,149.0 646.67,150.0 646.89,151.0 647.11,152.0 647.34,153.0 647.57,154.0 647.80,155.0 648.03,156.0 648.27,157.0 648.51,158.0 648.74,159.0 648.98,160.0 649.22,161.0 649.46,162.0 649.70,163.0 649.94,164.0 650.17,165.0 650.41,166.0 650.64,167.0 650.87,168.0 651.09,169.0 651.31,170.0 651.53,171.0 651.74,172.0 651.94,173.0 652.14,174.0 652.34,175.0 652.53,176.0 652.71,177.0 652.88,178.0 653.04,179.0 653.20,180.0 653.35,181.0 653.49,182.0 653.62,183.0 653.74,184.0 653.85,185.0 653.95,186.0 654.05,187.0 654.13,188.0 654.21,189.0 654.28,190.0 654.34,191.0 654.39,192.0 654.43,193.0 654.47,194.0 654.49,195.0 654.51,196.0 654.53,197.0 654.54,198.0 654.54,199.0 654.54,200.0 654.53,201.0 654.52,202.0 654.51,203.0 654.49,204.0 654.47,205.0 654.45,206.0 654.43,207.0 654.41,208.0 654.38,209.0 654.36,210.0 654.33,211.0 654.30,212.0 654.27,213.0 654.24,214.0 654.21,215.0 654.17,216.0 654.14,217.0 654.10,218.0 654.05,219.0 654.01,220.0 653.95,221.0 653.90,222.0 653.84,223.0 653.77,224.0 653.70,225.0 653.62,226.0 653.54,227.0 653.45,228.0 653.35,229.0 653.25,230.0 653.15,231.0 653.04,232.0 652.92,233.0 652.81,234.0 652.69,235.0 652.57,236.0 652.45,237.0 652.32,238.0 652.21,239.0 652.09,240.0 651.98,241.0 651.87,242.0 651.77,243.0 651.68,244.0 651.59,245.0 651.51,246.0 651.45,247.0 651.39,248.0 651.34,249.0 651.31,250.0 651.28,251.0 651.27,252.0 651.26,253.0 651.27,254.0 651.29,255.0 651.32,256.0 651.36,257.0 651.41,258.0 651.47,259.0 651.53,260.0 651.61,261.0 651.69,262.0 651.78,263.0 651.88,264.0 651.98,265.0 652.08,266.0 652.19,267.0 652.30,268.0 652.41,269.0 652.53,270.0 652.65,271.0 652.76,272.0 652.88,273.0 652.99,274.0 653.10,275.0 653.21,276.0 653.32,277.0 653.43,278.0 653.53,279.0 653.62,280.0 653.71,281.0 653.80,282.0 653.88,283.0 653.96,284.0 654.02,285.0 654.09,286.0 654.14,287.0 654.19,288.0 654.23,289.0 654.27,290.0 654.29,291.0 654.31,292.0 654.32,293.0 654.32,294.0 654.32,295.0 654.30,296.0 654.28,297.0 654.25,298.0 654.21,299.0 654.16,300.0 654.11,301.0 654.04,302.0 653.97,303.0 653.89,304.0 653.81,305.0 653.71,306.0 653.61,307.0 653.50,308.0 653.39,309.0 653.26,310.0 653.13,311.0 653.00,312.0 652.86,313.0 652.71,314.0 652.56,315.0 652.41,316.0 652.25,317.0 652.08,318.0 651.91,319.0 651.74,320.0 651.57,321.0 651.40,322.0 651.22,323.0 651.04,324.0 650.86,325.0 650.68,326.0 650.50,327.0 650.33,328.0 650.15,329.0 649.97,330.0 649.80,331.0 649.63,332.0 649.46,333.0 649.30,334.0 649.14,335.0 648.98,336.0 648.83,337.0 648.68,338.0 648.53,339.0 648.39,340.0 648.25,341.0 648.11,342.0 647.98,343.0 647.85,344.0 647.72,345.0 647.60,346.0 647.48,347.0 647.36,348.0 647.23,349.0 647.11,350.0 646.99,351.0 646.87,352.0 646.75,353.0 646.63,354.0 646.50,355.0 646.38,356.0 646.25,357.0 646.11,358.0 645.98,359.0 645.84,360.0 645.70,361.0 645.56,362.0 645.41,363.0 645.26,364.0 645.11,365.0 644.96,366.0 644.81,367.0 644.66,368.0 644.51,369.0 644.36,370.0 644.21,371.0 644.06,372.0 643.91,373.0 643.77,374.0 643.63,375.0 643.50,376.0 643.37,377.0 643.24,378.0 643.12,379.0 643.00,380.0 642.89,381.0 642.78,382.0 642.68,383.0 642.59,384.0 642.50,385.0 642.42,386.0 642.34,387.0 642.26,388.0 642.19,389.0 642.13,390.0 642.07,391.0 642.02,392.0 641.97,393.0 641.92,394.0 641.88,395.0 641.84,396.0 641.80,397.0 641.77,398.0 641.74,399.0 641.71,400.0 641.69,401.0 641.66,402.0 641.64,403.0 641.62,404.0 641.60,405.0 641.59,406.0 641.57,407.0 641.56,408.0 641.55,409.0 641.53,410.0 641.52,411.0 641.51,412.0 641.50,413.0 641.49,414.0 641.49,415.0 641.48,416.0 641.47,417.0 641.47,418.0 641.46,419.0 641.46,420.0 641.45,421.0 641.40,422.0 641.40,422.0 641.35,421.0 641.34,420.0 641.34,419.0 641.33,418.0 641.33,417.0 641.32,416.0 641.31,415.0 641.31,414.0 641.30,413.0 641.29,412.0 641.28,411.0 641.27,410.0 641.25,409.0 641.24,408.0 641.23,407.0 641.21,406.0 641.20,405.0 641.18,404.0 641.16,403.0 641.14,402.0 641.11,401.0 641.09,400.0 641.06,399.0 641.03,398.0 641.00,397.0 640.96,396.0 640.92,395.0 640.88,394.0 640.83,393.0 640.78,392.0 640.73,391.0 640.67,390.0 640.61,389.0 640.54,388.0 640.46,387.0 640.38,386.0 640.30,385.0 640.21,384.0 640.12,383.0 640.02,382.0 639.91,381.0 639.80,380.0 639.68,379.0 639.56,378.0 639.43,377.0 639.30,376.0 639.17,375.0 639.03,374.0 638.89,373.0 638.74,372.0 638.59,371.0 638.44,370.0 638.29,369.0 638.14,368.0 637.99,367.0 637.84,366.0 637.69,365.0 637.54,364.0 637.39,363.0 637.24,362.0 637.10,361.0 636.96,360.0 636.82,359.0 636.69,358.0 636.55,357.0 636.42,356.0 636.30,355.0 636.17,354.0 636.05,353.0 635.93,352.0 635.81,351.0 635.69,350.0 635.57,349.0 635.44,348.0 635.32,347.0 635.20,346.0 635.08,345.0 634.95,344.0 634.82,343.0 634.69,342.0 634.55,341.0 634.41,340.0 634.27,339.0 634.12,338.0 633.97,337.0 633.82,336.0 633.66,335.0 633.50,334.0 633.34,333.0 633.17,332.0 633.00,331.0 632.83,330.0 632.65,329.0 632.47,328.0 632.30,327.0 632.12,326.0 631.94,325.0 631.76,324.0 631.58,323.0 631.40,322.0 631.23,321.0 631.06,320.0 630.89,319.0 630.72,318.0 630.55,317.0 630.39,316.0 630.24,315.0 630.09,314.0 629.94,313.0 629.80,312.0 629.67,311.0 629.54,310.0 629.41,309.0 629.30,308.0 629.19,307.0 629.09,306.0 628.99,305.0 628.91,304.0 628.83,303.0 628.76,302.0 628.69,301.0 628.64,300.0 628.59,299.0 628.55,298.0 628.52,297.0 628.50,296.0 628.48,295.0 628.48,294.0 628.48,293.0 628.49,292.0 628.51,291.0 628.53,290.0 628.57,289.0 628.61,288.0 628.66,287.0 628.71,286.0 628.78,285.0 628.84,284.0 628.92,283.0 629.00,282.0 629.09,281.0 629.18,280.0 629.27,279.0 629.37,278.0 629.48,277.0 629.59,276.0 629.70,275.0 629.81,274.0 629.92,273.0 630.04,272.0 630.15,271.0 630.27,270.0 630.39,269.0 630.50,268.0 630.61,267.0 630.72,266.0 630.82,265.0 630.92,264.0 631.02,263.0 631.11,262.0 631.19,261.0 631.27,260.0 631.33,259.0 631.39,258.0 631.44,257.0 631.48,256.0 631.51,255.0 631.53,254.0 631.54,253.0 631.53,252.0 631.52,251.0 631.49,250.0 631.46,249.0 631.41,248.0 631.35,247.0 631.29,246.0 631.21,245.0 631.12,244.0 631.03,243.0 630.93,242.0 630.82,241.0 630.71,240.0 630.59,239.0 630.48,238.0 630.35,237.0 630.23,236.0 630.11,235.0 629.99,234.0 629.88,233.0 629.76,232.0 629.65,231.0 629.55,230.0 629.45,229.0 629.35,228.0 629.26,227.0 629.18,226.0 629.10,225.0 629.03,224.0 628.96,223.0 628.90,222.0 628.85,221.0 628.79,220.0 628.75,219.0 628.70,218.0 628.66,217.0 628.63,216.0 628.59,215.0 628.56,214.0 628.53,213.0 628.50,212.0 628.47,211.0 628.44,210.0 628.42,209.0 628.39,208.0 628.37,207.0 628.35,206.0 628.33,205.0 628.31,204.0 628.29,203.0 628.28,202.0 628.27,201.0 628.26,200.0 628.26,199.0 628.26,198.0 628.27,197.0 628.29,196.0 628.31,195.0 628.33,194.0 628.37,193.0 628.41,192.0 628.46,191.0 628.52,190.0 628.59,189.0 628.67,188.0 628.75,187.0 628.85,186.0 628.95,185.0 629.06,184.0 629.18,183.0 629.31,182.0 629.45,181.0 629.60,180.0 629.76,179.0 629.92,178.0 630.09,177.0 630.27,176.0 630.46,175.0 630.66,174.0 630.86,173.0 631.06,172.0 631.27,171.0 631.49,170.0 631.71,169.0 631.93,168.0 632.16,167.0 632.39,166.0 632.63,165.0 632.86,164.0 633.10,163.0 633.34,162.0 633.58,161.0 633.82,160.0 634.06,159.0 634.29,158.0 634.53,157.0 634.77,156.0 635.00,155.0 635.23,154.0 635.46,153.0 635.69,152.0 635.91,151.0 636.13,150.0 636.34,149.0 636.55,148.0 636.76,147.0 636.96,146.0 637.16,145.0 637.35,144.0 637.54,143.0 637.72,142.0 637.90,141.0 638.07,140.0 638.24,139.0 638.40,138.0 638.55,137.0 638.70,136.0 638.85,135.0 638.99,134.0 639.12,133.0 639.25,132.0 639.37,131.0 639.49,130.0 639.60,129.0 639.71,128.0 639.82,127.0 639.91,126.0 640.01,125.0 640.10,124.0 640.18,123.0 640.26,122.0 640.34,121.0 640.41,120.0 640.47,119.0 640.54,118.0 640.60,117.0 640.66,116.0 640.71,115.0 640.76,114.0 640.81,113.0 640.85,112.0 640.89,111.0 640.93,110.0 640.97,109.0 641.00,108.0 641.03,107.0 641.06,106.0 641.09,105.0 641.11,104.0 641.14,103.0 641.16,102.0 641.18,101.0 641.20,100.0 641.22,99.0 641.23,98.0 641.25,97.0 641.26,96.0 641.27,95.0 641.28,94.0 641.40,93.0ZM631.54 252.6H651.26"/>
<path class="v" stroke="#F8766D" stroke-width="1.3" d="M746.8 74.4V105.4M746.8 359.4V423"/>
<path class="v" stroke="#F8766D" stroke-width="1.3" d="M746.80,105.4 746.85,106.4 746.86,107.4 746.86,108.4 746.87,109.4 746.88,110.4 746.88,111.4 746.89,112.4 746.90,113.4 746.91,114.4 746.92,115.4 746.93,116.4 746.94,117.4 746.95,118.4 746.96,119.4 746.97,120.4 746.99,121.4 747.00,122.4 747.02,123.4 747.03,124.4 747.05,125.4 747.07,126.4 747.08,127.4 747.10,128.4 747.12,129.4 747.14,130.4 747.16,131.4 747.19,132.4 747.21,133.4 747.23,134.4 747.26,135.4 747.28,136.4 747.31,137.4 747.34,138.4 747.37,139.4 747.39,140.4 747.42,141.4 747.45,142.4 747.48,143.4 747.51,144.4 747.55,145.4 747.58,146.4 747.61,147.4 747.64,148.4 747.67,149.4 747.71,150.4 747.74,151.4 747.77,152.4 747.80,153.4 747.84,154.4 747.87,155.4 747.90,156.4 747.93,157.4 747.96,158.4 747.99,159.4 748.02,160.4 748.05,161.4 748.08,162.4 748.10,163.4 748.13,164.4 748.15,165.4 748.18,166.4 748.20,167.4 748.22,168.4 748.24,169.4 748.26,170.4 748.28,171.4 748.29,172.4 748.31,173.4 748.32,174.4 748.33,175.4 748.34,176.4 748.35,177.4 748.36,178.4 748.37,179.4 748.37,180.4 748.38,181.4 748.38,182.4 748.38,183.4 748.38,184.4 748.38,185.4 748.38,186.4 748.38,187.4 748.37,188.4 748.37,189.4 748.37,190.4 748.36,191.4 748.35,192.4 748.35,193.4 748.34,194.4 748.33,195.4 748.33,196.4 748.32,197.4 748.31,198.4 748.30,199.4 748.30,200.4 748.29,201.4 748.28,202.4 748.27,203.4 748.27,204.4 748.26,205.4 748.25,206.4 748.25,207.4 748.24,208.4 748.24,209.4 748.23,210.4 748.23,211.4 748.23,212.4 748.22,213.4 748.22,214.4 748.22,215.4 748.22,216.4 748.22,217.4 748.22,218.4 748.22,219.4 748.23,220.4 748.23,221.4 748.23,222.4 748.23,223.4 748.24,224.4 748.24,225.4 748.25,226.4 748.25,227.4 748.26,228.4 748.26,229.4 748.27,230.4 748.28,231.4 748.28,232.4 748.29,233.4 748.30,234.4 748.30,235.4 748.31,236.4 748.32,237.4 748.32,238.4 748.33,239.4 748.33,240.4 748.34,241.4 748.34,242.4 748.35,243.4 748.35,244.4 748.35,245.4 748.36,246.4 748.36,247.4 748.36,248.4 748.36,249.4 748.36,250.4 748.36,251.4 748.36,252.4 748.36,253.4 748.36,254.4 748.36,255.4 748.35,256.4 748.35,257.4 748.34,258.4 748.34,259.4 748.33,260.4 748.32,261.4 748.31,262.4 748.30,263.4 748.29,264.4 748.28,265.4 748.27,266.4 748.26,267.4 748.25,268.4 748.23,269.4 748.22,270.4 748.20,271.4 748.19,272.4 748.17,273.4 748.15,274.4 748.14,275.4 748.12,276.4 748.10,277.4 748.08,278.4 748.06,279.4 748.04,280.4 748.02,281.4 748.00,282.4 747.98,283.4 747.95,284.4 747.93,285.4 747.91,286.4 747.89,287.4 747.87,288.4 747.84,289.4 747.82,290.4 747.80,291.4 747.77,292.4 747.75,293.4 747.73,294.4 747.70,295.4 747.68,296.4 747.66,297.4 747.63,298.4 747.61,299.4 747.59,300.4 747.57,301.4 747.54,302.4 747.52,303.4 747.50,304.4 747.48,305.4 747.46,306.4 747.44,307.4 747.42,308.4 747.39,309.4 747.37,310.4 747.35,311.4 747.34,312.4 747.32,313.4 747.30,314.4 747.28,315.4 747.26,316.4 747.24,317.4 747.23,318.4 747.21,319.4 747.19,320.4 747.18,321.4 747.16,322.4 747.15,323.4 747.13,324.4 747.12,325.4 747.10,326.4 747.09,327.4 747.08,328.4 747.07,329.4 747.05,330.4 747.04,331.4 747.03,332.4 747.02,333.4 747.01,334.4 747.00,335.4 746.99,336.4 746.98,337.4 746.97,338.4 746.96,339.4 746.95,340.4 746.95,341.4 746.94,342.4 746.93,343.4 746.92,344.4 746.92,345.4 746.91,346.4 746.90,347.4 746.90,348.4 746.89,349.4 746.89,350.4 746.88,351.4 746.88,352.4 746.87,353.4 746.87,354.4 746.86,355.4 746.86,356.4 746.86,357.4 746.85,358.4 746.80,359.4 746.80,359.4 746.75,358.4 746.74,357.4 746.74,356.4 746.74,355.4 746.73,354.4 746.73,353.4 746.72,352.4 746.72,351.4 746.71,350.4 746.71,349.4 746.70,348.4 746.70,347.4 746.69,346.4 746.68,345.4 746.68,344.4 746.67,343.4 746.66,342.4 746.65,341.4 746.65,340.4 746.64,339.4 746.63,338.4 746.62,337.4 746.61,336.4 746.60,335.4 746.59,334.4 746.58,333.4 746.57,332.4 746.56,331.4 746.55,330.4 746.53,329.4 746.52,328.4 746.51,327.4 746.50,326.4 746.48,325.4 746.47,324.4 746.45,323.4 746.44,322.4 746.42,321.4 746.41,320.4 746.39,319.4 746.37,318.4 746.36,317.4 746.34,316.4 746.32,315.4 746.30,314.4 746.28,313.4 746.26,312.4 746.25,311.4 746.23,310.4 746.21,309.4 746.18,308.4 746.16,307.4 746.14,306.4 746.12,305.4 746.10,304.4 746.08,303.4 746.06,302.4 746.03,301.4 746.01,300.4 745.99,299.4 745.97,298.4 745.94,297.4 745.92,296.4 745.90,295.4 745.87,294.4 745.85,293.4 745.83,292.4 745.80,291.4 745.78,290.4 745.76,289.4 745.73,288.4 745.71,287.4 745.69,286.4 745.67,285.4 745.65,284.4 745.62,283.4 745.60,282.4 745.58,281.4 745.56,280.4 745.54,279.4 745.52,278.4 745.50,277.4 745.48,276.4 745.46,275.4 745.45,274.4 745.43,273.4 745.41,272.4 745.40,271.4 745.38,270.4 745.37,269.4 745.35,268.4 745.34,267.4 745.33,266.4 745.32,265.4 745.31,264.4 745.30,263.4 745.29,262.4 745.28,261.4 745.27,260.4 745.26,259.4 745.26,258.4 745.25,257.4 745.25,256.4 745.24,255.4 745.24,254.4 745.24,253.4 745.24,252.4 745.24,251.4 745.24,250.4 745.24,249.4 745.24,248.4 745.24,247.4 745.24,246.4 745.25,245.4 745.25,244.4 745.25,243.4 745.26,242.4 745.26,241.4 745.27,240.4 745.27,239.4 745.28,238.4 745.28,237.4 745.29,236.4 745.30,235.4 745.30,234.4 745.31,233.4 745.32,232.4 745.32,231.4 745.33,230.4 745.34,229.4 745.34,228.4 745.35,227.4 745.35,226.4 745.36,225.4 745.36,224.4 745.37,223.4 745.37,222.4 745.37,221.4 745.37,220.4 745.38,219.4 745.38,218.4 745.38,217.4 745.38,216.4 745.38,215.4 745.38,214.4 745.38,213.4 745.37,212.4 745.37,211.4 745.37,210.4 745.36,209.4 745.36,208.4 745.35,207.4 745.35,206.4 745.34,205.4 745.33,204.4 745.33,203.4 745.32,202.4 745.31,201.4 745.30,200.4 745.30,199.4 745.29,198.4 745.28,197.4 745.27,196.4 745.27,195.4 745.26,194.4 745.25,193.4 745.25,192.4 745.24,191.4 745.23,190.4 745.23,189.4 745.23,188.4 745.22,187.4 745.22,186.4 745.22,185.4 745.22,184.4 745.22,183.4 745.22,182.4 745.22,181.4 745.23,180.4 745.23,179.4 745.24,178.4 745.25,177.4 745.26,176.4 745.27,175.4 745.28,174.4 745.29,173.4 745.31,172.4 745.32,171.4 745.34,170.4 745.36,169.4 745.38,168.4 745.40,167.4 745.42,166.4 745.45,165.4 745.47,164.4 745.50,163.4 745.52,162.4 745.55,161.4 745.58,160.4 745.61,159.4 745.64,158.4 745.67,157.4 745.70,156.4 745.73,155.4 745.76,154.4 745.80,153.4 745.83,152.4 745.86,151.4 745.89,150.4 745.93,149.4 745.96,148.4 745.99,147.4 746.02,146.4 746.05,145.4 746.09,144.4 746.12,143.4 746.15,142.4 746.18,141.4 746.21,140.4 746.23,139.4 746.26,138.4 746.29,137.4 746.32,136.4 746.34,135.4 746.37,134.4 746.39,133.4 746.41,132.4 746.44,131.4 746.46,130.4 746.48,129.4 746.50,128.4 746.52,127.4 746.53,126.4 746.55,125.4 746.57,124.4 746.58,123.4 746.60,122.4 746.61,121.4 746.63,120.4 746.64,119.4 746.65,118.4 746.66,117.4 746.67,116.4 746.68,115.4 746.69,114.4 746.70,113.4 746.71,112.4 746.72,111.4 746.72,110.4 746.73,109.4 746.74,108.4 746.74,107.4 746.75,106.4 746.80,105.4ZM745.26 241H748.34"/>
<path class="v" stroke="#B79F00" stroke-width="1.45" d="M771 346V347.0M771 429.0V430.4"/>
<path class="v" stroke="#B79F00" stroke-width="1.45" d="M771.00,347.0 771.07,348.0 771.10,349.0 771.14,350.0 771.21,351.0 771.30,352.0 771.42,353.0 771.57,354.0 771.77,355.0 772.00,356.0 772.29,357.0 772.63,358.0 773.01,359.0 773.42,360.0 773.87,361.0 774.32,362.0 774.78,363.0 775.21,364.0 775.61,365.0 775.96,366.0 776.25,367.0 776.47,368.0 776.62,369.0 776.70,370.0 776.73,371.0 776.71,372.0 776.65,373.0 776.57,374.0 776.47,375.0 776.38,376.0 776.28,377.0 776.19,378.0 776.10,379.0 776.03,380.0 775.95,381.0 775.89,382.0 775.82,383.0 775.77,384.0 775.72,385.0 775.69,386.0 775.67,387.0 775.68,388.0 775.70,389.0 775.75,390.0 775.84,391.0 775.94,392.0 776.07,393.0 776.22,394.0 776.38,395.0 776.53,396.0 776.68,397.0 776.81,398.0 776.90,399.0 776.96,400.0 776.96,401.0 776.91,402.0 776.80,403.0 776.63,404.0 776.40,405.0 776.12,406.0 775.80,407.0 775.44,408.0 775.06,409.0 774.66,410.0 774.26,411.0 773.87,412.0 773.49,413.0 773.13,414.0 772.80,415.0 772.50,416.0 772.23,417.0 772.00,418.0 771.80,419.0 771.63,420.0 771.49,421.0 771.38,422.0 771.29,423.0 771.22,424.0 771.16,425.0 771.12,426.0 771.08,427.0 771.06,428.0 771.00,429.0 771.00,429.0 770.94,428.0 770.92,427.0 770.88,426.0 770.84,425.0 770.78,424.0 770.71,423.0 770.62,422.0 770.51,421.0 770.37,420.0 770.20,419.0 770.00,418.0 769.77,417.0 769.50,416.0 769.20,415.0 768.87,414.0 768.51,413.0 768.13,412.0 767.74,411.0 767.34,410.0 766.94,409.0 766.56,408.0 766.20,407.0 765.88,406.0 765.60,405.0 765.37,404.0 765.20,403.0 765.09,402.0 765.04,401.0 765.04,400.0 765.10,399.0 765.19,398.0 765.32,397.0 765.47,396.0 765.62,395.0 765.78,394.0 765.93,393.0 766.06,392.0 766.16,391.0 766.25,390.0 766.30,389.0 766.32,388.0 766.33,387.0 766.31,386.0 766.28,385.0 766.23,384.0 766.18,383.0 766.11,382.0 766.05,381.0 765.97,380.0 765.90,379.0 765.81,378.0 765.72,377.0 765.62,376.0 765.53,375.0 765.43,374.0 765.35,373.0 765.29,372.0 765.27,371.0 765.30,370.0 765.38,369.0 765.53,368.0 765.75,367.0 766.04,366.0 766.39,365.0 766.79,364.0 767.22,363.0 767.68,362.0 768.13,361.0 768.58,360.0 768.99,359.0 769.37,358.0 769.71,357.0 770.00,356.0 770.23,355.0 770.43,354.0 770.58,353.0 770.70,352.0 770.79,351.0 770.86,350.0 770.90,349.0 770.93,348.0 771.00,347.0ZM766.31 386H775.69"/>
<path class="v" stroke="#00BA38" stroke-width="1.45" d="M795 364V365.0M795 423.0V425.6"/>
<path class="v" stroke="#00BA38" stroke-width="1.45" d="M795.00,365.0 795.08,366.0 795.13,367.0 795.21,368.0 795.34,369.0 795.51,370.0 795.76,371.0 796.09,372.0 796.51,373.0 797.04,374.0 797.66,375.0 798.35,376.0 799.10,377.0 799.86,378.0 800.58,379.0 801.22,380.0 801.71,381.0 802.03,382.0 802.15,383.0 802.08,384.0 801.84,385.0 801.47,386.0 801.03,387.0 800.58,388.0 800.18,389.0 799.89,390.0 799.75,391.0 799.77,392.0 799.95,393.0 800.27,394.0 800.70,395.0 801.19,396.0 801.69,397.0 802.15,398.0 802.53,399.0 802.81,400.0 802.97,401.0 803.01,402.0 802.94,403.0 802.77,404.0 802.52,405.0 802.19,406.0 801.78,407.0 801.29,408.0 800.73,409.0 800.09,410.0 799.39,411.0 798.67,412.0 797.96,413.0 797.29,414.0 796.71,415.0 796.22,416.0 795.83,417.0 795.55,418.0 795.34,419.0 795.21,420.0 795.12,421.0 795.07,422.0 795.00,423.0 795.00,423.0 794.93,422.0 794.88,421.0 794.79,420.0 794.66,419.0 794.45,418.0 794.17,417.0 793.78,416.0 793.29,415.0 792.71,414.0 792.04,413.0 791.33,412.0 790.61,411.0 789.91,410.0 789.27,409.0 788.71,408.0 788.22,407.0 787.81,406.0 787.48,405.0 787.23,404.0 787.06,403.0 786.99,402.0 787.03,401.0 787.19,400.0 787.47,399.0 787.85,398.0 788.31,397.0 788.81,396.0 789.30,395.0 789.73,394.0 790.05,393.0 790.23,392.0 790.25,391.0 790.11,390.0 789.82,389.0 789.42,388.0 788.97,387.0 788.53,386.0 788.16,385.0 787.92,384.0 787.85,383.0 787.97,382.0 788.29,381.0 788.78,380.0 789.42,379.0 790.14,378.0 790.90,377.0 791.65,376.0 792.34,375.0 792.96,374.0 793.49,373.0 793.91,372.0 794.24,371.0 794.49,370.0 794.66,369.0 794.79,368.0 794.87,367.0 794.92,366.0 795.00,365.0ZM789.44 394.7H800.56"/>
<path class="v" stroke="#00BFC4" stroke-width="1.45" d="M819.00,360.0 819.06,361.0 819.08,362.0 819.12,363.0 819.17,364.0 819.24,365.0 819.33,366.0 819.44,367.0 819.59,368.0 819.77,369.0 819.98,370.0 820.25,371.0 820.55,372.0 820.91,373.0 821.30,374.0 821.73,375.0 822.20,376.0 822.68,377.0 823.17,378.0 823.66,379.0 824.12,380.0 824.54,381.0 824.92,382.0 825.22,383.0 825.46,384.0 825.61,385.0 825.69,386.0 825.69,387.0 825.63,388.0 825.51,389.0 825.36,390.0 825.19,391.0 825.02,392.0 824.86,393.0 824.73,394.0 824.64,395.0 824.60,396.0 824.60,397.0 824.64,398.0 824.72,399.0 824.83,400.0 824.95,401.0 825.06,402.0 825.17,403.0 825.24,404.0 825.27,405.0 825.24,406.0 825.16,407.0 825.02,408.0 824.82,409.0 824.57,410.0 824.26,411.0 823.91,412.0 823.53,413.0 823.13,414.0 822.72,415.0 822.30,416.0 821.90,417.0 821.51,418.0 821.15,419.0 820.82,420.0 820.52,421.0 820.25,422.0 820.02,423.0 819.82,424.0 819.65,425.0 819.51,426.0 819.39,427.0 819.30,428.0 819.23,429.0 819.17,430.0 819.12,431.0 819.09,432.0 819.06,433.0 819.00,433.6 819.00,433.6 818.94,433.0 818.91,432.0 818.88,431.0 818.83,430.0 818.77,429.0 818.70,428.0 818.61,427.0 818.49,426.0 818.35,425.0 818.18,424.0 817.98,423.0 817.75,422.0 817.48,421.0 817.18,420.0 816.85,419.0 816.49,418.0 816.10,417.0 815.70,416.0 815.28,415.0 814.87,414.0 814.47,413.0 814.09,412.0 813.74,411.0 813.43,410.0 813.18,409.0 812.98,408.0 812.84,407.0 812.76,406.0 812.73,405.0 812.76,404.0 812.83,403.0 812.94,402.0 813.05,401.0 813.17,400.0 813.28,399.0 813.36,398.0 813.40,397.0 813.40,396.0 813.36,395.0 813.27,394.0 813.14,393.0 812.98,392.0 812.81,391.0 812.64,390.0 812.49,389.0 812.37,388.0 812.31,387.0 812.31,386.0 812.39,385.0 812.54,384.0 812.78,383.0 813.08,382.0 813.46,381.0 813.88,380.0 814.34,379.0 814.83,378.0 815.32,377.0 815.80,376.0 816.27,375.0 816.70,374.0 817.09,373.0 817.45,372.0 817.75,371.0 818.02,370.0 818.23,369.0 818.41,368.0 818.56,367.0 818.67,366.0 818.76,365.0 818.83,364.0 818.88,363.0 818.92,362.0 818.94,361.0 819.00,360.0ZM813.41 396.4H824.59"/>
<path class="v" stroke="#619CFF" stroke-width="1.45" d="M843 370V371.0"/>
<path class="v" stroke="#619CFF" stroke-width="1.45" d="M843.00,371.0 843.05,372.0 843.11,373.0 843.20,374.0 843.35,375.0 843.59,376.0 843.95,377.0 844.46,378.0 845.16,379.0 846.04,380.0 847.10,381.0 848.29,382.0 849.54,383.0 850.75,384.0 851.83,385.0 852.69,386.0 853.28,387.0 853.58,388.0 853.62,389.0 853.45,390.0 853.15,391.0 852.77,392.0 852.38,393.0 851.99,394.0 851.60,395.0 851.19,396.0 850.73,397.0 850.22,398.0 849.64,399.0 848.99,400.0 848.30,401.0 847.61,402.0 846.94,403.0 846.33,404.0 845.82,405.0 845.42,406.0 845.17,407.0 845.05,408.0 845.05,409.0 845.15,410.0 845.28,411.0 845.41,412.0 845.50,413.0 845.50,414.0 845.40,415.0 845.20,416.0 844.92,417.0 844.59,418.0 844.26,419.0 843.95,420.0 843.68,421.0 843.46,422.0 843.30,423.0 843.18,424.0 843.11,425.0 843.06,426.0 843.00,427.0 843.00,427.0 842.94,426.0 842.89,425.0 842.82,424.0 842.70,423.0 842.54,422.0 842.32,421.0 842.05,420.0 841.74,419.0 841.41,418.0 841.08,417.0 840.80,416.0 840.60,415.0 840.50,414.0 840.50,413.0 840.59,412.0 840.72,411.0 840.85,410.0 840.95,409.0 840.95,408.0 840.83,407.0 840.58,406.0 840.18,405.0 839.67,404.0 839.06,403.0 838.39,402.0 837.70,401.0 837.01,400.0 836.36,399.0 835.78,398.0 835.27,397.0 834.81,396.0 834.40,395.0 834.01,394.0 833.62,393.0 833.23,392.0 832.85,391.0 832.55,390.0 832.38,389.0 832.42,388.0 832.72,387.0 833.31,386.0 834.17,385.0 835.25,384.0 836.46,383.0 837.71,382.0 838.90,381.0 839.96,380.0 840.84,379.0 841.54,378.0 842.05,377.0 842.41,376.0 842.65,375.0 842.80,374.0 842.89,373.0 842.95,372.0 843.00,371.0ZM833.62 393H852.38"/>
<path class="v" stroke="#F564E3" stroke-width="1.45" d="M867.2 427.4V428.6"/>
<path class="v" stroke="#F564E3" stroke-width="1.45" d="M867.20,357.4 867.25,358.4 867.27,359.4 867.30,360.4 867.33,361.4 867.38,362.4 867.44,363.4 867.51,364.4 867.60,365.4 867.71,366.4 867.84,367.4 868.00,368.4 868.19,369.4 868.41,370.4 868.66,371.4 868.95,372.4 869.27,373.4 869.62,374.4 870.01,375.4 870.42,376.4 870.85,377.4 871.30,378.4 871.76,379.4 872.21,380.4 872.65,381.4 873.07,382.4 873.45,383.4 873.80,384.4 874.09,385.4 874.32,386.4 874.49,387.4 874.60,388.4 874.64,389.4 874.64,390.4 874.58,391.4 874.49,392.4 874.38,393.4 874.25,394.4 874.14,395.4 874.03,396.4 873.95,397.4 873.90,398.4 873.88,399.4 873.87,400.4 873.88,401.4 873.88,402.4 873.86,403.4 873.80,404.4 873.68,405.4 873.50,406.4 873.24,407.4 872.91,408.4 872.51,409.4 872.05,410.4 871.55,411.4 871.03,412.4 870.51,413.4 870.00,414.4 869.52,415.4 869.08,416.4 868.70,417.4 868.36,418.4 868.09,419.4 867.86,420.4 867.68,421.4 867.54,422.4 867.44,423.4 867.36,424.4 867.31,425.4 867.27,426.4 867.20,427.4 867.20,427.4 867.13,426.4 867.09,425.4 867.04,424.4 866.96,423.4 866.86,422.4 866.72,421.4 866.54,420.4 866.31,419.4 866.04,418.4 865.70,417.4 865.32,416.4 864.88,415.4 864.40,414.4 863.89,413.4 863.37,412.4 862.85,411.4 862.35,410.4 861.89,409.4 861.49,408.4 861.16,407.4 860.90,406.4 860.72,405.4 860.60,404.4 860.54,403.4 860.52,402.4 860.52,401.4 860.53,400.4 860.52,399.4 860.50,398.4 860.45,397.4 860.37,396.4 860.26,395.4 860.15,394.4 860.02,393.4 859.91,392.4 859.82,391.4 859.76,390.4 859.76,389.4 859.80,388.4 859.91,387.4 860.08,386.4 860.31,385.4 860.60,384.4 860.95,383.4 861.33,382.4 861.75,381.4 862.19,380.4 862.64,379.4 863.10,378.4 863.55,377.4 863.98,376.4 864.39,375.4 864.78,374.4 865.13,373.4 865.45,372.4 865.74,371.4 865.99,370.4 866.21,369.4 866.40,368.4 866.56,367.4 866.69,366.4 866.80,365.4 866.89,364.4 866.96,363.4 867.02,362.4 867.07,361.4 867.10,360.4 867.13,359.4 867.15,358.4 867.20,357.4ZM860.15 394.4H874.25"/>
<path class="v" stroke="#F8766D" stroke-width="1.3" d="M969.20,424.6 969.67,425.0 970.17,425.4 970.98,425.8 972.08,426.2 973.33,426.6 974.52,427.0 975.47,427.4 976.18,427.8 976.82,428.2 977.61,428.6 978.63,429.0 979.67,429.4 980.37,429.8 980.36,430.2 979.49,430.6 977.88,431.0 975.88,431.4 973.88,431.8 972.18,432.2 970.93,432.6 970.11,433.0 969.64,433.4 969.39,433.8 969.20,434.0 969.20,434.0 969.01,433.8 968.76,433.4 968.29,433.0 967.47,432.6 966.22,432.2 964.52,431.8 962.52,431.4 960.52,431.0 958.91,430.6 958.04,430.2 958.03,429.8 958.73,429.4 959.77,429.0 960.79,428.6 961.58,428.2 962.22,427.8 962.93,427.4 963.88,427.0 965.07,426.6 966.32,426.2 967.42,425.8 968.23,425.4 968.73,425.0 969.20,424.6ZM958.31 429.6H980.09"/>
<path class="v" stroke="#B79F00" stroke-width="1.45" d="M993 390.6V392.6M993 428.6V432.6"/>
<path class="v" stroke="#B79F00" stroke-width="1.35" d="M993.00,392.6 993.05,393.6 993.09,394.6 993.15,395.6 993.24,396.6 993.36,397.6 993.51,398.6 993.71,399.6 993.94,400.6 994.18,401.6 994.42,402.6 994.65,403.6 994.85,404.6 995.01,405.6 995.13,406.6 995.21,407.6 995.27,408.6 995.31,409.6 995.33,410.6 995.34,411.6 995.33,412.6 995.29,413.6 995.21,414.6 995.08,415.6 994.91,416.6 994.70,417.6 994.46,418.6 994.21,419.6 993.97,420.6 993.75,421.6 993.56,422.6 993.40,423.6 993.27,424.6 993.18,425.6 993.12,426.6 993.07,427.6 993.00,428.6 993.00,428.6 992.93,427.6 992.88,426.6 992.82,425.6 992.73,424.6 992.60,423.6 992.44,422.6 992.25,421.6 992.03,420.6 991.79,419.6 991.54,418.6 991.30,417.6 991.09,416.6 990.92,415.6 990.79,414.6 990.71,413.6 990.67,412.6 990.66,411.6 990.67,410.6 990.69,409.6 990.73,408.6 990.79,407.6 990.87,406.6 990.99,405.6 991.15,404.6 991.35,403.6 991.58,402.6 991.82,401.6 992.06,400.6 992.29,399.6 992.49,398.6 992.64,397.6 992.76,396.6 992.85,395.6 992.91,394.6 992.95,393.6 993.00,392.6ZM990.66 411.6H995.34"/>
<path class="v" stroke="#00BA38" stroke-width="1.45" d="M1017.2 363V369.0M1017.2 418.0V427"/>
<path class="v" stroke="#00BA38" stroke-width="1.35" d="M1017.20,369.0 1017.26,370.0 1017.29,371.0 1017.32,372.0 1017.37,373.0 1017.43,374.0 1017.51,375.0 1017.60,376.0 1017.71,377.0 1017.83,378.0 1017.97,379.0 1018.10,380.0 1018.24,381.0 1018.37,382.0 1018.48,383.0 1018.57,384.0 1018.64,385.0 1018.68,386.0 1018.69,387.0 1018.67,388.0 1018.64,389.0 1018.59,390.0 1018.54,391.0 1018.49,392.0 1018.46,393.0 1018.44,394.0 1018.45,395.0 1018.47,396.0 1018.51,397.0 1018.55,398.0 1018.60,399.0 1018.63,400.0 1018.64,401.0 1018.63,402.0 1018.59,403.0 1018.52,404.0 1018.42,405.0 1018.30,406.0 1018.17,407.0 1018.03,408.0 1017.89,409.0 1017.76,410.0 1017.64,411.0 1017.54,412.0 1017.45,413.0 1017.38,414.0 1017.33,415.0 1017.29,416.0 1017.26,417.0 1017.20,418.0 1017.20,418.0 1017.14,417.0 1017.11,416.0 1017.07,415.0 1017.02,414.0 1016.95,413.0 1016.86,412.0 1016.76,411.0 1016.64,410.0 1016.51,409.0 1016.37,408.0 1016.23,407.0 1016.10,406.0 1015.98,405.0 1015.88,404.0 1015.81,403.0 1015.77,402.0 1015.76,401.0 1015.77,400.0 1015.80,399.0 1015.85,398.0 1015.89,397.0 1015.93,396.0 1015.95,395.0 1015.96,394.0 1015.94,393.0 1015.91,392.0 1015.86,391.0 1015.81,390.0 1015.76,389.0 1015.73,388.0 1015.71,387.0 1015.72,386.0 1015.76,385.0 1015.83,384.0 1015.92,383.0 1016.03,382.0 1016.16,381.0 1016.30,380.0 1016.43,379.0 1016.57,378.0 1016.69,377.0 1016.80,376.0 1016.89,375.0 1016.97,374.0 1017.03,373.0 1017.08,372.0 1017.11,371.0 1017.14,370.0 1017.20,369.0ZM1015.95 395H1018.45"/>
<path class="v" stroke="#00BFC4" stroke-width="1.45" d="M1041.2 309.4V332.4M1041.2 403.4V429"/>
<path class="v" stroke="#00BFC4" stroke-width="1.35" d="M1041.20,332.4 1041.26,333.4 1041.27,334.4 1041.28,335.4 1041.29,336.4 1041.30,337.4 1041.31,338.4 1041.33,339.4 1041.35,340.4 1041.37,341.4 1041.39,342.4 1041.41,343.4 1041.43,344.4 1041.46,345.4 1041.48,346.4 1041.51,347.4 1041.54,348.4 1041.57,349.4 1041.60,350.4 1041.63,351.4 1041.67,352.4 1041.70,353.4 1041.73,354.4 1041.76,355.4 1041.79,356.4 1041.82,357.4 1041.85,358.4 1041.88,359.4 1041.90,360.4 1041.93,361.4 1041.95,362.4 1041.96,363.4 1041.98,364.4 1041.99,365.4 1042.00,366.4 1042.00,367.4 1042.00,368.4 1042.00,369.4 1041.99,370.4 1041.98,371.4 1041.97,372.4 1041.95,373.4 1041.93,374.4 1041.91,375.4 1041.88,376.4 1041.86,377.4 1041.83,378.4 1041.80,379.4 1041.77,380.4 1041.74,381.4 1041.70,382.4 1041.67,383.4 1041.64,384.4 1041.61,385.4 1041.58,386.4 1041.55,387.4 1041.52,388.4 1041.49,389.4 1041.46,390.4 1041.44,391.4 1041.41,392.4 1041.39,393.4 1041.37,394.4 1041.35,395.4 1041.33,396.4 1041.32,397.4 1041.30,398.4 1041.29,399.4 1041.28,400.4 1041.27,401.4 1041.26,402.4 1041.20,403.4 1041.20,403.4 1041.14,402.4 1041.13,401.4 1041.12,400.4 1041.11,399.4 1041.10,398.4 1041.08,397.4 1041.07,396.4 1041.05,395.4 1041.03,394.4 1041.01,393.4 1040.99,392.4 1040.96,391.4 1040.94,390.4 1040.91,389.4 1040.88,388.4 1040.85,387.4 1040.82,386.4 1040.79,385.4 1040.76,384.4 1040.73,383.4 1040.70,382.4 1040.66,381.4 1040.63,380.4 1040.60,379.4 1040.57,378.4 1040.54,377.4 1040.52,376.4 1040.49,375.4 1040.47,374.4 1040.45,373.4 1040.43,372.4 1040.42,371.4 1040.41,370.4 1040.40,369.4 1040.40,368.4 1040.40,367.4 1040.40,366.4 1040.41,365.4 1040.42,364.4 1040.44,363.4 1040.45,362.4 1040.47,361.4 1040.50,360.4 1040.52,359.4 1040.55,358.4 1040.58,357.4 1040.61,356.4 1040.64,355.4 1040.67,354.4 1040.70,353.4 1040.73,352.4 1040.77,351.4 1040.80,350.4 1040.83,349.4 1040.86,348.4 1040.89,347.4 1040.92,346.4 1040.94,345.4 1040.97,344.4 1040.99,343.4 1041.01,342.4 1041.03,341.4 1041.05,340.4 1041.07,339.4 1041.09,338.4 1041.10,337.4 1041.11,336.4 1041.12,335.4 1041.13,334.4 1041.14,333.4 1041.20,332.4ZM1040.40 369.6H1042.00"/>
<path class="v" stroke="#619CFF" stroke-width="1.45" d="M1065.2 203.4V424.4"/>
<path class="v" stroke="#F564E3" stroke-width="1.45" d="M1089.4 74.4V419"/>
<path class="v" stroke="#F8766D" stroke-width="1.3" d="M1177 141.4V142.4M1177 414.4V434"/>
<path class="v" stroke="#F8766D" stroke-width="1.3" d="M1177.00,142.4 1177.05,143.4 1177.06,144.4 1177.07,145.4 1177.08,146.4 1177.10,147.4 1177.11,148.4 1177.13,149.4 1177.15,150.4 1177.17,151.4 1177.20,152.4 1177.23,153.4 1177.26,154.4 1177.29,155.4 1177.33,156.4 1177.38,157.4 1177.43,158.4 1177.48,159.4 1177.54,160.4 1177.61,161.4 1177.68,162.4 1177.76,163.4 1177.84,164.4 1177.93,165.4 1178.03,166.4 1178.14,167.4 1178.26,168.4 1178.38,169.4 1178.51,170.4 1178.65,171.4 1178.80,172.4 1178.95,173.4 1179.12,174.4 1179.29,175.4 1179.47,176.4 1179.66,177.4 1179.85,178.4 1180.05,179.4 1180.25,180.4 1180.46,181.4 1180.68,182.4 1180.90,183.4 1181.12,184.4 1181.34,185.4 1181.57,186.4 1181.80,187.4 1182.02,188.4 1182.25,189.4 1182.47,190.4 1182.69,191.4 1182.91,192.4 1183.12,193.4 1183.33,194.4 1183.53,195.4 1183.73,196.4 1183.92,197.4 1184.10,198.4 1184.28,199.4 1184.45,200.4 1184.61,201.4 1184.76,202.4 1184.91,203.4 1185.05,204.4 1185.18,205.4 1185.31,206.4 1185.43,207.4 1185.54,208.4 1185.65,209.4 1185.75,210.4 1185.85,211.4 1185.94,212.4 1186.03,213.4 1186.11,214.4 1186.19,215.4 1186.27,216.4 1186.34,217.4 1186.42,218.4 1186.49,219.4 1186.56,220.4 1186.62,221.4 1186.68,222.4 1186.75,223.4 1186.80,224.4 1186.86,225.4 1186.91,226.4 1186.96,227.4 1187.01,228.4 1187.05,229.4 1187.09,230.4 1187.13,231.4 1187.16,232.4 1187.18,233.4 1187.20,234.4 1187.22,235.4 1187.22,236.4 1187.22,237.4 1187.22,238.4 1187.20,239.4 1187.18,240.4 1187.16,241.4 1187.12,242.4 1187.08,243.4 1187.03,244.4 1186.98,245.4 1186.91,246.4 1186.85,247.4 1186.77,248.4 1186.69,249.4 1186.61,250.4 1186.52,251.4 1186.43,252.4 1186.34,253.4 1186.25,254.4 1186.15,255.4 1186.06,256.4 1185.97,257.4 1185.88,258.4 1185.79,259.4 1185.71,260.4 1185.64,261.4 1185.57,262.4 1185.50,263.4 1185.45,264.4 1185.40,265.4 1185.37,266.4 1185.34,267.4 1185.33,268.4 1185.32,269.4 1185.33,270.4 1185.35,271.4 1185.38,272.4 1185.42,273.4 1185.47,274.4 1185.53,275.4 1185.60,276.4 1185.68,277.4 1185.77,278.4 1185.86,279.4 1185.96,280.4 1186.07,281.4 1186.18,282.4 1186.30,283.4 1186.42,284.4 1186.54,285.4 1186.66,286.4 1186.79,287.4 1186.91,288.4 1187.03,289.4 1187.15,290.4 1187.27,291.4 1187.38,292.4 1187.49,293.4 1187.60,294.4 1187.71,295.4 1187.81,296.4 1187.91,297.4 1188.01,298.4 1188.10,299.4 1188.19,300.4 1188.27,301.4 1188.36,302.4 1188.44,303.4 1188.51,304.4 1188.59,305.4 1188.66,306.4 1188.73,307.4 1188.79,308.4 1188.85,309.4 1188.91,310.4 1188.96,311.4 1189.01,312.4 1189.06,313.4 1189.09,314.4 1189.12,315.4 1189.15,316.4 1189.16,317.4 1189.17,318.4 1189.17,319.4 1189.16,320.4 1189.15,321.4 1189.12,322.4 1189.08,323.4 1189.03,324.4 1188.97,325.4 1188.89,326.4 1188.81,327.4 1188.71,328.4 1188.60,329.4 1188.48,330.4 1188.35,331.4 1188.21,332.4 1188.05,333.4 1187.89,334.4 1187.71,335.4 1187.53,336.4 1187.33,337.4 1187.12,338.4 1186.91,339.4 1186.69,340.4 1186.46,341.4 1186.22,342.4 1185.98,343.4 1185.73,344.4 1185.48,345.4 1185.23,346.4 1184.97,347.4 1184.71,348.4 1184.45,349.4 1184.19,350.4 1183.93,351.4 1183.67,352.4 1183.41,353.4 1183.15,354.4 1182.89,355.4 1182.64,356.4 1182.39,357.4 1182.15,358.4 1181.91,359.4 1181.67,360.4 1181.44,361.4 1181.22,362.4 1181.00,363.4 1180.79,364.4 1180.58,365.4 1180.38,366.4 1180.19,367.4 1180.00,368.4 1179.83,369.4 1179.66,370.4 1179.49,371.4 1179.33,372.4 1179.18,373.4 1179.04,374.4 1178.90,375.4 1178.77,376.4 1178.65,377.4 1178.53,378.4 1178.42,379.4 1178.32,380.4 1178.22,381.4 1178.13,382.4 1178.04,383.4 1177.96,384.4 1177.88,385.4 1177.81,386.4 1177.75,387.4 1177.68,388.4 1177.63,389.4 1177.57,390.4 1177.52,391.4 1177.48,392.4 1177.44,393.4 1177.40,394.4 1177.36,395.4 1177.33,396.4 1177.30,397.4 1177.27,398.4 1177.24,399.4 1177.22,400.4 1177.20,401.4 1177.18,402.4 1177.16,403.4 1177.14,404.4 1177.13,405.4 1177.11,406.4 1177.10,407.4 1177.09,408.4 1177.08,409.4 1177.07,410.4 1177.06,411.4 1177.06,412.4 1177.05,413.4 1177.00,414.4 1177.00,414.4 1176.95,413.4 1176.94,412.4 1176.94,411.4 1176.93,410.4 1176.92,409.4 1176.91,408.4 1176.90,407.4 1176.89,406.4 1176.87,405.4 1176.86,404.4 1176.84,403.4 1176.82,402.4 1176.80,401.4 1176.78,400.4 1176.76,399.4 1176.73,398.4 1176.70,397.4 1176.67,396.4 1176.64,395.4 1176.60,394.4 1176.56,393.4 1176.52,392.4 1176.48,391.4 1176.43,390.4 1176.37,389.4 1176.32,388.4 1176.25,387.4 1176.19,386.4 1176.12,385.4 1176.04,384.4 1175.96,383.4 1175.87,382.4 1175.78,381.4 1175.68,380.4 1175.58,379.4 1175.47,378.4 1175.35,377.4 1175.23,376.4 1175.10,375.4 1174.96,374.4 1174.82,373.4 1174.67,372.4 1174.51,371.4 1174.34,370.4 1174.17,369.4 1174.00,368.4 1173.81,367.4 1173.62,366.4 1173.42,365.4 1173.21,364.4 1173.00,363.4 1172.78,362.4 1172.56,361.4 1172.33,360.4 1172.09,359.4 1171.85,358.4 1171.61,357.4 1171.36,356.4 1171.11,355.4 1170.85,354.4 1170.59,353.4 1170.33,352.4 1170.07,351.4 1169.81,350.4 1169.55,349.4 1169.29,348.4 1169.03,347.4 1168.77,346.4 1168.52,345.4 1168.27,344.4 1168.02,343.4 1167.78,342.4 1167.54,341.4 1167.31,340.4 1167.09,339.4 1166.88,338.4 1166.67,337.4 1166.47,336.4 1166.29,335.4 1166.11,334.4 1165.95,333.4 1165.79,332.4 1165.65,331.4 1165.52,330.4 1165.40,329.4 1165.29,328.4 1165.19,327.4 1165.11,326.4 1165.03,325.4 1164.97,324.4 1164.92,323.4 1164.88,322.4 1164.85,321.4 1164.84,320.4 1164.83,319.4 1164.83,318.4 1164.84,317.4 1164.85,316.4 1164.88,315.4 1164.91,314.4 1164.94,313.4 1164.99,312.4 1165.04,311.4 1165.09,310.4 1165.15,309.4 1165.21,308.4 1165.27,307.4 1165.34,306.4 1165.41,305.4 1165.49,304.4 1165.56,303.4 1165.64,302.4 1165.73,301.4 1165.81,300.4 1165.90,299.4 1165.99,298.4 1166.09,297.4 1166.19,296.4 1166.29,295.4 1166.40,294.4 1166.51,293.4 1166.62,292.4 1166.73,291.4 1166.85,290.4 1166.97,289.4 1167.09,288.4 1167.21,287.4 1167.34,286.4 1167.46,285.4 1167.58,284.4 1167.70,283.4 1167.82,282.4 1167.93,281.4 1168.04,280.4 1168.14,279.4 1168.23,278.4 1168.32,277.4 1168.40,276.4 1168.47,275.4 1168.53,274.4 1168.58,273.4 1168.62,272.4 1168.65,271.4 1168.67,270.4 1168.68,269.4 1168.67,268.4 1168.66,267.4 1168.63,266.4 1168.60,265.4 1168.55,264.4 1168.50,263.4 1168.43,262.4 1168.36,261.4 1168.29,260.4 1168.21,259.4 1168.12,258.4 1168.03,257.4 1167.94,256.4 1167.85,255.4 1167.75,254.4 1167.66,253.4 1167.57,252.4 1167.48,251.4 1167.39,250.4 1167.31,249.4 1167.23,248.4 1167.15,247.4 1167.09,246.4 1167.02,245.4 1166.97,244.4 1166.92,243.4 1166.88,242.4 1166.84,241.4 1166.82,240.4 1166.80,239.4 1166.78,238.4 1166.78,237.4 1166.78,236.4 1166.78,235.4 1166.80,234.4 1166.82,233.4 1166.84,232.4 1166.87,231.4 1166.91,230.4 1166.95,229.4 1166.99,228.4 1167.04,227.4 1167.09,226.4 1167.14,225.4 1167.20,224.4 1167.25,223.4 1167.32,222.4 1167.38,221.4 1167.44,220.4 1167.51,219.4 1167.58,218.4 1167.66,217.4 1167.73,216.4 1167.81,215.4 1167.89,214.4 1167.97,213.4 1168.06,212.4 1168.15,211.4 1168.25,210.4 1168.35,209.4 1168.46,208.4 1168.57,207.4 1168.69,206.4 1168.82,205.4 1168.95,204.4 1169.09,203.4 1169.24,202.4 1169.39,201.4 1169.55,200.4 1169.72,199.4 1169.90,198.4 1170.08,197.4 1170.27,196.4 1170.47,195.4 1170.67,194.4 1170.88,193.4 1171.09,192.4 1171.31,191.4 1171.53,190.4 1171.75,189.4 1171.98,188.4 1172.20,187.4 1172.43,186.4 1172.66,185.4 1172.88,184.4 1173.10,183.4 1173.32,182.4 1173.54,181.4 1173.75,180.4 1173.95,179.4 1174.15,178.4 1174.34,177.4 1174.53,176.4 1174.71,175.4 1174.88,174.4 1175.05,173.4 1175.20,172.4 1175.35,171.4 1175.49,170.4 1175.62,169.4 1175.74,168.4 1175.86,167.4 1175.97,166.4 1176.07,165.4 1176.16,164.4 1176.24,163.4 1176.32,162.4 1176.39,161.4 1176.46,160.4 1176.52,159.4 1176.57,158.4 1176.62,157.4 1176.67,156.4 1176.71,155.4 1176.74,154.4 1176.77,153.4 1176.80,152.4 1176.83,151.4 1176.85,150.4 1176.87,149.4 1176.89,148.4 1176.90,147.4 1176.92,146.4 1176.93,145.4 1176.94,144.4 1176.95,143.4 1177.00,142.4ZM1167.63 284H1186.37"/>
<path class="v" stroke="#B79F00" stroke-width="1.45" d="M1203.6 85.4V91.4M1203.6 397.4V424.6"/>
<path class="v" stroke="#B79F00" stroke-width="1.45" d="M1203.60,91.4 1203.65,92.4 1203.66,93.4 1203.67,94.4 1203.68,95.4 1203.69,96.4 1203.70,97.4 1203.71,98.4 1203.72,99.4 1203.74,100.4 1203.75,101.4 1203.77,102.4 1203.79,103.4 1203.81,104.4 1203.83,105.4 1203.86,106.4 1203.88,107.4 1203.91,108.4 1203.94,109.4 1203.98,110.4 1204.01,111.4 1204.05,112.4 1204.10,113.4 1204.14,114.4 1204.19,115.4 1204.25,116.4 1204.30,117.4 1204.36,118.4 1204.43,119.4 1204.50,120.4 1204.57,121.4 1204.65,122.4 1204.73,123.4 1204.81,124.4 1204.91,125.4 1205.00,126.4 1205.10,127.4 1205.21,128.4 1205.32,129.4 1205.43,130.4 1205.55,131.4 1205.68,132.4 1205.81,133.4 1205.94,134.4 1206.08,135.4 1206.22,136.4 1206.37,137.4 1206.52,138.4 1206.68,139.4 1206.84,140.4 1207.00,141.4 1207.17,142.4 1207.34,143.4 1207.51,144.4 1207.68,145.4 1207.86,146.4 1208.04,147.4 1208.22,148.4 1208.40,149.4 1208.58,150.4 1208.76,151.4 1208.94,152.4 1209.12,153.4 1209.30,154.4 1209.48,155.4 1209.66,156.4 1209.83,157.4 1210.00,158.4 1210.17,159.4 1210.33,160.4 1210.50,161.4 1210.65,162.4 1210.80,163.4 1210.95,164.4 1211.10,165.4 1211.23,166.4 1211.37,167.4 1211.49,168.4 1211.61,169.4 1211.73,170.4 1211.84,171.4 1211.94,172.4 1212.04,173.4 1212.13,174.4 1212.21,175.4 1212.29,176.4 1212.36,177.4 1212.42,178.4 1212.48,179.4 1212.53,180.4 1212.58,181.4 1212.62,182.4 1212.66,183.4 1212.68,184.4 1212.71,185.4 1212.73,186.4 1212.74,187.4 1212.75,188.4 1212.75,189.4 1212.75,190.4 1212.75,191.4 1212.74,192.4 1212.72,193.4 1212.71,194.4 1212.68,195.4 1212.66,196.4 1212.63,197.4 1212.60,198.4 1212.57,199.4 1212.53,200.4 1212.50,201.4 1212.46,202.4 1212.42,203.4 1212.37,204.4 1212.33,205.4 1212.28,206.4 1212.23,207.4 1212.18,208.4 1212.13,209.4 1212.08,210.4 1212.03,211.4 1211.98,212.4 1211.93,213.4 1211.88,214.4 1211.83,215.4 1211.78,216.4 1211.73,217.4 1211.68,218.4 1211.64,219.4 1211.59,220.4 1211.55,221.4 1211.51,222.4 1211.47,223.4 1211.43,224.4 1211.40,225.4 1211.37,226.4 1211.34,227.4 1211.31,228.4 1211.29,229.4 1211.27,230.4 1211.26,231.4 1211.25,232.4 1211.24,233.4 1211.24,234.4 1211.24,235.4 1211.25,236.4 1211.26,237.4 1211.27,238.4 1211.29,239.4 1211.32,240.4 1211.35,241.4 1211.38,242.4 1211.42,243.4 1211.46,244.4 1211.51,245.4 1211.56,246.4 1211.61,247.4 1211.67,248.4 1211.74,249.4 1211.81,250.4 1211.88,251.4 1211.95,252.4 1212.03,253.4 1212.11,254.4 1212.19,255.4 1212.28,256.4 1212.36,257.4 1212.45,258.4 1212.54,259.4 1212.63,260.4 1212.72,261.4 1212.81,262.4 1212.90,263.4 1212.99,264.4 1213.08,265.4 1213.17,266.4 1213.25,267.4 1213.34,268.4 1213.42,269.4 1213.49,270.4 1213.57,271.4 1213.64,272.4 1213.70,273.4 1213.76,274.4 1213.81,275.4 1213.86,276.4 1213.91,277.4 1213.95,278.4 1213.98,279.4 1214.00,280.4 1214.02,281.4 1214.03,282.4 1214.04,283.4 1214.04,284.4 1214.03,285.4 1214.01,286.4 1213.98,287.4 1213.95,288.4 1213.91,289.4 1213.86,290.4 1213.81,291.4 1213.75,292.4 1213.68,293.4 1213.60,294.4 1213.51,295.4 1213.42,296.4 1213.32,297.4 1213.22,298.4 1213.11,299.4 1212.99,300.4 1212.87,301.4 1212.74,302.4 1212.60,303.4 1212.47,304.4 1212.32,305.4 1212.18,306.4 1212.03,307.4 1211.88,308.4 1211.72,309.4 1211.57,310.4 1211.41,311.4 1211.25,312.4 1211.09,313.4 1210.93,314.4 1210.78,315.4 1210.62,316.4 1210.46,317.4 1210.31,318.4 1210.16,319.4 1210.01,320.4 1209.87,321.4 1209.72,322.4 1209.59,323.4 1209.45,324.4 1209.32,325.4 1209.19,326.4 1209.07,327.4 1208.95,328.4 1208.84,329.4 1208.72,330.4 1208.61,331.4 1208.51,332.4 1208.40,333.4 1208.30,334.4 1208.20,335.4 1208.10,336.4 1208.00,337.4 1207.90,338.4 1207.80,339.4 1207.70,340.4 1207.60,341.4 1207.49,342.4 1207.39,343.4 1207.28,344.4 1207.17,345.4 1207.06,346.4 1206.95,347.4 1206.83,348.4 1206.71,349.4 1206.59,350.4 1206.47,351.4 1206.35,352.4 1206.23,353.4 1206.10,354.4 1205.98,355.4 1205.86,356.4 1205.73,357.4 1205.61,358.4 1205.49,359.4 1205.38,360.4 1205.26,361.4 1205.15,362.4 1205.04,363.4 1204.94,364.4 1204.84,365.4 1204.75,366.4 1204.66,367.4 1204.57,368.4 1204.49,369.4 1204.41,370.4 1204.34,371.4 1204.28,372.4 1204.22,373.4 1204.16,374.4 1204.11,375.4 1204.06,376.4 1204.01,377.4 1203.97,378.4 1203.94,379.4 1203.90,380.4 1203.87,381.4 1203.84,382.4 1203.82,383.4 1203.80,384.4 1203.78,385.4 1203.76,386.4 1203.74,387.4 1203.73,388.4 1203.71,389.4 1203.70,390.4 1203.69,391.4 1203.68,392.4 1203.67,393.4 1203.67,394.4 1203.66,395.4 1203.65,396.4 1203.60,397.4 1203.60,397.4 1203.55,396.4 1203.54,395.4 1203.53,394.4 1203.53,393.4 1203.52,392.4 1203.51,391.4 1203.50,390.4 1203.49,389.4 1203.47,388.4 1203.46,387.4 1203.44,386.4 1203.42,385.4 1203.40,384.4 1203.38,383.4 1203.36,382.4 1203.33,381.4 1203.30,380.4 1203.26,379.4 1203.23,378.4 1203.19,377.4 1203.14,376.4 1203.09,375.4 1203.04,374.4 1202.98,373.4 1202.92,372.4 1202.86,371.4 1202.79,370.4 1202.71,369.4 1202.63,368.4 1202.54,367.4 1202.45,366.4 1202.36,365.4 1202.26,364.4 1202.16,363.4 1202.05,362.4 1201.94,361.4 1201.82,360.4 1201.71,359.4 1201.59,358.4 1201.47,357.4 1201.34,356.4 1201.22,355.4 1201.10,354.4 1200.97,353.4 1200.85,352.4 1200.73,351.4 1200.61,350.4 1200.49,349.4 1200.37,348.4 1200.25,347.4 1200.14,346.4 1200.03,345.4 1199.92,344.4 1199.81,343.4 1199.71,342.4 1199.60,341.4 1199.50,340.4 1199.40,339.4 1199.30,338.4 1199.20,337.4 1199.10,336.4 1199.00,335.4 1198.90,334.4 1198.80,333.4 1198.69,332.4 1198.59,331.4 1198.48,330.4 1198.36,329.4 1198.25,328.4 1198.13,327.4 1198.01,326.4 1197.88,325.4 1197.75,324.4 1197.61,323.4 1197.48,322.4 1197.33,321.4 1197.19,320.4 1197.04,319.4 1196.89,318.4 1196.74,317.4 1196.58,316.4 1196.42,315.4 1196.27,314.4 1196.11,313.4 1195.95,312.4 1195.79,311.4 1195.63,310.4 1195.48,309.4 1195.32,308.4 1195.17,307.4 1195.02,306.4 1194.88,305.4 1194.73,304.4 1194.60,303.4 1194.46,302.4 1194.33,301.4 1194.21,300.4 1194.09,299.4 1193.98,298.4 1193.88,297.4 1193.78,296.4 1193.69,295.4 1193.60,294.4 1193.52,293.4 1193.45,292.4 1193.39,291.4 1193.34,290.4 1193.29,289.4 1193.25,288.4 1193.22,287.4 1193.19,286.4 1193.17,285.4 1193.16,284.4 1193.16,283.4 1193.17,282.4 1193.18,281.4 1193.20,280.4 1193.22,279.4 1193.25,278.4 1193.29,277.4 1193.34,276.4 1193.39,275.4 1193.44,274.4 1193.50,273.4 1193.56,272.4 1193.63,271.4 1193.71,270.4 1193.78,269.4 1193.86,268.4 1193.95,267.4 1194.03,266.4 1194.12,265.4 1194.21,264.4 1194.30,263.4 1194.39,262.4 1194.48,261.4 1194.57,260.4 1194.66,259.4 1194.75,258.4 1194.84,257.4 1194.92,256.4 1195.01,255.4 1195.09,254.4 1195.17,253.4 1195.25,252.4 1195.32,251.4 1195.39,250.4 1195.46,249.4 1195.53,248.4 1195.59,247.4 1195.64,246.4 1195.69,245.4 1195.74,244.4 1195.78,243.4 1195.82,242.4 1195.85,241.4 1195.88,240.4 1195.91,239.4 1195.93,238.4 1195.94,237.4 1195.95,236.4 1195.96,235.4 1195.96,234.4 1195.96,233.4 1195.95,232.4 1195.94,231.4 1195.93,230.4 1195.91,229.4 1195.89,228.4 1195.86,227.4 1195.83,226.4 1195.80,225.4 1195.77,224.4 1195.73,223.4 1195.69,222.4 1195.65,221.4 1195.61,220.4 1195.56,219.4 1195.52,218.4 1195.47,217.4 1195.42,216.4 1195.37,215.4 1195.32,214.4 1195.27,213.4 1195.22,212.4 1195.17,211.4 1195.12,210.4 1195.07,209.4 1195.02,208.4 1194.97,207.4 1194.92,206.4 1194.87,205.4 1194.83,204.4 1194.78,203.4 1194.74,202.4 1194.70,201.4 1194.67,200.4 1194.63,199.4 1194.60,198.4 1194.57,197.4 1194.54,196.4 1194.52,195.4 1194.49,194.4 1194.48,193.4 1194.46,192.4 1194.45,191.4 1194.45,190.4 1194.45,189.4 1194.45,188.4 1194.46,187.4 1194.47,186.4 1194.49,185.4 1194.52,184.4 1194.54,183.4 1194.58,182.4 1194.62,181.4 1194.67,180.4 1194.72,179.4 1194.78,178.4 1194.84,177.4 1194.91,176.4 1194.99,175.4 1195.07,174.4 1195.16,173.4 1195.26,172.4 1195.36,171.4 1195.47,170.4 1195.59,169.4 1195.71,168.4 1195.83,167.4 1195.97,166.4 1196.10,165.4 1196.25,164.4 1196.40,163.4 1196.55,162.4 1196.70,161.4 1196.87,160.4 1197.03,159.4 1197.20,158.4 1197.37,157.4 1197.54,156.4 1197.72,155.4 1197.90,154.4 1198.08,153.4 1198.26,152.4 1198.44,151.4 1198.62,150.4 1198.80,149.4 1198.98,148.4 1199.16,147.4 1199.34,146.4 1199.52,145.4 1199.69,144.4 1199.86,143.4 1200.03,142.4 1200.20,141.4 1200.36,140.4 1200.52,139.4 1200.68,138.4 1200.83,137.4 1200.98,136.4 1201.12,135.4 1201.26,134.4 1201.39,133.4 1201.52,132.4 1201.65,131.4 1201.77,130.4 1201.88,129.4 1201.99,128.4 1202.10,127.4 1202.20,126.4 1202.29,125.4 1202.39,124.4 1202.47,123.4 1202.55,122.4 1202.63,121.4 1202.70,120.4 1202.77,119.4 1202.84,118.4 1202.90,117.4 1202.95,116.4 1203.01,115.4 1203.06,114.4 1203.10,113.4 1203.15,112.4 1203.19,111.4 1203.22,110.4 1203.26,109.4 1203.29,108.4 1203.32,107.4 1203.34,106.4 1203.37,105.4 1203.39,104.4 1203.41,103.4 1203.43,102.4 1203.45,101.4 1203.46,100.4 1203.48,99.4 1203.49,98.4 1203.50,97.4 1203.51,96.4 1203.52,95.4 1203.53,94.4 1203.54,93.4 1203.55,92.4 1203.60,91.4ZM1195.51 248.6H1211.69"/>
<path class="v" stroke="#00BA38" stroke-width="1.45" d="M1230.2 102.6V112.6M1230.2 384.6V396.4"/>
<path class="v" stroke="#00BA38" stroke-width="1.45" d="M1230.20,112.6 1230.25,113.6 1230.26,114.6 1230.27,115.6 1230.28,116.6 1230.30,117.6 1230.31,118.6 1230.33,119.6 1230.34,120.6 1230.37,121.6 1230.39,122.6 1230.42,123.6 1230.45,124.6 1230.48,125.6 1230.51,126.6 1230.56,127.6 1230.60,128.6 1230.65,129.6 1230.71,130.6 1230.77,131.6 1230.83,132.6 1230.90,133.6 1230.98,134.6 1231.07,135.6 1231.16,136.6 1231.26,137.6 1231.37,138.6 1231.48,139.6 1231.61,140.6 1231.74,141.6 1231.88,142.6 1232.03,143.6 1232.19,144.6 1232.35,145.6 1232.53,146.6 1232.71,147.6 1232.90,148.6 1233.10,149.6 1233.31,150.6 1233.52,151.6 1233.74,152.6 1233.97,153.6 1234.20,154.6 1234.44,155.6 1234.68,156.6 1234.93,157.6 1235.17,158.6 1235.42,159.6 1235.68,160.6 1235.93,161.6 1236.18,162.6 1236.43,163.6 1236.68,164.6 1236.93,165.6 1237.17,166.6 1237.41,167.6 1237.64,168.6 1237.86,169.6 1238.08,170.6 1238.30,171.6 1238.50,172.6 1238.70,173.6 1238.89,174.6 1239.07,175.6 1239.24,176.6 1239.40,177.6 1239.55,178.6 1239.70,179.6 1239.83,180.6 1239.95,181.6 1240.07,182.6 1240.17,183.6 1240.27,184.6 1240.36,185.6 1240.43,186.6 1240.50,187.6 1240.56,188.6 1240.62,189.6 1240.66,190.6 1240.70,191.6 1240.73,192.6 1240.75,193.6 1240.77,194.6 1240.78,195.6 1240.78,196.6 1240.78,197.6 1240.76,198.6 1240.75,199.6 1240.72,200.6 1240.69,201.6 1240.66,202.6 1240.62,203.6 1240.57,204.6 1240.52,205.6 1240.46,206.6 1240.40,207.6 1240.33,208.6 1240.25,209.6 1240.18,210.6 1240.09,211.6 1240.01,212.6 1239.92,213.6 1239.82,214.6 1239.72,215.6 1239.62,216.6 1239.52,217.6 1239.42,218.6 1239.31,219.6 1239.20,220.6 1239.10,221.6 1238.99,222.6 1238.88,223.6 1238.78,224.6 1238.67,225.6 1238.57,226.6 1238.48,227.6 1238.38,228.6 1238.29,229.6 1238.21,230.6 1238.13,231.6 1238.05,232.6 1237.98,233.6 1237.92,234.6 1237.87,235.6 1237.82,236.6 1237.78,237.6 1237.75,238.6 1237.73,239.6 1237.72,240.6 1237.71,241.6 1237.71,242.6 1237.73,243.6 1237.75,244.6 1237.78,245.6 1237.82,246.6 1237.86,247.6 1237.92,248.6 1237.98,249.6 1238.05,250.6 1238.13,251.6 1238.21,252.6 1238.30,253.6 1238.40,254.6 1238.50,255.6 1238.61,256.6 1238.72,257.6 1238.83,258.6 1238.95,259.6 1239.07,260.6 1239.19,261.6 1239.31,262.6 1239.44,263.6 1239.56,264.6 1239.68,265.6 1239.80,266.6 1239.92,267.6 1240.03,268.6 1240.14,269.6 1240.24,270.6 1240.34,271.6 1240.44,272.6 1240.52,273.6 1240.60,274.6 1240.68,275.6 1240.74,276.6 1240.80,277.6 1240.85,278.6 1240.89,279.6 1240.92,280.6 1240.94,281.6 1240.95,282.6 1240.95,283.6 1240.95,284.6 1240.93,285.6 1240.90,286.6 1240.86,287.6 1240.81,288.6 1240.76,289.6 1240.69,290.6 1240.61,291.6 1240.53,292.6 1240.43,293.6 1240.33,294.6 1240.22,295.6 1240.11,296.6 1239.98,297.6 1239.85,298.6 1239.72,299.6 1239.57,300.6 1239.43,301.6 1239.28,302.6 1239.13,303.6 1238.97,304.6 1238.81,305.6 1238.65,306.6 1238.49,307.6 1238.33,308.6 1238.17,309.6 1238.01,310.6 1237.85,311.6 1237.68,312.6 1237.52,313.6 1237.37,314.6 1237.21,315.6 1237.05,316.6 1236.90,317.6 1236.74,318.6 1236.59,319.6 1236.44,320.6 1236.29,321.6 1236.14,322.6 1235.99,323.6 1235.84,324.6 1235.69,325.6 1235.54,326.6 1235.39,327.6 1235.24,328.6 1235.09,329.6 1234.93,330.6 1234.78,331.6 1234.62,332.6 1234.47,333.6 1234.31,334.6 1234.15,335.6 1233.99,336.6 1233.83,337.6 1233.68,338.6 1233.52,339.6 1233.36,340.6 1233.20,341.6 1233.05,342.6 1232.89,343.6 1232.74,344.6 1232.59,345.6 1232.45,346.6 1232.31,347.6 1232.17,348.6 1232.04,349.6 1231.91,350.6 1231.79,351.6 1231.67,352.6 1231.56,353.6 1231.45,354.6 1231.35,355.6 1231.25,356.6 1231.16,357.6 1231.08,358.6 1231.00,359.6 1230.93,360.6 1230.86,361.6 1230.80,362.6 1230.74,363.6 1230.69,364.6 1230.64,365.6 1230.60,366.6 1230.55,367.6 1230.52,368.6 1230.48,369.6 1230.45,370.6 1230.43,371.6 1230.40,372.6 1230.38,373.6 1230.36,374.6 1230.34,375.6 1230.33,376.6 1230.31,377.6 1230.30,378.6 1230.29,379.6 1230.28,380.6 1230.27,381.6 1230.26,382.6 1230.26,383.6 1230.20,384.6 1230.20,384.6 1230.14,383.6 1230.14,382.6 1230.13,381.6 1230.12,380.6 1230.11,379.6 1230.10,378.6 1230.09,377.6 1230.07,376.6 1230.06,375.6 1230.04,374.6 1230.02,373.6 1230.00,372.6 1229.97,371.6 1229.95,370.6 1229.92,369.6 1229.88,368.6 1229.85,367.6 1229.80,366.6 1229.76,365.6 1229.71,364.6 1229.66,363.6 1229.60,362.6 1229.54,361.6 1229.47,360.6 1229.40,359.6 1229.32,358.6 1229.24,357.6 1229.15,356.6 1229.05,355.6 1228.95,354.6 1228.84,353.6 1228.73,352.6 1228.61,351.6 1228.49,350.6 1228.36,349.6 1228.23,348.6 1228.09,347.6 1227.95,346.6 1227.81,345.6 1227.66,344.6 1227.51,343.6 1227.35,342.6 1227.20,341.6 1227.04,340.6 1226.88,339.6 1226.72,338.6 1226.57,337.6 1226.41,336.6 1226.25,335.6 1226.09,334.6 1225.93,333.6 1225.78,332.6 1225.62,331.6 1225.47,330.6 1225.31,329.6 1225.16,328.6 1225.01,327.6 1224.86,326.6 1224.71,325.6 1224.56,324.6 1224.41,323.6 1224.26,322.6 1224.11,321.6 1223.96,320.6 1223.81,319.6 1223.66,318.6 1223.50,317.6 1223.35,316.6 1223.19,315.6 1223.03,314.6 1222.88,313.6 1222.72,312.6 1222.55,311.6 1222.39,310.6 1222.23,309.6 1222.07,308.6 1221.91,307.6 1221.75,306.6 1221.59,305.6 1221.43,304.6 1221.27,303.6 1221.12,302.6 1220.97,301.6 1220.83,300.6 1220.68,299.6 1220.55,298.6 1220.42,297.6 1220.29,296.6 1220.18,295.6 1220.07,294.6 1219.97,293.6 1219.87,292.6 1219.79,291.6 1219.71,290.6 1219.64,289.6 1219.59,288.6 1219.54,287.6 1219.50,286.6 1219.47,285.6 1219.45,284.6 1219.45,283.6 1219.45,282.6 1219.46,281.6 1219.48,280.6 1219.51,279.6 1219.55,278.6 1219.60,277.6 1219.66,276.6 1219.72,275.6 1219.80,274.6 1219.88,273.6 1219.96,272.6 1220.06,271.6 1220.16,270.6 1220.26,269.6 1220.37,268.6 1220.48,267.6 1220.60,266.6 1220.72,265.6 1220.84,264.6 1220.96,263.6 1221.09,262.6 1221.21,261.6 1221.33,260.6 1221.45,259.6 1221.57,258.6 1221.68,257.6 1221.79,256.6 1221.90,255.6 1222.00,254.6 1222.10,253.6 1222.19,252.6 1222.27,251.6 1222.35,250.6 1222.42,249.6 1222.48,248.6 1222.54,247.6 1222.58,246.6 1222.62,245.6 1222.65,244.6 1222.67,243.6 1222.69,242.6 1222.69,241.6 1222.68,240.6 1222.67,239.6 1222.65,238.6 1222.62,237.6 1222.58,236.6 1222.53,235.6 1222.48,234.6 1222.42,233.6 1222.35,232.6 1222.27,231.6 1222.19,230.6 1222.11,229.6 1222.02,228.6 1221.92,227.6 1221.83,226.6 1221.73,225.6 1221.62,224.6 1221.52,223.6 1221.41,222.6 1221.30,221.6 1221.20,220.6 1221.09,219.6 1220.98,218.6 1220.88,217.6 1220.78,216.6 1220.68,215.6 1220.58,214.6 1220.48,213.6 1220.39,212.6 1220.31,211.6 1220.22,210.6 1220.15,209.6 1220.07,208.6 1220.00,207.6 1219.94,206.6 1219.88,205.6 1219.83,204.6 1219.78,203.6 1219.74,202.6 1219.71,201.6 1219.68,200.6 1219.65,199.6 1219.64,198.6 1219.62,197.6 1219.62,196.6 1219.62,195.6 1219.63,194.6 1219.65,193.6 1219.67,192.6 1219.70,191.6 1219.74,190.6 1219.78,189.6 1219.84,188.6 1219.90,187.6 1219.97,186.6 1220.04,185.6 1220.13,184.6 1220.23,183.6 1220.33,182.6 1220.45,181.6 1220.57,180.6 1220.70,179.6 1220.85,178.6 1221.00,177.6 1221.16,176.6 1221.33,175.6 1221.51,174.6 1221.70,173.6 1221.90,172.6 1222.10,171.6 1222.32,170.6 1222.54,169.6 1222.76,168.6 1222.99,167.6 1223.23,166.6 1223.47,165.6 1223.72,164.6 1223.97,163.6 1224.22,162.6 1224.47,161.6 1224.72,160.6 1224.98,159.6 1225.23,158.6 1225.47,157.6 1225.72,156.6 1225.96,155.6 1226.20,154.6 1226.43,153.6 1226.66,152.6 1226.88,151.6 1227.09,150.6 1227.30,149.6 1227.50,148.6 1227.69,147.6 1227.87,146.6 1228.05,145.6 1228.21,144.6 1228.37,143.6 1228.52,142.6 1228.66,141.6 1228.79,140.6 1228.92,139.6 1229.03,138.6 1229.14,137.6 1229.24,136.6 1229.33,135.6 1229.42,134.6 1229.50,133.6 1229.57,132.6 1229.63,131.6 1229.69,130.6 1229.75,129.6 1229.80,128.6 1229.84,127.6 1229.89,126.6 1229.92,125.6 1229.95,124.6 1229.98,123.6 1230.01,122.6 1230.03,121.6 1230.06,120.6 1230.07,119.6 1230.09,118.6 1230.10,117.6 1230.12,116.6 1230.13,115.6 1230.14,114.6 1230.15,113.6 1230.20,112.6ZM1222.61 246H1237.79"/>
<path class="v" stroke="#00BFC4" stroke-width="1.45" d="M1256.8 74.4V87.4M1256.8 399.4V430"/>
<path class="v" stroke="#00BFC4" stroke-width="1.45" d="M1256.80,87.4 1256.85,88.4 1256.86,89.4 1256.87,90.4 1256.88,91.4 1256.89,92.4 1256.90,93.4 1256.91,94.4 1256.92,95.4 1256.94,96.4 1256.95,97.4 1256.97,98.4 1256.99,99.4 1257.02,100.4 1257.04,101.4 1257.07,102.4 1257.10,103.4 1257.13,104.4 1257.16,105.4 1257.20,106.4 1257.24,107.4 1257.29,108.4 1257.34,109.4 1257.39,110.4 1257.45,111.4 1257.51,112.4 1257.57,113.4 1257.64,114.4 1257.71,115.4 1257.79,116.4 1257.88,117.4 1257.97,118.4 1258.06,119.4 1258.16,120.4 1258.26,121.4 1258.38,122.4 1258.49,123.4 1258.61,124.4 1258.74,125.4 1258.87,126.4 1259.01,127.4 1259.15,128.4 1259.30,129.4 1259.45,130.4 1259.61,131.4 1259.77,132.4 1259.94,133.4 1260.11,134.4 1260.28,135.4 1260.46,136.4 1260.64,137.4 1260.82,138.4 1261.01,139.4 1261.19,140.4 1261.38,141.4 1261.57,142.4 1261.75,143.4 1261.94,144.4 1262.13,145.4 1262.32,146.4 1262.50,147.4 1262.68,148.4 1262.86,149.4 1263.04,150.4 1263.21,151.4 1263.38,152.4 1263.54,153.4 1263.70,154.4 1263.85,155.4 1264.00,156.4 1264.14,157.4 1264.28,158.4 1264.41,159.4 1264.53,160.4 1264.65,161.4 1264.76,162.4 1264.86,163.4 1264.95,164.4 1265.04,165.4 1265.12,166.4 1265.20,167.4 1265.27,168.4 1265.33,169.4 1265.38,170.4 1265.43,171.4 1265.47,172.4 1265.50,173.4 1265.53,174.4 1265.56,175.4 1265.57,176.4 1265.59,177.4 1265.59,178.4 1265.60,179.4 1265.60,180.4 1265.59,181.4 1265.58,182.4 1265.57,183.4 1265.55,184.4 1265.53,185.4 1265.51,186.4 1265.48,187.4 1265.45,188.4 1265.42,189.4 1265.39,190.4 1265.35,191.4 1265.31,192.4 1265.27,193.4 1265.23,194.4 1265.19,195.4 1265.15,196.4 1265.10,197.4 1265.05,198.4 1265.01,199.4 1264.96,200.4 1264.91,201.4 1264.86,202.4 1264.81,203.4 1264.76,204.4 1264.70,205.4 1264.65,206.4 1264.60,207.4 1264.55,208.4 1264.50,209.4 1264.45,210.4 1264.40,211.4 1264.35,212.4 1264.30,213.4 1264.25,214.4 1264.20,215.4 1264.16,216.4 1264.12,217.4 1264.07,218.4 1264.03,219.4 1264.00,220.4 1263.96,221.4 1263.93,222.4 1263.90,223.4 1263.87,224.4 1263.85,225.4 1263.83,226.4 1263.81,227.4 1263.80,228.4 1263.79,229.4 1263.79,230.4 1263.78,231.4 1263.79,232.4 1263.79,233.4 1263.80,234.4 1263.82,235.4 1263.83,236.4 1263.86,237.4 1263.88,238.4 1263.91,239.4 1263.95,240.4 1263.99,241.4 1264.03,242.4 1264.07,243.4 1264.12,244.4 1264.17,245.4 1264.23,246.4 1264.29,247.4 1264.35,248.4 1264.41,249.4 1264.48,250.4 1264.55,251.4 1264.62,252.4 1264.69,253.4 1264.76,254.4 1264.83,255.4 1264.91,256.4 1264.98,257.4 1265.05,258.4 1265.13,259.4 1265.20,260.4 1265.27,261.4 1265.34,262.4 1265.41,263.4 1265.47,264.4 1265.54,265.4 1265.60,266.4 1265.66,267.4 1265.71,268.4 1265.76,269.4 1265.81,270.4 1265.85,271.4 1265.89,272.4 1265.92,273.4 1265.95,274.4 1265.98,275.4 1266.00,276.4 1266.01,277.4 1266.02,278.4 1266.02,279.4 1266.02,280.4 1266.01,281.4 1265.99,282.4 1265.97,283.4 1265.95,284.4 1265.91,285.4 1265.87,286.4 1265.83,287.4 1265.78,288.4 1265.72,289.4 1265.66,290.4 1265.59,291.4 1265.52,292.4 1265.44,293.4 1265.35,294.4 1265.26,295.4 1265.16,296.4 1265.06,297.4 1264.96,298.4 1264.85,299.4 1264.74,300.4 1264.62,301.4 1264.50,302.4 1264.38,303.4 1264.25,304.4 1264.12,305.4 1263.99,306.4 1263.86,307.4 1263.72,308.4 1263.59,309.4 1263.45,310.4 1263.31,311.4 1263.18,312.4 1263.04,313.4 1262.91,314.4 1262.78,315.4 1262.65,316.4 1262.52,317.4 1262.39,318.4 1262.27,319.4 1262.15,320.4 1262.03,321.4 1261.92,322.4 1261.81,323.4 1261.71,324.4 1261.61,325.4 1261.51,326.4 1261.42,327.4 1261.33,328.4 1261.25,329.4 1261.17,330.4 1261.09,331.4 1261.02,332.4 1260.95,333.4 1260.88,334.4 1260.81,335.4 1260.75,336.4 1260.68,337.4 1260.61,338.4 1260.55,339.4 1260.48,340.4 1260.41,341.4 1260.35,342.4 1260.27,343.4 1260.20,344.4 1260.12,345.4 1260.04,346.4 1259.96,347.4 1259.87,348.4 1259.78,349.4 1259.68,350.4 1259.59,351.4 1259.49,352.4 1259.38,353.4 1259.28,354.4 1259.17,355.4 1259.06,356.4 1258.95,357.4 1258.84,358.4 1258.74,359.4 1258.63,360.4 1258.52,361.4 1258.41,362.4 1258.31,363.4 1258.21,364.4 1258.11,365.4 1258.02,366.4 1257.93,367.4 1257.84,368.4 1257.76,369.4 1257.68,370.4 1257.61,371.4 1257.54,372.4 1257.48,373.4 1257.42,374.4 1257.36,375.4 1257.31,376.4 1257.26,377.4 1257.22,378.4 1257.18,379.4 1257.14,380.4 1257.10,381.4 1257.07,382.4 1257.05,383.4 1257.02,384.4 1257.00,385.4 1256.98,386.4 1256.96,387.4 1256.94,388.4 1256.93,389.4 1256.92,390.4 1256.91,391.4 1256.89,392.4 1256.89,393.4 1256.88,394.4 1256.87,395.4 1256.86,396.4 1256.86,397.4 1256.85,398.4 1256.80,399.4 1256.80,399.4 1256.75,398.4 1256.74,397.4 1256.74,396.4 1256.73,395.4 1256.72,394.4 1256.71,393.4 1256.71,392.4 1256.69,391.4 1256.68,390.4 1256.67,389.4 1256.66,388.4 1256.64,387.4 1256.62,386.4 1256.60,385.4 1256.58,384.4 1256.55,383.4 1256.53,382.4 1256.50,381.4 1256.46,380.4 1256.42,379.4 1256.38,378.4 1256.34,377.4 1256.29,376.4 1256.24,375.4 1256.18,374.4 1256.12,373.4 1256.06,372.4 1255.99,371.4 1255.92,370.4 1255.84,369.4 1255.76,368.4 1255.67,367.4 1255.58,366.4 1255.49,365.4 1255.39,364.4 1255.29,363.4 1255.19,362.4 1255.08,361.4 1254.97,360.4 1254.86,359.4 1254.76,358.4 1254.65,357.4 1254.54,356.4 1254.43,355.4 1254.32,354.4 1254.22,353.4 1254.11,352.4 1254.01,351.4 1253.92,350.4 1253.82,349.4 1253.73,348.4 1253.64,347.4 1253.56,346.4 1253.48,345.4 1253.40,344.4 1253.33,343.4 1253.25,342.4 1253.19,341.4 1253.12,340.4 1253.05,339.4 1252.99,338.4 1252.92,337.4 1252.85,336.4 1252.79,335.4 1252.72,334.4 1252.65,333.4 1252.58,332.4 1252.51,331.4 1252.43,330.4 1252.35,329.4 1252.27,328.4 1252.18,327.4 1252.09,326.4 1251.99,325.4 1251.89,324.4 1251.79,323.4 1251.68,322.4 1251.57,321.4 1251.45,320.4 1251.33,319.4 1251.21,318.4 1251.08,317.4 1250.95,316.4 1250.82,315.4 1250.69,314.4 1250.56,313.4 1250.42,312.4 1250.29,311.4 1250.15,310.4 1250.01,309.4 1249.88,308.4 1249.74,307.4 1249.61,306.4 1249.48,305.4 1249.35,304.4 1249.22,303.4 1249.10,302.4 1248.98,301.4 1248.86,300.4 1248.75,299.4 1248.64,298.4 1248.54,297.4 1248.44,296.4 1248.34,295.4 1248.25,294.4 1248.16,293.4 1248.08,292.4 1248.01,291.4 1247.94,290.4 1247.88,289.4 1247.82,288.4 1247.77,287.4 1247.73,286.4 1247.69,285.4 1247.65,284.4 1247.63,283.4 1247.61,282.4 1247.59,281.4 1247.58,280.4 1247.58,279.4 1247.58,278.4 1247.59,277.4 1247.60,276.4 1247.62,275.4 1247.65,274.4 1247.68,273.4 1247.71,272.4 1247.75,271.4 1247.79,270.4 1247.84,269.4 1247.89,268.4 1247.94,267.4 1248.00,266.4 1248.06,265.4 1248.13,264.4 1248.19,263.4 1248.26,262.4 1248.33,261.4 1248.40,260.4 1248.47,259.4 1248.55,258.4 1248.62,257.4 1248.69,256.4 1248.77,255.4 1248.84,254.4 1248.91,253.4 1248.98,252.4 1249.05,251.4 1249.12,250.4 1249.19,249.4 1249.25,248.4 1249.31,247.4 1249.37,246.4 1249.43,245.4 1249.48,244.4 1249.53,243.4 1249.57,242.4 1249.61,241.4 1249.65,240.4 1249.69,239.4 1249.72,238.4 1249.74,237.4 1249.77,236.4 1249.78,235.4 1249.80,234.4 1249.81,233.4 1249.81,232.4 1249.82,231.4 1249.81,230.4 1249.81,229.4 1249.80,228.4 1249.79,227.4 1249.77,226.4 1249.75,225.4 1249.73,224.4 1249.70,223.4 1249.67,222.4 1249.64,221.4 1249.60,220.4 1249.57,219.4 1249.53,218.4 1249.48,217.4 1249.44,216.4 1249.40,215.4 1249.35,214.4 1249.30,213.4 1249.25,212.4 1249.20,211.4 1249.15,210.4 1249.10,209.4 1249.05,208.4 1249.00,207.4 1248.95,206.4 1248.90,205.4 1248.84,204.4 1248.79,203.4 1248.74,202.4 1248.69,201.4 1248.64,200.4 1248.59,199.4 1248.55,198.4 1248.50,197.4 1248.45,196.4 1248.41,195.4 1248.37,194.4 1248.33,193.4 1248.29,192.4 1248.25,191.4 1248.21,190.4 1248.18,189.4 1248.15,188.4 1248.12,187.4 1248.09,186.4 1248.07,185.4 1248.05,184.4 1248.03,183.4 1248.02,182.4 1248.01,181.4 1248.00,180.4 1248.00,179.4 1248.01,178.4 1248.01,177.4 1248.03,176.4 1248.04,175.4 1248.07,174.4 1248.10,173.4 1248.13,172.4 1248.17,171.4 1248.22,170.4 1248.27,169.4 1248.33,168.4 1248.40,167.4 1248.48,166.4 1248.56,165.4 1248.65,164.4 1248.74,163.4 1248.84,162.4 1248.95,161.4 1249.07,160.4 1249.19,159.4 1249.32,158.4 1249.46,157.4 1249.60,156.4 1249.75,155.4 1249.90,154.4 1250.06,153.4 1250.22,152.4 1250.39,151.4 1250.56,150.4 1250.74,149.4 1250.92,148.4 1251.10,147.4 1251.28,146.4 1251.47,145.4 1251.66,144.4 1251.85,143.4 1252.03,142.4 1252.22,141.4 1252.41,140.4 1252.59,139.4 1252.78,138.4 1252.96,137.4 1253.14,136.4 1253.32,135.4 1253.49,134.4 1253.66,133.4 1253.83,132.4 1253.99,131.4 1254.15,130.4 1254.30,129.4 1254.45,128.4 1254.59,127.4 1254.73,126.4 1254.86,125.4 1254.99,124.4 1255.11,123.4 1255.22,122.4 1255.34,121.4 1255.44,120.4 1255.54,119.4 1255.63,118.4 1255.72,117.4 1255.81,116.4 1255.89,115.4 1255.96,114.4 1256.03,113.4 1256.09,112.4 1256.15,111.4 1256.21,110.4 1256.26,109.4 1256.31,108.4 1256.36,107.4 1256.40,106.4 1256.44,105.4 1256.47,104.4 1256.50,103.4 1256.53,102.4 1256.56,101.4 1256.58,100.4 1256.61,99.4 1256.63,98.4 1256.65,97.4 1256.66,96.4 1256.68,95.4 1256.69,94.4 1256.70,93.4 1256.71,92.4 1256.72,91.4 1256.73,90.4 1256.74,89.4 1256.75,88.4 1256.80,87.4ZM1249.56 242.6H1264.04"/>
<path class="v" stroke="#619CFF" stroke-width="1.45" d="M1283.4 88.6V94.6M1283.4 393.6V415.4"/>
<path class="v" stroke="#619CFF" stroke-width="1.45" d="M1283.40,94.6 1283.45,95.6 1283.46,96.6 1283.47,97.6 1283.48,98.6 1283.49,99.6 1283.50,100.6 1283.51,101.6 1283.53,102.6 1283.55,103.6 1283.57,104.6 1283.59,105.6 1283.61,106.6 1283.64,107.6 1283.67,108.6 1283.70,109.6 1283.73,110.6 1283.77,111.6 1283.81,112.6 1283.86,113.6 1283.91,114.6 1283.96,115.6 1284.02,116.6 1284.08,117.6 1284.15,118.6 1284.22,119.6 1284.30,120.6 1284.38,121.6 1284.47,122.6 1284.57,123.6 1284.67,124.6 1284.77,125.6 1284.89,126.6 1285.01,127.6 1285.13,128.6 1285.27,129.6 1285.41,130.6 1285.55,131.6 1285.70,132.6 1285.86,133.6 1286.02,134.6 1286.19,135.6 1286.37,136.6 1286.55,137.6 1286.73,138.6 1286.92,139.6 1287.11,140.6 1287.31,141.6 1287.51,142.6 1287.72,143.6 1287.92,144.6 1288.13,145.6 1288.34,146.6 1288.55,147.6 1288.76,148.6 1288.97,149.6 1289.17,150.6 1289.38,151.6 1289.58,152.6 1289.78,153.6 1289.98,154.6 1290.18,155.6 1290.36,156.6 1290.55,157.6 1290.73,158.6 1290.90,159.6 1291.07,160.6 1291.23,161.6 1291.38,162.6 1291.53,163.6 1291.67,164.6 1291.80,165.6 1291.92,166.6 1292.04,167.6 1292.15,168.6 1292.25,169.6 1292.34,170.6 1292.43,171.6 1292.51,172.6 1292.58,173.6 1292.64,174.6 1292.70,175.6 1292.75,176.6 1292.79,177.6 1292.83,178.6 1292.86,179.6 1292.88,180.6 1292.90,181.6 1292.92,182.6 1292.93,183.6 1292.93,184.6 1292.93,185.6 1292.93,186.6 1292.92,187.6 1292.90,188.6 1292.89,189.6 1292.87,190.6 1292.85,191.6 1292.82,192.6 1292.79,193.6 1292.76,194.6 1292.72,195.6 1292.68,196.6 1292.64,197.6 1292.60,198.6 1292.56,199.6 1292.51,200.6 1292.46,201.6 1292.41,202.6 1292.36,203.6 1292.31,204.6 1292.25,205.6 1292.19,206.6 1292.14,207.6 1292.08,208.6 1292.02,209.6 1291.96,210.6 1291.91,211.6 1291.85,212.6 1291.79,213.6 1291.74,214.6 1291.68,215.6 1291.63,216.6 1291.58,217.6 1291.53,218.6 1291.48,219.6 1291.43,220.6 1291.39,221.6 1291.36,222.6 1291.32,223.6 1291.29,224.6 1291.27,225.6 1291.25,226.6 1291.23,227.6 1291.22,228.6 1291.21,229.6 1291.21,230.6 1291.22,231.6 1291.23,232.6 1291.25,233.6 1291.27,234.6 1291.30,235.6 1291.33,236.6 1291.37,237.6 1291.42,238.6 1291.47,239.6 1291.53,240.6 1291.59,241.6 1291.66,242.6 1291.73,243.6 1291.81,244.6 1291.89,245.6 1291.98,246.6 1292.06,247.6 1292.16,248.6 1292.25,249.6 1292.35,250.6 1292.45,251.6 1292.55,252.6 1292.65,253.6 1292.75,254.6 1292.85,255.6 1292.95,256.6 1293.05,257.6 1293.15,258.6 1293.25,259.6 1293.34,260.6 1293.43,261.6 1293.51,262.6 1293.59,263.6 1293.67,264.6 1293.74,265.6 1293.81,266.6 1293.86,267.6 1293.92,268.6 1293.96,269.6 1294.00,270.6 1294.04,271.6 1294.06,272.6 1294.08,273.6 1294.09,274.6 1294.09,275.6 1294.09,276.6 1294.08,277.6 1294.05,278.6 1294.03,279.6 1293.99,280.6 1293.95,281.6 1293.89,282.6 1293.83,283.6 1293.77,284.6 1293.70,285.6 1293.62,286.6 1293.53,287.6 1293.44,288.6 1293.34,289.6 1293.24,290.6 1293.13,291.6 1293.02,292.6 1292.90,293.6 1292.78,294.6 1292.65,295.6 1292.52,296.6 1292.39,297.6 1292.26,298.6 1292.12,299.6 1291.98,300.6 1291.84,301.6 1291.70,302.6 1291.55,303.6 1291.41,304.6 1291.27,305.6 1291.12,306.6 1290.98,307.6 1290.83,308.6 1290.68,309.6 1290.54,310.6 1290.39,311.6 1290.25,312.6 1290.11,313.6 1289.96,314.6 1289.82,315.6 1289.68,316.6 1289.54,317.6 1289.40,318.6 1289.26,319.6 1289.12,320.6 1288.98,321.6 1288.84,322.6 1288.70,323.6 1288.57,324.6 1288.43,325.6 1288.29,326.6 1288.16,327.6 1288.03,328.6 1287.89,329.6 1287.76,330.6 1287.63,331.6 1287.50,332.6 1287.37,333.6 1287.24,334.6 1287.11,335.6 1286.98,336.6 1286.86,337.6 1286.73,338.6 1286.61,339.6 1286.48,340.6 1286.36,341.6 1286.24,342.6 1286.12,343.6 1286.01,344.6 1285.89,345.6 1285.78,346.6 1285.67,347.6 1285.56,348.6 1285.46,349.6 1285.36,350.6 1285.26,351.6 1285.16,352.6 1285.06,353.6 1284.97,354.6 1284.88,355.6 1284.80,356.6 1284.71,357.6 1284.63,358.6 1284.56,359.6 1284.48,360.6 1284.41,361.6 1284.34,362.6 1284.28,363.6 1284.22,364.6 1284.16,365.6 1284.11,366.6 1284.05,367.6 1284.00,368.6 1283.96,369.6 1283.91,370.6 1283.87,371.6 1283.83,372.6 1283.80,373.6 1283.76,374.6 1283.73,375.6 1283.70,376.6 1283.68,377.6 1283.65,378.6 1283.63,379.6 1283.61,380.6 1283.59,381.6 1283.57,382.6 1283.55,383.6 1283.54,384.6 1283.52,385.6 1283.51,386.6 1283.50,387.6 1283.49,388.6 1283.48,389.6 1283.47,390.6 1283.46,391.6 1283.45,392.6 1283.40,393.6 1283.40,393.6 1283.35,392.6 1283.34,391.6 1283.33,390.6 1283.32,389.6 1283.31,388.6 1283.30,387.6 1283.29,386.6 1283.28,385.6 1283.26,384.6 1283.25,383.6 1283.23,382.6 1283.21,381.6 1283.19,380.6 1283.17,379.6 1283.15,378.6 1283.12,377.6 1283.10,376.6 1283.07,375.6 1283.04,374.6 1283.00,373.6 1282.97,372.6 1282.93,371.6 1282.89,370.6 1282.84,369.6 1282.80,368.6 1282.75,367.6 1282.69,366.6 1282.64,365.6 1282.58,364.6 1282.52,363.6 1282.46,362.6 1282.39,361.6 1282.32,360.6 1282.24,359.6 1282.17,358.6 1282.09,357.6 1282.00,356.6 1281.92,355.6 1281.83,354.6 1281.74,353.6 1281.64,352.6 1281.54,351.6 1281.44,350.6 1281.34,349.6 1281.24,348.6 1281.13,347.6 1281.02,346.6 1280.91,345.6 1280.79,344.6 1280.68,343.6 1280.56,342.6 1280.44,341.6 1280.32,340.6 1280.19,339.6 1280.07,338.6 1279.94,337.6 1279.82,336.6 1279.69,335.6 1279.56,334.6 1279.43,333.6 1279.30,332.6 1279.17,331.6 1279.04,330.6 1278.91,329.6 1278.77,328.6 1278.64,327.6 1278.51,326.6 1278.37,325.6 1278.23,324.6 1278.10,323.6 1277.96,322.6 1277.82,321.6 1277.68,320.6 1277.54,319.6 1277.40,318.6 1277.26,317.6 1277.12,316.6 1276.98,315.6 1276.84,314.6 1276.69,313.6 1276.55,312.6 1276.41,311.6 1276.26,310.6 1276.12,309.6 1275.97,308.6 1275.82,307.6 1275.68,306.6 1275.53,305.6 1275.39,304.6 1275.25,303.6 1275.10,302.6 1274.96,301.6 1274.82,300.6 1274.68,299.6 1274.54,298.6 1274.41,297.6 1274.28,296.6 1274.15,295.6 1274.02,294.6 1273.90,293.6 1273.78,292.6 1273.67,291.6 1273.56,290.6 1273.46,289.6 1273.36,288.6 1273.27,287.6 1273.18,286.6 1273.10,285.6 1273.03,284.6 1272.97,283.6 1272.91,282.6 1272.85,281.6 1272.81,280.6 1272.77,279.6 1272.75,278.6 1272.72,277.6 1272.71,276.6 1272.71,275.6 1272.71,274.6 1272.72,273.6 1272.74,272.6 1272.76,271.6 1272.80,270.6 1272.84,269.6 1272.88,268.6 1272.94,267.6 1272.99,266.6 1273.06,265.6 1273.13,264.6 1273.21,263.6 1273.29,262.6 1273.37,261.6 1273.46,260.6 1273.55,259.6 1273.65,258.6 1273.75,257.6 1273.85,256.6 1273.95,255.6 1274.05,254.6 1274.15,253.6 1274.25,252.6 1274.35,251.6 1274.45,250.6 1274.55,249.6 1274.64,248.6 1274.74,247.6 1274.82,246.6 1274.91,245.6 1274.99,244.6 1275.07,243.6 1275.14,242.6 1275.21,241.6 1275.27,240.6 1275.33,239.6 1275.38,238.6 1275.43,237.6 1275.47,236.6 1275.50,235.6 1275.53,234.6 1275.55,233.6 1275.57,232.6 1275.58,231.6 1275.59,230.6 1275.59,229.6 1275.58,228.6 1275.57,227.6 1275.55,226.6 1275.53,225.6 1275.51,224.6 1275.48,223.6 1275.44,222.6 1275.41,221.6 1275.37,220.6 1275.32,219.6 1275.27,218.6 1275.22,217.6 1275.17,216.6 1275.12,215.6 1275.06,214.6 1275.01,213.6 1274.95,212.6 1274.89,211.6 1274.84,210.6 1274.78,209.6 1274.72,208.6 1274.66,207.6 1274.61,206.6 1274.55,205.6 1274.49,204.6 1274.44,203.6 1274.39,202.6 1274.34,201.6 1274.29,200.6 1274.24,199.6 1274.20,198.6 1274.16,197.6 1274.12,196.6 1274.08,195.6 1274.04,194.6 1274.01,193.6 1273.98,192.6 1273.95,191.6 1273.93,190.6 1273.91,189.6 1273.90,188.6 1273.88,187.6 1273.87,186.6 1273.87,185.6 1273.87,184.6 1273.87,183.6 1273.88,182.6 1273.90,181.6 1273.92,180.6 1273.94,179.6 1273.97,178.6 1274.01,177.6 1274.05,176.6 1274.10,175.6 1274.16,174.6 1274.22,173.6 1274.29,172.6 1274.37,171.6 1274.46,170.6 1274.55,169.6 1274.65,168.6 1274.76,167.6 1274.88,166.6 1275.00,165.6 1275.13,164.6 1275.27,163.6 1275.42,162.6 1275.57,161.6 1275.73,160.6 1275.90,159.6 1276.07,158.6 1276.25,157.6 1276.44,156.6 1276.62,155.6 1276.82,154.6 1277.02,153.6 1277.22,152.6 1277.42,151.6 1277.63,150.6 1277.83,149.6 1278.04,148.6 1278.25,147.6 1278.46,146.6 1278.67,145.6 1278.88,144.6 1279.08,143.6 1279.29,142.6 1279.49,141.6 1279.69,140.6 1279.88,139.6 1280.07,138.6 1280.25,137.6 1280.43,136.6 1280.61,135.6 1280.78,134.6 1280.94,133.6 1281.10,132.6 1281.25,131.6 1281.39,130.6 1281.53,129.6 1281.67,128.6 1281.79,127.6 1281.91,126.6 1282.03,125.6 1282.13,124.6 1282.23,123.6 1282.33,122.6 1282.42,121.6 1282.50,120.6 1282.58,119.6 1282.65,118.6 1282.72,117.6 1282.78,116.6 1282.84,115.6 1282.89,114.6 1282.94,113.6 1282.99,112.6 1283.03,111.6 1283.07,110.6 1283.10,109.6 1283.13,108.6 1283.16,107.6 1283.19,106.6 1283.21,105.6 1283.23,104.6 1283.25,103.6 1283.27,102.6 1283.29,101.6 1283.30,100.6 1283.31,99.6 1283.32,98.6 1283.33,97.6 1283.34,96.6 1283.35,95.6 1283.40,94.6ZM1275.08 243.4H1291.72"/>
<path class="v" stroke="#F564E3" stroke-width="1.45" d="M1310 79V93.0M1310 404.0V412.6"/>
<path class="v" stroke="#F564E3" stroke-width="1.45" d="M1310.00,93.0 1310.05,94.0 1310.06,95.0 1310.07,96.0 1310.08,97.0 1310.09,98.0 1310.10,99.0 1310.12,100.0 1310.13,101.0 1310.15,102.0 1310.17,103.0 1310.19,104.0 1310.22,105.0 1310.25,106.0 1310.28,107.0 1310.31,108.0 1310.35,109.0 1310.39,110.0 1310.44,111.0 1310.49,112.0 1310.54,113.0 1310.60,114.0 1310.66,115.0 1310.73,116.0 1310.81,117.0 1310.89,118.0 1310.98,119.0 1311.07,120.0 1311.17,121.0 1311.28,122.0 1311.39,123.0 1311.51,124.0 1311.64,125.0 1311.77,126.0 1311.91,127.0 1312.06,128.0 1312.22,129.0 1312.38,130.0 1312.54,131.0 1312.72,132.0 1312.89,133.0 1313.08,134.0 1313.27,135.0 1313.46,136.0 1313.66,137.0 1313.86,138.0 1314.06,139.0 1314.27,140.0 1314.47,141.0 1314.68,142.0 1314.89,143.0 1315.10,144.0 1315.31,145.0 1315.51,146.0 1315.72,147.0 1315.92,148.0 1316.11,149.0 1316.30,150.0 1316.49,151.0 1316.67,152.0 1316.85,153.0 1317.02,154.0 1317.18,155.0 1317.34,156.0 1317.49,157.0 1317.63,158.0 1317.77,159.0 1317.89,160.0 1318.01,161.0 1318.13,162.0 1318.23,163.0 1318.33,164.0 1318.42,165.0 1318.51,166.0 1318.58,167.0 1318.65,168.0 1318.72,169.0 1318.78,170.0 1318.83,171.0 1318.88,172.0 1318.93,173.0 1318.97,174.0 1319.00,175.0 1319.03,176.0 1319.06,177.0 1319.09,178.0 1319.11,179.0 1319.13,180.0 1319.15,181.0 1319.16,182.0 1319.18,183.0 1319.19,184.0 1319.20,185.0 1319.20,186.0 1319.21,187.0 1319.21,188.0 1319.21,189.0 1319.21,190.0 1319.21,191.0 1319.21,192.0 1319.20,193.0 1319.19,194.0 1319.18,195.0 1319.17,196.0 1319.15,197.0 1319.14,198.0 1319.12,199.0 1319.10,200.0 1319.07,201.0 1319.05,202.0 1319.02,203.0 1318.99,204.0 1318.96,205.0 1318.93,206.0 1318.89,207.0 1318.86,208.0 1318.82,209.0 1318.79,210.0 1318.75,211.0 1318.71,212.0 1318.68,213.0 1318.64,214.0 1318.60,215.0 1318.57,216.0 1318.53,217.0 1318.50,218.0 1318.47,219.0 1318.44,220.0 1318.41,221.0 1318.38,222.0 1318.36,223.0 1318.34,224.0 1318.33,225.0 1318.32,226.0 1318.31,227.0 1318.30,228.0 1318.30,229.0 1318.30,230.0 1318.31,231.0 1318.32,232.0 1318.34,233.0 1318.36,234.0 1318.39,235.0 1318.41,236.0 1318.45,237.0 1318.49,238.0 1318.53,239.0 1318.57,240.0 1318.62,241.0 1318.68,242.0 1318.73,243.0 1318.79,244.0 1318.86,245.0 1318.92,246.0 1318.99,247.0 1319.06,248.0 1319.13,249.0 1319.21,250.0 1319.28,251.0 1319.36,252.0 1319.44,253.0 1319.52,254.0 1319.59,255.0 1319.67,256.0 1319.75,257.0 1319.82,258.0 1319.90,259.0 1319.97,260.0 1320.04,261.0 1320.11,262.0 1320.17,263.0 1320.23,264.0 1320.29,265.0 1320.35,266.0 1320.40,267.0 1320.44,268.0 1320.48,269.0 1320.52,270.0 1320.55,271.0 1320.58,272.0 1320.60,273.0 1320.62,274.0 1320.63,275.0 1320.64,276.0 1320.63,277.0 1320.63,278.0 1320.61,279.0 1320.59,280.0 1320.57,281.0 1320.54,282.0 1320.50,283.0 1320.45,284.0 1320.40,285.0 1320.35,286.0 1320.28,287.0 1320.21,288.0 1320.14,289.0 1320.06,290.0 1319.97,291.0 1319.88,292.0 1319.78,293.0 1319.67,294.0 1319.56,295.0 1319.45,296.0 1319.33,297.0 1319.21,298.0 1319.08,299.0 1318.95,300.0 1318.81,301.0 1318.67,302.0 1318.53,303.0 1318.38,304.0 1318.23,305.0 1318.08,306.0 1317.93,307.0 1317.77,308.0 1317.61,309.0 1317.45,310.0 1317.29,311.0 1317.12,312.0 1316.96,313.0 1316.79,314.0 1316.63,315.0 1316.46,316.0 1316.29,317.0 1316.13,318.0 1315.96,319.0 1315.79,320.0 1315.63,321.0 1315.47,322.0 1315.30,323.0 1315.14,324.0 1314.98,325.0 1314.82,326.0 1314.67,327.0 1314.51,328.0 1314.36,329.0 1314.21,330.0 1314.06,331.0 1313.92,332.0 1313.78,333.0 1313.64,334.0 1313.50,335.0 1313.37,336.0 1313.23,337.0 1313.11,338.0 1312.98,339.0 1312.86,340.0 1312.74,341.0 1312.62,342.0 1312.51,343.0 1312.40,344.0 1312.30,345.0 1312.19,346.0 1312.09,347.0 1312.00,348.0 1311.90,349.0 1311.81,350.0 1311.73,351.0 1311.64,352.0 1311.56,353.0 1311.48,354.0 1311.41,355.0 1311.34,356.0 1311.27,357.0 1311.20,358.0 1311.14,359.0 1311.07,360.0 1311.02,361.0 1310.96,362.0 1310.91,363.0 1310.85,364.0 1310.81,365.0 1310.76,366.0 1310.71,367.0 1310.67,368.0 1310.63,369.0 1310.59,370.0 1310.56,371.0 1310.52,372.0 1310.49,373.0 1310.46,374.0 1310.43,375.0 1310.40,376.0 1310.38,377.0 1310.35,378.0 1310.33,379.0 1310.31,380.0 1310.29,381.0 1310.27,382.0 1310.25,383.0 1310.23,384.0 1310.22,385.0 1310.20,386.0 1310.19,387.0 1310.17,388.0 1310.16,389.0 1310.15,390.0 1310.14,391.0 1310.13,392.0 1310.12,393.0 1310.11,394.0 1310.10,395.0 1310.09,396.0 1310.09,397.0 1310.08,398.0 1310.07,399.0 1310.07,400.0 1310.06,401.0 1310.06,402.0 1310.05,403.0 1310.00,404.0 1310.00,404.0 1309.95,403.0 1309.94,402.0 1309.94,401.0 1309.93,400.0 1309.93,399.0 1309.92,398.0 1309.91,397.0 1309.91,396.0 1309.90,395.0 1309.89,394.0 1309.88,393.0 1309.87,392.0 1309.86,391.0 1309.85,390.0 1309.84,389.0 1309.83,388.0 1309.81,387.0 1309.80,386.0 1309.78,385.0 1309.77,384.0 1309.75,383.0 1309.73,382.0 1309.71,381.0 1309.69,380.0 1309.67,379.0 1309.65,378.0 1309.62,377.0 1309.60,376.0 1309.57,375.0 1309.54,374.0 1309.51,373.0 1309.48,372.0 1309.44,371.0 1309.41,370.0 1309.37,369.0 1309.33,368.0 1309.29,367.0 1309.24,366.0 1309.19,365.0 1309.15,364.0 1309.09,363.0 1309.04,362.0 1308.98,361.0 1308.93,360.0 1308.86,359.0 1308.80,358.0 1308.73,357.0 1308.66,356.0 1308.59,355.0 1308.52,354.0 1308.44,353.0 1308.36,352.0 1308.27,351.0 1308.19,350.0 1308.10,349.0 1308.00,348.0 1307.91,347.0 1307.81,346.0 1307.70,345.0 1307.60,344.0 1307.49,343.0 1307.38,342.0 1307.26,341.0 1307.14,340.0 1307.02,339.0 1306.89,338.0 1306.77,337.0 1306.63,336.0 1306.50,335.0 1306.36,334.0 1306.22,333.0 1306.08,332.0 1305.94,331.0 1305.79,330.0 1305.64,329.0 1305.49,328.0 1305.33,327.0 1305.18,326.0 1305.02,325.0 1304.86,324.0 1304.70,323.0 1304.53,322.0 1304.37,321.0 1304.21,320.0 1304.04,319.0 1303.87,318.0 1303.71,317.0 1303.54,316.0 1303.37,315.0 1303.21,314.0 1303.04,313.0 1302.88,312.0 1302.71,311.0 1302.55,310.0 1302.39,309.0 1302.23,308.0 1302.07,307.0 1301.92,306.0 1301.77,305.0 1301.62,304.0 1301.47,303.0 1301.33,302.0 1301.19,301.0 1301.05,300.0 1300.92,299.0 1300.79,298.0 1300.67,297.0 1300.55,296.0 1300.44,295.0 1300.33,294.0 1300.22,293.0 1300.12,292.0 1300.03,291.0 1299.94,290.0 1299.86,289.0 1299.79,288.0 1299.72,287.0 1299.65,286.0 1299.60,285.0 1299.55,284.0 1299.50,283.0 1299.46,282.0 1299.43,281.0 1299.41,280.0 1299.39,279.0 1299.37,278.0 1299.37,277.0 1299.36,276.0 1299.37,275.0 1299.38,274.0 1299.40,273.0 1299.42,272.0 1299.45,271.0 1299.48,270.0 1299.52,269.0 1299.56,268.0 1299.60,267.0 1299.65,266.0 1299.71,265.0 1299.77,264.0 1299.83,263.0 1299.89,262.0 1299.96,261.0 1300.03,260.0 1300.10,259.0 1300.18,258.0 1300.25,257.0 1300.33,256.0 1300.41,255.0 1300.48,254.0 1300.56,253.0 1300.64,252.0 1300.72,251.0 1300.79,250.0 1300.87,249.0 1300.94,248.0 1301.01,247.0 1301.08,246.0 1301.14,245.0 1301.21,244.0 1301.27,243.0 1301.32,242.0 1301.38,241.0 1301.43,240.0 1301.47,239.0 1301.51,238.0 1301.55,237.0 1301.59,236.0 1301.61,235.0 1301.64,234.0 1301.66,233.0 1301.68,232.0 1301.69,231.0 1301.70,230.0 1301.70,229.0 1301.70,228.0 1301.69,227.0 1301.68,226.0 1301.67,225.0 1301.66,224.0 1301.64,223.0 1301.62,222.0 1301.59,221.0 1301.56,220.0 1301.53,219.0 1301.50,218.0 1301.47,217.0 1301.43,216.0 1301.40,215.0 1301.36,214.0 1301.32,213.0 1301.29,212.0 1301.25,211.0 1301.21,210.0 1301.18,209.0 1301.14,208.0 1301.11,207.0 1301.07,206.0 1301.04,205.0 1301.01,204.0 1300.98,203.0 1300.95,202.0 1300.93,201.0 1300.90,200.0 1300.88,199.0 1300.86,198.0 1300.85,197.0 1300.83,196.0 1300.82,195.0 1300.81,194.0 1300.80,193.0 1300.79,192.0 1300.79,191.0 1300.79,190.0 1300.79,189.0 1300.79,188.0 1300.79,187.0 1300.80,186.0 1300.80,185.0 1300.81,184.0 1300.82,183.0 1300.84,182.0 1300.85,181.0 1300.87,180.0 1300.89,179.0 1300.91,178.0 1300.94,177.0 1300.97,176.0 1301.00,175.0 1301.03,174.0 1301.07,173.0 1301.12,172.0 1301.17,171.0 1301.22,170.0 1301.28,169.0 1301.35,168.0 1301.42,167.0 1301.49,166.0 1301.58,165.0 1301.67,164.0 1301.77,163.0 1301.87,162.0 1301.99,161.0 1302.11,160.0 1302.23,159.0 1302.37,158.0 1302.51,157.0 1302.66,156.0 1302.82,155.0 1302.98,154.0 1303.15,153.0 1303.33,152.0 1303.51,151.0 1303.70,150.0 1303.89,149.0 1304.08,148.0 1304.28,147.0 1304.49,146.0 1304.69,145.0 1304.90,144.0 1305.11,143.0 1305.32,142.0 1305.53,141.0 1305.73,140.0 1305.94,139.0 1306.14,138.0 1306.34,137.0 1306.54,136.0 1306.73,135.0 1306.92,134.0 1307.11,133.0 1307.28,132.0 1307.46,131.0 1307.62,130.0 1307.78,129.0 1307.94,128.0 1308.09,127.0 1308.23,126.0 1308.36,125.0 1308.49,124.0 1308.61,123.0 1308.72,122.0 1308.83,121.0 1308.93,120.0 1309.02,119.0 1309.11,118.0 1309.19,117.0 1309.27,116.0 1309.34,115.0 1309.40,114.0 1309.46,113.0 1309.51,112.0 1309.56,111.0 1309.61,110.0 1309.65,109.0 1309.69,108.0 1309.72,107.0 1309.75,106.0 1309.78,105.0 1309.81,104.0 1309.83,103.0 1309.85,102.0 1309.87,101.0 1309.88,100.0 1309.90,99.0 1309.91,98.0 1309.92,97.0 1309.93,96.0 1309.94,95.0 1309.95,94.0 1310.00,93.0ZM1301.53 237.6H1318.47"/></g>
</svg></body></html>
